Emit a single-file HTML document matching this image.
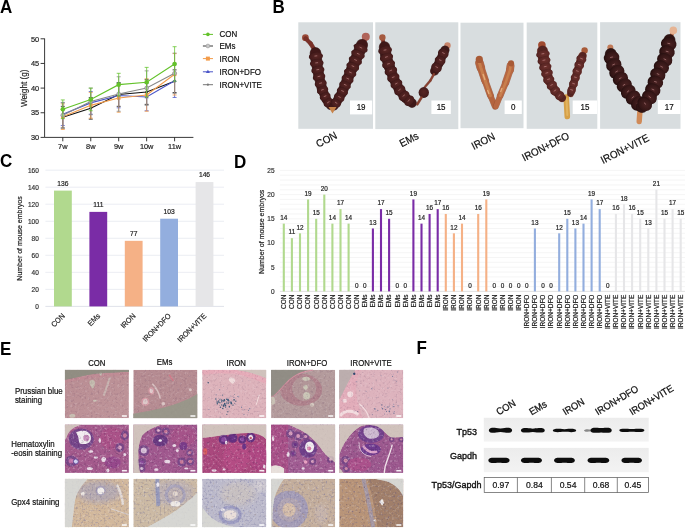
<!DOCTYPE html>
<html><head><meta charset="utf-8"><style>
html,body{margin:0;padding:0;background:#fff;}
body{width:685px;height:528px;overflow:hidden;font-family:"Liberation Sans",sans-serif;}
svg{display:block;will-change:transform;}
svg text{font-family:"Liberation Sans",sans-serif;}
</style></head><body>
<svg width="685" height="528" viewBox="0 0 685 528">
<defs><radialGradient id="bead" cx="0.5" cy="0.45" r="0.6"><stop offset="0" stop-color="#582624"/><stop offset="0.75" stop-color="#461c1c"/><stop offset="1" stop-color="#2e1010"/></radialGradient><radialGradient id="beadd" cx="0.5" cy="0.45" r="0.6"><stop offset="0" stop-color="#6c302c"/><stop offset="0.75" stop-color="#5a2624"/><stop offset="1" stop-color="#3a1614"/></radialGradient><radialGradient id="beadv" cx="0.5" cy="0.42" r="0.6"><stop offset="0" stop-color="#4a2222"/><stop offset="0.7" stop-color="#341616"/><stop offset="1" stop-color="#200c0c"/></radialGradient><filter id="nzL" x="0" y="0" width="1" height="1" color-interpolation-filters="sRGB"><feTurbulence type="fractalNoise" baseFrequency="0.4" numOctaves="2" seed="5"/><feColorMatrix type="matrix" values="0 0 0 0 1  0 0 0 0 1  0 0 0 0 1  4 0 0 0 -2.2"/></filter><filter id="nzB" x="0" y="0" width="1" height="1" color-interpolation-filters="sRGB"><feTurbulence type="fractalNoise" baseFrequency="0.5" numOctaves="2" seed="17"/><feColorMatrix type="matrix" values="0 0 0 0 0.3  0 0 0 0 0.3  0 0 0 0 0.5  0 4 0 0 -2.1"/></filter><filter id="nzD" x="0" y="0" width="1" height="1" color-interpolation-filters="sRGB"><feTurbulence type="fractalNoise" baseFrequency="0.45" numOctaves="2" seed="11"/><feColorMatrix type="matrix" values="0 0 0 0 0.25  0 0 0 0 0.12  0 0 0 0 0.3  0 4 0 0 -2.2"/></filter><clipPath id="c0"><rect x="64.80" y="369.80" width="64.10" height="48.40"/></clipPath><clipPath id="c1"><rect x="133.30" y="369.80" width="64.10" height="48.40"/></clipPath><clipPath id="c2"><rect x="202.20" y="369.80" width="64.10" height="48.40"/></clipPath><clipPath id="c3"><rect x="271.10" y="369.80" width="64.10" height="48.40"/></clipPath><clipPath id="c4"><rect x="339.20" y="369.80" width="64.10" height="48.40"/></clipPath><clipPath id="c5"><rect x="64.80" y="424.50" width="64.10" height="48.40"/></clipPath><clipPath id="c6"><rect x="133.30" y="424.50" width="64.10" height="48.40"/></clipPath><clipPath id="c7"><rect x="202.20" y="424.50" width="64.10" height="48.40"/></clipPath><clipPath id="c8"><rect x="271.10" y="424.50" width="64.10" height="48.40"/></clipPath><clipPath id="c9"><rect x="339.20" y="424.50" width="64.10" height="48.40"/></clipPath><clipPath id="c10"><rect x="64.80" y="478.80" width="64.10" height="48.40"/></clipPath><clipPath id="c11"><rect x="133.30" y="478.80" width="64.10" height="48.40"/></clipPath><clipPath id="c12"><rect x="202.20" y="478.80" width="64.10" height="48.40"/></clipPath><clipPath id="c13"><rect x="271.10" y="478.80" width="64.10" height="48.40"/></clipPath><clipPath id="c14"><rect x="339.20" y="478.80" width="64.10" height="48.40"/></clipPath><linearGradient id="g_con1" x1="0" y1="0" x2="1" y2="1"><stop offset="0" stop-color="#b98d93"/><stop offset="1" stop-color="#bf959a"/></linearGradient><filter id="soft2"><feGaussianBlur stdDeviation="2.5"/></filter><linearGradient id="blotg" x1="0" y1="0" x2="0" y2="1"><stop offset="0" stop-color="#ececec"/><stop offset="1" stop-color="#f3f3f3"/></linearGradient><filter id="blur1" x="-20%" y="-50%" width="140%" height="200%"><feGaussianBlur stdDeviation="0.7"/></filter></defs>
<rect width="685" height="528" fill="#fff"/>
<text transform="translate(0.00 12.50) scale(1 1.07)" font-size="17" text-anchor="start" fill="#000" font-weight="bold">A</text>
<text transform="translate(272.50 12.50) scale(1 1.07)" font-size="17" text-anchor="start" fill="#000" font-weight="bold">B</text>
<text transform="translate(0.00 166.50) scale(1 1.07)" font-size="17" text-anchor="start" fill="#000" font-weight="bold">C</text>
<text transform="translate(234.00 168.00) scale(1 1.07)" font-size="17" text-anchor="start" fill="#000" font-weight="bold">D</text>
<text transform="translate(0.00 354.50) scale(1 1.07)" font-size="17" text-anchor="start" fill="#000" font-weight="bold">E</text>
<text transform="translate(416.50 354.00) scale(1 1.07)" font-size="17" text-anchor="start" fill="#000" font-weight="bold">F</text>
<g stroke="#222" stroke-width="0.9" fill="none">
<path d="M44.6,38.500000000000014 V137.4 H193.4"/>
<path d="M40.6,137.40 H44.6"/>
<path d="M40.6,112.75 H44.6"/>
<path d="M40.6,88.10 H44.6"/>
<path d="M40.6,63.45 H44.6"/>
<path d="M40.6,38.80 H44.6"/>
<path d="M62.80,137.4 v3.9"/>
<path d="M90.75,137.4 v3.9"/>
<path d="M118.70,137.4 v3.9"/>
<path d="M146.65,137.4 v3.9"/>
<path d="M174.60,137.4 v3.9"/>
</g>
<text transform="translate(39.20 140.10) scale(1 1.07)" font-size="7.4" text-anchor="end" fill="#222" stroke="#222" stroke-width="0.18">30</text>
<text transform="translate(39.20 115.45) scale(1 1.07)" font-size="7.4" text-anchor="end" fill="#222" stroke="#222" stroke-width="0.18">35</text>
<text transform="translate(39.20 90.80) scale(1 1.07)" font-size="7.4" text-anchor="end" fill="#222" stroke="#222" stroke-width="0.18">40</text>
<text transform="translate(39.20 66.15) scale(1 1.07)" font-size="7.4" text-anchor="end" fill="#222" stroke="#222" stroke-width="0.18">45</text>
<text transform="translate(39.20 41.50) scale(1 1.07)" font-size="7.4" text-anchor="end" fill="#222" stroke="#222" stroke-width="0.18">50</text>
<text transform="translate(62.80 149.40) scale(1 1.07)" font-size="7.4" text-anchor="middle" fill="#222" stroke="#222" stroke-width="0.18">7w</text>
<text transform="translate(90.75 149.40) scale(1 1.07)" font-size="7.4" text-anchor="middle" fill="#222" stroke="#222" stroke-width="0.18">8w</text>
<text transform="translate(118.70 149.40) scale(1 1.07)" font-size="7.4" text-anchor="middle" fill="#222" stroke="#222" stroke-width="0.18">9w</text>
<text transform="translate(146.65 149.40) scale(1 1.07)" font-size="7.4" text-anchor="middle" fill="#222" stroke="#222" stroke-width="0.18">10w</text>
<text transform="translate(174.60 149.40) scale(1 1.07)" font-size="7.4" text-anchor="middle" fill="#222" stroke="#222" stroke-width="0.18">11w</text>
<text transform="translate(26.60 88.30) rotate(-90) scale(1 1.07)" font-size="8.2" text-anchor="middle" fill="#222" stroke="#222" stroke-width="0.18">Weight (g)</text>
<path d="M62.80,106.34 V128.03 M60.80,106.34 h4 M60.80,128.03 h4" stroke="#111" stroke-width="0.9" fill="none" opacity="0.85"/>
<path d="M90.75,97.47 V119.16 M88.75,97.47 h4 M88.75,119.16 h4" stroke="#111" stroke-width="0.9" fill="none" opacity="0.85"/>
<path d="M118.70,82.68 V106.34 M116.70,82.68 h4 M116.70,106.34 h4" stroke="#111" stroke-width="0.9" fill="none" opacity="0.85"/>
<path d="M146.65,79.72 V104.37 M144.65,79.72 h4 M144.65,104.37 h4" stroke="#111" stroke-width="0.9" fill="none" opacity="0.85"/>
<path d="M174.60,69.86 V92.54 M172.60,69.86 h4 M172.60,92.54 h4" stroke="#111" stroke-width="0.9" fill="none" opacity="0.85"/>
<polyline points="62.80,117.19 90.75,108.31 118.70,94.51 146.65,92.04 174.60,81.20" stroke="#111" stroke-width="1.1" fill="none"/>
<circle cx="62.80" cy="117.19" r="1.3" fill="#111"/>
<circle cx="90.75" cy="108.31" r="1.3" fill="#111"/>
<circle cx="118.70" cy="94.51" r="1.3" fill="#111"/>
<circle cx="146.65" cy="92.04" r="1.3" fill="#111"/>
<circle cx="174.60" cy="81.20" r="1.3" fill="#111"/>
<path d="M62.80,102.89 V125.57 M60.80,102.89 h4 M60.80,125.57 h4" stroke="#4a55c8" stroke-width="0.9" fill="none" opacity="0.85"/>
<path d="M90.75,91.55 V114.23 M88.75,91.55 h4 M88.75,114.23 h4" stroke="#4a55c8" stroke-width="0.9" fill="none" opacity="0.85"/>
<path d="M118.70,83.17 V107.82 M116.70,83.17 h4 M116.70,107.82 h4" stroke="#4a55c8" stroke-width="0.9" fill="none" opacity="0.85"/>
<path d="M146.65,83.17 V110.78 M144.65,83.17 h4 M144.65,110.78 h4" stroke="#4a55c8" stroke-width="0.9" fill="none" opacity="0.85"/>
<path d="M174.60,63.94 V97.47 M172.60,63.94 h4 M172.60,97.47 h4" stroke="#4a55c8" stroke-width="0.9" fill="none" opacity="0.85"/>
<polyline points="62.80,114.23 90.75,102.89 118.70,95.50 146.65,96.97 174.60,80.71" stroke="#4a55c8" stroke-width="1.1" fill="none"/>
<path d="M62.80,112.23 l2,3.4 h-4z" fill="#4a55c8"/>
<path d="M90.75,100.89 l2,3.4 h-4z" fill="#4a55c8"/>
<path d="M118.70,93.50 l2,3.4 h-4z" fill="#4a55c8"/>
<path d="M146.65,94.97 l2,3.4 h-4z" fill="#4a55c8"/>
<path d="M174.60,78.71 l2,3.4 h-4z" fill="#4a55c8"/>
<path d="M62.80,103.88 V129.51 M60.80,103.88 h4 M60.80,129.51 h4" stroke="#f39c4a" stroke-width="0.9" fill="none" opacity="0.85"/>
<path d="M90.75,92.54 V118.17 M88.75,92.54 h4 M88.75,118.17 h4" stroke="#f39c4a" stroke-width="0.9" fill="none" opacity="0.85"/>
<path d="M118.70,83.66 V112.26 M116.70,83.66 h4 M116.70,112.26 h4" stroke="#f39c4a" stroke-width="0.9" fill="none" opacity="0.85"/>
<path d="M146.65,78.73 V111.27 M144.65,78.73 h4 M144.65,111.27 h4" stroke="#f39c4a" stroke-width="0.9" fill="none" opacity="0.85"/>
<path d="M174.60,53.59 V95.00 M172.60,53.59 h4 M172.60,95.00 h4" stroke="#f39c4a" stroke-width="0.9" fill="none" opacity="0.85"/>
<polyline points="62.80,116.69 90.75,105.36 118.70,97.96 146.65,95.00 174.60,74.30" stroke="#f39c4a" stroke-width="1.1" fill="none"/>
<rect x="61.00" y="114.89" width="3.6" height="3.6" fill="#f39c4a"/>
<rect x="88.95" y="103.56" width="3.6" height="3.6" fill="#f39c4a"/>
<rect x="116.90" y="96.16" width="3.6" height="3.6" fill="#f39c4a"/>
<rect x="144.85" y="93.20" width="3.6" height="3.6" fill="#f39c4a"/>
<rect x="172.80" y="72.50" width="3.6" height="3.6" fill="#f39c4a"/>
<path d="M62.80,102.40 V128.03 M60.80,102.40 h4 M60.80,128.03 h4" stroke="#888" stroke-width="0.9" fill="none" opacity="0.85"/>
<path d="M90.75,88.10 V114.72 M88.75,88.10 h4 M88.75,114.72 h4" stroke="#888" stroke-width="0.9" fill="none" opacity="0.85"/>
<path d="M118.70,76.76 V111.27 M116.70,76.76 h4 M116.70,111.27 h4" stroke="#888" stroke-width="0.9" fill="none" opacity="0.85"/>
<path d="M146.65,70.85 V105.36 M144.65,70.85 h4 M144.65,105.36 h4" stroke="#888" stroke-width="0.9" fill="none" opacity="0.85"/>
<path d="M174.60,53.10 V93.52 M172.60,53.10 h4 M172.60,93.52 h4" stroke="#888" stroke-width="0.9" fill="none" opacity="0.85"/>
<polyline points="62.80,115.22 90.75,101.41 118.70,94.02 146.65,88.10 174.60,73.31" stroke="#888" stroke-width="1.1" fill="none"/>
<circle cx="62.80" cy="115.22" r="2" fill="#bbb" stroke="#888" stroke-width="0.6"/>
<circle cx="90.75" cy="101.41" r="2" fill="#bbb" stroke="#888" stroke-width="0.6"/>
<circle cx="118.70" cy="94.02" r="2" fill="#bbb" stroke="#888" stroke-width="0.6"/>
<circle cx="146.65" cy="88.10" r="2" fill="#bbb" stroke="#888" stroke-width="0.6"/>
<circle cx="174.60" cy="73.31" r="2" fill="#bbb" stroke="#888" stroke-width="0.6"/>
<path d="M62.80,99.93 V118.67 M60.80,99.93 h4 M60.80,118.67 h4" stroke="#63c22a" stroke-width="0.9" fill="none" opacity="0.85"/>
<path d="M90.75,88.10 V110.78 M88.75,88.10 h4 M88.75,110.78 h4" stroke="#63c22a" stroke-width="0.9" fill="none" opacity="0.85"/>
<path d="M118.70,73.31 V95.99 M116.70,73.31 h4 M116.70,95.99 h4" stroke="#63c22a" stroke-width="0.9" fill="none" opacity="0.85"/>
<path d="M146.65,67.39 V96.97 M144.65,67.39 h4 M144.65,96.97 h4" stroke="#63c22a" stroke-width="0.9" fill="none" opacity="0.85"/>
<path d="M174.60,46.69 V81.20 M172.60,46.69 h4 M172.60,81.20 h4" stroke="#63c22a" stroke-width="0.9" fill="none" opacity="0.85"/>
<polyline points="62.80,109.30 90.75,99.44 118.70,84.65 146.65,82.18 174.60,63.94" stroke="#63c22a" stroke-width="1.1" fill="none"/>
<circle cx="62.80" cy="109.30" r="2.3" fill="#63c22a"/>
<circle cx="90.75" cy="99.44" r="2.3" fill="#63c22a"/>
<circle cx="118.70" cy="84.65" r="2.3" fill="#63c22a"/>
<circle cx="146.65" cy="82.18" r="2.3" fill="#63c22a"/>
<circle cx="174.60" cy="63.94" r="2.3" fill="#63c22a"/>
<path d="M202.9,34.4 H213" stroke="#63c22a" stroke-width="1"/>
<circle cx="207.9" cy="34.4" r="1.8" fill="#63c22a"/>
<text transform="translate(219.50 37.30) scale(1 1.07)" font-size="8" text-anchor="start" fill="#111" stroke="#111" stroke-width="0.18">CON</text>
<path d="M202.9,46.0 H213" stroke="#3a3a3a" stroke-width="1"/>
<circle cx="207.9" cy="46.0" r="1.9" fill="#c8c8c8" stroke="#999" stroke-width="0.6"/>
<text transform="translate(219.50 48.90) scale(1 1.07)" font-size="8" text-anchor="start" fill="#111" stroke="#111" stroke-width="0.18">EMs</text>
<path d="M202.9,58.6 H213" stroke="#f39c4a" stroke-width="1"/>
<rect x="205.9" y="56.6" width="4" height="4" fill="#f39c4a"/>
<text transform="translate(219.50 61.50) scale(1 1.07)" font-size="8" text-anchor="start" fill="#111" stroke="#111" stroke-width="0.18">IRON</text>
<path d="M202.9,71.8 H213" stroke="#4a55c8" stroke-width="1"/>
<path d="M207.9,69.8 l2,3.3 h-4z" fill="#4a55c8"/>
<text transform="translate(219.50 74.70) scale(1 1.07)" font-size="8" text-anchor="start" fill="#111" stroke="#111" stroke-width="0.18">IRON+DFO</text>
<path d="M202.9,84.7 H213" stroke="#777" stroke-width="1"/>
<circle cx="207.9" cy="84.7" r="1.1" fill="#777"/>
<text transform="translate(219.50 87.60) scale(1 1.07)" font-size="8" text-anchor="start" fill="#111" stroke="#111" stroke-width="0.18">IRON+VITE</text>
<rect x="298.3" y="22.3" width="74.70" height="106.50" fill="#d8dddf"/>
<circle cx="305.4" cy="37.7" r="3.4" fill="#9a4a38" opacity="1"/>
<path d="M305.60,38.50 L310.60,43.50" stroke="#5a2018" stroke-width="4.40" stroke-linecap="round" opacity="0.6"/>
<path d="M310.60,43.50 L314.00,49.00" stroke="#5a2018" stroke-width="4.40" stroke-linecap="round" opacity="0.6"/>
<path d="M305.60,38.50 L310.60,43.50" stroke="#7a3028" stroke-width="3.60" stroke-linecap="round"/>
<path d="M310.60,43.50 L314.00,49.00" stroke="#7a3028" stroke-width="3.60" stroke-linecap="round"/>
<path d="M315.50,53.00 L316.80,63.75" stroke="#2a0e0c" stroke-width="11.68" stroke-linecap="round" opacity="0.6"/>
<path d="M316.80,63.75 L318.90,76.25" stroke="#2a0e0c" stroke-width="11.04" stroke-linecap="round" opacity="0.6"/>
<path d="M318.90,76.25 L322.00,88.75" stroke="#2a0e0c" stroke-width="10.40" stroke-linecap="round" opacity="0.6"/>
<path d="M322.00,88.75 L326.20,99.20" stroke="#2a0e0c" stroke-width="9.76" stroke-linecap="round" opacity="0.6"/>
<path d="M326.20,99.20 L330.50,105.50" stroke="#2a0e0c" stroke-width="9.12" stroke-linecap="round" opacity="0.6"/>
<path d="M315.50,53.00 L316.80,63.75" stroke="#401818" stroke-width="10.88" stroke-linecap="round"/>
<path d="M316.80,63.75 L318.90,76.25" stroke="#401818" stroke-width="10.24" stroke-linecap="round"/>
<path d="M318.90,76.25 L322.00,88.75" stroke="#401818" stroke-width="9.60" stroke-linecap="round"/>
<path d="M322.00,88.75 L326.20,99.20" stroke="#401818" stroke-width="8.96" stroke-linecap="round"/>
<path d="M326.20,99.20 L330.50,105.50" stroke="#401818" stroke-width="8.32" stroke-linecap="round"/>
<ellipse cx="315.91" cy="56.43" rx="4.15" ry="7.15" fill="url(#bead)" transform="rotate(83.1 315.91 56.43)"/>
<path d="M316.85,55.81 L314.86,56.05" stroke="#d09a9a" stroke-width="0.8" stroke-linecap="round" opacity="0.7"/>
<ellipse cx="316.74" cy="63.29" rx="4.15" ry="6.89" fill="url(#bead)" transform="rotate(83.1 316.74 63.29)"/>
<path d="M317.68,62.67 L315.69,62.91" stroke="#d09a9a" stroke-width="0.8" stroke-linecap="round" opacity="0.7"/>
<ellipse cx="317.87" cy="70.11" rx="4.15" ry="6.63" fill="url(#bead)" transform="rotate(80.5 317.87 70.11)"/>
<path d="M318.77,69.45 L316.80,69.78" stroke="#d09a9a" stroke-width="0.8" stroke-linecap="round" opacity="0.7"/>
<ellipse cx="319.06" cy="76.91" rx="4.15" ry="6.37" fill="url(#bead)" transform="rotate(76.1 319.06 76.91)"/>
<path d="M319.91,76.18 L317.97,76.66" stroke="#d09a9a" stroke-width="0.8" stroke-linecap="round" opacity="0.7"/>
<ellipse cx="320.73" cy="83.61" rx="4.15" ry="6.11" fill="url(#bead)" transform="rotate(76.1 320.73 83.61)"/>
<path d="M321.58,82.89 L319.64,83.37" stroke="#d09a9a" stroke-width="0.8" stroke-linecap="round" opacity="0.7"/>
<ellipse cx="322.60" cy="90.25" rx="4.15" ry="5.85" fill="url(#bead)" transform="rotate(68.1 322.60 90.25)"/>
<path d="M323.34,89.41 L321.49,90.16" stroke="#d09a9a" stroke-width="0.8" stroke-linecap="round" opacity="0.7"/>
<ellipse cx="325.18" cy="96.66" rx="4.15" ry="5.59" fill="url(#bead)" transform="rotate(68.1 325.18 96.66)"/>
<path d="M325.92,95.82 L324.07,96.57" stroke="#d09a9a" stroke-width="0.8" stroke-linecap="round" opacity="0.7"/>
<ellipse cx="328.55" cy="102.65" rx="4.15" ry="5.33" fill="url(#bead)" transform="rotate(55.7 328.55 102.65)"/>
<path d="M329.10,101.67 L327.44,102.80" stroke="#d09a9a" stroke-width="0.8" stroke-linecap="round" opacity="0.7"/>
<path d="M365.80,36.70 L363.00,44.00" stroke="#6a2a20" stroke-width="4.80" stroke-linecap="round" opacity="0.6"/>
<path d="M365.80,36.70 L363.00,44.00" stroke="#8a3a30" stroke-width="4.00" stroke-linecap="round"/>
<circle cx="365.8" cy="36.7" r="4" fill="#b0645a" opacity="1"/>
<path d="M362.00,45.00 L357.50,55.40" stroke="#2a0e0c" stroke-width="12.10" stroke-linecap="round" opacity="0.6"/>
<path d="M357.50,55.40 L352.25,67.90" stroke="#2a0e0c" stroke-width="11.50" stroke-linecap="round" opacity="0.6"/>
<path d="M352.25,67.90 L347.00,80.40" stroke="#2a0e0c" stroke-width="10.90" stroke-linecap="round" opacity="0.6"/>
<path d="M347.00,80.40 L341.80,92.90" stroke="#2a0e0c" stroke-width="10.30" stroke-linecap="round" opacity="0.6"/>
<path d="M341.80,92.90 L336.60,102.00" stroke="#2a0e0c" stroke-width="9.70" stroke-linecap="round" opacity="0.6"/>
<path d="M336.60,102.00 L334.00,106.00" stroke="#2a0e0c" stroke-width="9.10" stroke-linecap="round" opacity="0.6"/>
<path d="M362.00,45.00 L357.50,55.40" stroke="#401818" stroke-width="11.30" stroke-linecap="round"/>
<path d="M357.50,55.40 L352.25,67.90" stroke="#401818" stroke-width="10.70" stroke-linecap="round"/>
<path d="M352.25,67.90 L347.00,80.40" stroke="#401818" stroke-width="10.10" stroke-linecap="round"/>
<path d="M347.00,80.40 L341.80,92.90" stroke="#401818" stroke-width="9.50" stroke-linecap="round"/>
<path d="M341.80,92.90 L336.60,102.00" stroke="#401818" stroke-width="8.90" stroke-linecap="round"/>
<path d="M336.60,102.00 L334.00,106.00" stroke="#401818" stroke-width="8.30" stroke-linecap="round"/>
<ellipse cx="360.66" cy="48.09" rx="4.03" ry="7.42" fill="url(#bead)" transform="rotate(113.4 360.66 48.09)"/>
<path d="M361.78,48.02 L359.95,47.23" stroke="#d09a9a" stroke-width="0.8" stroke-linecap="round" opacity="0.7"/>
<ellipse cx="357.99" cy="54.26" rx="4.03" ry="7.19" fill="url(#bead)" transform="rotate(113.4 357.99 54.26)"/>
<path d="M359.11,54.19 L357.28,53.40" stroke="#d09a9a" stroke-width="0.8" stroke-linecap="round" opacity="0.7"/>
<ellipse cx="355.38" cy="60.45" rx="4.03" ry="6.96" fill="url(#bead)" transform="rotate(112.8 355.38 60.45)"/>
<path d="M356.49,60.38 L354.65,59.60" stroke="#d09a9a" stroke-width="0.8" stroke-linecap="round" opacity="0.7"/>
<ellipse cx="352.78" cy="66.65" rx="4.03" ry="6.72" fill="url(#bead)" transform="rotate(112.8 352.78 66.65)"/>
<path d="M353.89,66.58 L352.05,65.80" stroke="#d09a9a" stroke-width="0.8" stroke-linecap="round" opacity="0.7"/>
<ellipse cx="350.17" cy="72.85" rx="4.03" ry="6.49" fill="url(#bead)" transform="rotate(112.8 350.17 72.85)"/>
<path d="M351.29,72.77 L349.44,72.00" stroke="#d09a9a" stroke-width="0.8" stroke-linecap="round" opacity="0.7"/>
<ellipse cx="347.57" cy="79.05" rx="4.03" ry="6.25" fill="url(#bead)" transform="rotate(112.8 347.57 79.05)"/>
<path d="M348.68,78.97 L346.84,78.20" stroke="#d09a9a" stroke-width="0.8" stroke-linecap="round" opacity="0.7"/>
<ellipse cx="344.98" cy="85.25" rx="4.03" ry="6.02" fill="url(#bead)" transform="rotate(112.6 344.98 85.25)"/>
<path d="M346.10,85.18 L344.25,84.41" stroke="#d09a9a" stroke-width="0.8" stroke-linecap="round" opacity="0.7"/>
<ellipse cx="342.40" cy="91.46" rx="4.03" ry="5.79" fill="url(#bead)" transform="rotate(112.6 342.40 91.46)"/>
<path d="M343.51,91.38 L341.67,90.62" stroke="#d09a9a" stroke-width="0.8" stroke-linecap="round" opacity="0.7"/>
<ellipse cx="339.24" cy="97.39" rx="4.03" ry="5.55" fill="url(#bead)" transform="rotate(119.7 339.24 97.39)"/>
<path d="M340.35,97.45 L338.62,96.46" stroke="#d09a9a" stroke-width="0.8" stroke-linecap="round" opacity="0.7"/>
<ellipse cx="335.83" cy="103.18" rx="4.03" ry="5.32" fill="url(#bead)" transform="rotate(123.0 335.83 103.18)"/>
<path d="M336.94,103.31 L335.27,102.22" stroke="#d09a9a" stroke-width="0.8" stroke-linecap="round" opacity="0.7"/>
<path d="M328.5,107 L336.5,107 L332.5,113.5 Z" fill="#c8844a"/>
<rect x="350" y="100.5" width="22.20" height="13.90" fill="#fff"/>
<text transform="translate(361.10 110.35) scale(1 1.07)" font-size="8" text-anchor="middle" fill="#111" stroke="#111" stroke-width="0.18">19</text>
<rect x="375.3" y="22.3" width="83.00" height="106.80" fill="#d8dddf"/>
<path d="M382.40,37.40 L384.00,46.00" stroke="#5a2018" stroke-width="4.00" stroke-linecap="round" opacity="0.6"/>
<path d="M382.40,37.40 L384.00,46.00" stroke="#7a3028" stroke-width="3.20" stroke-linecap="round"/>
<circle cx="382.4" cy="37.4" r="3.2" fill="#a55a40" opacity="1"/>
<path d="M384.50,47.00 L386.00,55.80" stroke="#2a0e0c" stroke-width="11.43" stroke-linecap="round" opacity="0.6"/>
<path d="M386.00,55.80 L389.30,66.60" stroke="#2a0e0c" stroke-width="11.10" stroke-linecap="round" opacity="0.6"/>
<path d="M389.30,66.60 L393.60,78.40" stroke="#2a0e0c" stroke-width="10.77" stroke-linecap="round" opacity="0.6"/>
<path d="M393.60,78.40 L399.00,89.20" stroke="#2a0e0c" stroke-width="10.43" stroke-linecap="round" opacity="0.6"/>
<path d="M399.00,89.20 L405.50,97.90" stroke="#2a0e0c" stroke-width="10.10" stroke-linecap="round" opacity="0.6"/>
<path d="M405.50,97.90 L412.00,103.00" stroke="#2a0e0c" stroke-width="9.77" stroke-linecap="round" opacity="0.6"/>
<path d="M384.50,47.00 L386.00,55.80" stroke="#3e1818" stroke-width="10.63" stroke-linecap="round"/>
<path d="M386.00,55.80 L389.30,66.60" stroke="#3e1818" stroke-width="10.30" stroke-linecap="round"/>
<path d="M389.30,66.60 L393.60,78.40" stroke="#3e1818" stroke-width="9.97" stroke-linecap="round"/>
<path d="M393.60,78.40 L399.00,89.20" stroke="#3e1818" stroke-width="9.63" stroke-linecap="round"/>
<path d="M399.00,89.20 L405.50,97.90" stroke="#3e1818" stroke-width="9.30" stroke-linecap="round"/>
<path d="M405.50,97.90 L412.00,103.00" stroke="#3e1818" stroke-width="8.97" stroke-linecap="round"/>
<ellipse cx="385.10" cy="50.50" rx="4.27" ry="6.95" fill="url(#bead)" transform="rotate(80.3 385.10 50.50)"/>
<path d="M386.00,49.84 L384.03,50.18" stroke="#d09a9a" stroke-width="0.8" stroke-linecap="round" opacity="0.7"/>
<ellipse cx="386.51" cy="57.46" rx="4.27" ry="6.80" fill="url(#bead)" transform="rotate(73.0 386.51 57.46)"/>
<path d="M387.32,56.69 L385.40,57.27" stroke="#d09a9a" stroke-width="0.8" stroke-linecap="round" opacity="0.7"/>
<ellipse cx="388.58" cy="64.26" rx="4.27" ry="6.66" fill="url(#bead)" transform="rotate(73.0 388.58 64.26)"/>
<path d="M389.39,63.49 L387.48,64.07" stroke="#d09a9a" stroke-width="0.8" stroke-linecap="round" opacity="0.7"/>
<ellipse cx="390.90" cy="70.98" rx="4.27" ry="6.51" fill="url(#bead)" transform="rotate(70.0 390.90 70.98)"/>
<path d="M391.66,70.17 L389.78,70.85" stroke="#d09a9a" stroke-width="0.8" stroke-linecap="round" opacity="0.7"/>
<ellipse cx="393.33" cy="77.66" rx="4.27" ry="6.37" fill="url(#bead)" transform="rotate(70.0 393.33 77.66)"/>
<path d="M394.10,76.84 L392.22,77.53" stroke="#d09a9a" stroke-width="0.8" stroke-linecap="round" opacity="0.7"/>
<ellipse cx="396.43" cy="84.05" rx="4.27" ry="6.23" fill="url(#bead)" transform="rotate(63.4 396.43 84.05)"/>
<path d="M397.10,83.16 L395.31,84.05" stroke="#d09a9a" stroke-width="0.8" stroke-linecap="round" opacity="0.7"/>
<ellipse cx="399.81" cy="90.28" rx="4.27" ry="6.08" fill="url(#bead)" transform="rotate(53.2 399.81 90.28)"/>
<path d="M400.31,89.28 L398.71,90.48" stroke="#d09a9a" stroke-width="0.8" stroke-linecap="round" opacity="0.7"/>
<ellipse cx="404.06" cy="95.98" rx="4.27" ry="5.94" fill="url(#bead)" transform="rotate(53.2 404.06 95.98)"/>
<path d="M404.56,94.98 L402.96,96.17" stroke="#d09a9a" stroke-width="0.8" stroke-linecap="round" opacity="0.7"/>
<ellipse cx="409.20" cy="100.81" rx="4.27" ry="5.79" fill="url(#bead)" transform="rotate(38.1 409.20 100.81)"/>
<path d="M409.43,99.71 L408.19,101.28" stroke="#d09a9a" stroke-width="0.8" stroke-linecap="round" opacity="0.7"/>
<path d="M447.50,45.50 L446.00,50.00" stroke="#6a3020" stroke-width="4.00" stroke-linecap="round" opacity="0.6"/>
<path d="M447.50,45.50 L446.00,50.00" stroke="#8a4030" stroke-width="3.20" stroke-linecap="round"/>
<circle cx="447.5" cy="45.5" r="3.2" fill="#c8846a" opacity="1"/>
<path d="M445.00,50.00 L443.20,53.60" stroke="#2a0e0c" stroke-width="9.20" stroke-linecap="round" opacity="0.6"/>
<path d="M443.20,53.60 L438.90,63.30" stroke="#2a0e0c" stroke-width="9.20" stroke-linecap="round" opacity="0.6"/>
<path d="M438.90,63.30 L434.60,71.00" stroke="#2a0e0c" stroke-width="9.20" stroke-linecap="round" opacity="0.6"/>
<path d="M445.00,50.00 L443.20,53.60" stroke="#3e1818" stroke-width="8.40" stroke-linecap="round"/>
<path d="M443.20,53.60 L438.90,63.30" stroke="#3e1818" stroke-width="8.40" stroke-linecap="round"/>
<path d="M438.90,63.30 L434.60,71.00" stroke="#3e1818" stroke-width="8.40" stroke-linecap="round"/>
<ellipse cx="443.25" cy="53.50" rx="4.69" ry="5.46" fill="url(#bead)" transform="rotate(116.6 443.25 53.50)"/>
<path d="M444.37,53.50 L442.58,52.60" stroke="#d09a9a" stroke-width="0.8" stroke-linecap="round" opacity="0.7"/>
<ellipse cx="440.08" cy="60.64" rx="4.69" ry="5.46" fill="url(#bead)" transform="rotate(113.9 440.08 60.64)"/>
<path d="M441.20,60.59 L439.37,59.78" stroke="#d09a9a" stroke-width="0.8" stroke-linecap="round" opacity="0.7"/>
<ellipse cx="436.51" cy="67.59" rx="4.69" ry="5.46" fill="url(#bead)" transform="rotate(119.2 436.51 67.59)"/>
<path d="M437.62,67.64 L435.88,66.66" stroke="#d09a9a" stroke-width="0.8" stroke-linecap="round" opacity="0.7"/>
<path d="M434.00,74.00 L430.30,80.60" stroke="#6a3020" stroke-width="2.56" stroke-linecap="round" opacity="0.6"/>
<path d="M430.30,80.60 L424.90,87.00" stroke="#6a3020" stroke-width="2.56" stroke-linecap="round" opacity="0.6"/>
<path d="M434.00,74.00 L430.30,80.60" stroke="#8a4030" stroke-width="1.76" stroke-linecap="round"/>
<path d="M430.30,80.60 L424.90,87.00" stroke="#8a4030" stroke-width="1.76" stroke-linecap="round"/>
<ellipse cx="423.8" cy="92.5" rx="5.2" ry="5.4" fill="url(#bead)"/>
<path d="M421.50,97.50 L417.30,104.30" stroke="#6a3020" stroke-width="2.72" stroke-linecap="round" opacity="0.6"/>
<path d="M421.50,97.50 L417.30,104.30" stroke="#8a4030" stroke-width="1.92" stroke-linecap="round"/>
<rect x="431.4" y="100.5" width="19.40" height="13.50" fill="#fff"/>
<text transform="translate(441.10 110.15) scale(1 1.07)" font-size="8" text-anchor="middle" fill="#111" stroke="#111" stroke-width="0.18">15</text>
<rect x="460.5" y="22.7" width="63.00" height="105.50" fill="#d8dddf"/>
<path d="M479.50,63.00 L480.80,67.60" stroke="#8a4428" stroke-width="8.75" stroke-linecap="round" opacity="0.6"/>
<path d="M480.80,67.60 L485.10,80.60" stroke="#8a4428" stroke-width="7.85" stroke-linecap="round" opacity="0.6"/>
<path d="M485.10,80.60 L490.50,95.70" stroke="#8a4428" stroke-width="6.95" stroke-linecap="round" opacity="0.6"/>
<path d="M490.50,95.70 L494.90,106.50" stroke="#8a4428" stroke-width="6.05" stroke-linecap="round" opacity="0.6"/>
<path d="M479.50,63.00 L480.80,67.60" stroke="#b4643e" stroke-width="7.95" stroke-linecap="round"/>
<path d="M480.80,67.60 L485.10,80.60" stroke="#b4643e" stroke-width="7.05" stroke-linecap="round"/>
<path d="M485.10,80.60 L490.50,95.70" stroke="#b4643e" stroke-width="6.15" stroke-linecap="round"/>
<path d="M490.50,95.70 L494.90,106.50" stroke="#b4643e" stroke-width="5.25" stroke-linecap="round"/>
<path d="M510.50,66.00 L510.00,69.80" stroke="#8a4428" stroke-width="8.05" stroke-linecap="round" opacity="0.6"/>
<path d="M510.00,69.80 L505.60,82.80" stroke="#8a4428" stroke-width="7.35" stroke-linecap="round" opacity="0.6"/>
<path d="M505.60,82.80 L500.20,95.70" stroke="#8a4428" stroke-width="6.65" stroke-linecap="round" opacity="0.6"/>
<path d="M500.20,95.70 L495.90,106.50" stroke="#8a4428" stroke-width="5.95" stroke-linecap="round" opacity="0.6"/>
<path d="M510.50,66.00 L510.00,69.80" stroke="#b86842" stroke-width="7.25" stroke-linecap="round"/>
<path d="M510.00,69.80 L505.60,82.80" stroke="#b86842" stroke-width="6.55" stroke-linecap="round"/>
<path d="M505.60,82.80 L500.20,95.70" stroke="#b86842" stroke-width="5.85" stroke-linecap="round"/>
<path d="M500.20,95.70 L495.90,106.50" stroke="#b86842" stroke-width="5.15" stroke-linecap="round"/>
<path d="M479.50,63.00 L480.80,67.60 L485.10,80.60 L490.50,95.70" stroke="#cc8450" stroke-width="3" fill="none" stroke-linecap="round" opacity="0.8"/>
<path d="M510.50,66.00 L510.00,69.80 L505.60,82.80 L500.20,95.70" stroke="#cc8450" stroke-width="2.6" fill="none" stroke-linecap="round" opacity="0.8"/>
<circle cx="479.3" cy="59.4" r="3.6" fill="#a85a36" opacity="1"/>
<circle cx="511" cy="63.3" r="3.1" fill="#a85a36" opacity="1"/>
<path d="M483,74 l2,6 M487.5,90 l1.5,4 M502,88 l-1.5,4" stroke="#ecb888" stroke-width="1.3" opacity="0.8"/>
<rect x="504.6" y="100.5" width="17.20" height="13.50" fill="#fff"/>
<text transform="translate(513.20 110.15) scale(1 1.07)" font-size="8" text-anchor="middle" fill="#111" stroke="#111" stroke-width="0.18">0</text>
<rect x="526.7" y="22.5" width="70.60" height="106.30" fill="#d8dddf"/>
<path d="M566.2,97 L567.3,116.5" stroke="#d6a048" stroke-width="5.6" stroke-linecap="round"/>
<path d="M566.5,99 L567.3,115" stroke="#e8bc68" stroke-width="2" stroke-linecap="round" opacity="0.7"/>
<path d="M541.90,45.00 L542.30,50.00" stroke="#6a2a1c" stroke-width="4.40" stroke-linecap="round" opacity="0.6"/>
<path d="M541.90,45.00 L542.30,50.00" stroke="#8a3a28" stroke-width="3.60" stroke-linecap="round"/>
<path d="M584.60,50.40 L583.00,55.00" stroke="#6a2a1c" stroke-width="4.00" stroke-linecap="round" opacity="0.6"/>
<path d="M584.60,50.40 L583.00,55.00" stroke="#8a3a28" stroke-width="3.20" stroke-linecap="round"/>
<circle cx="541.9" cy="45" r="3.8" fill="#a04a30" opacity="1"/>
<circle cx="584.6" cy="50.4" r="3.2" fill="#a85a38" opacity="1"/>
<path d="M542.50,51.00 L543.50,58.00" stroke="#8a3a28" stroke-width="11.24" stroke-linecap="round" opacity="0.6"/>
<path d="M543.50,58.00 L545.50,68.00" stroke="#8a3a28" stroke-width="10.52" stroke-linecap="round" opacity="0.6"/>
<path d="M545.50,68.00 L549.00,80.60" stroke="#8a3a28" stroke-width="9.80" stroke-linecap="round" opacity="0.6"/>
<path d="M549.00,80.60 L555.50,91.40" stroke="#8a3a28" stroke-width="9.08" stroke-linecap="round" opacity="0.6"/>
<path d="M555.50,91.40 L562.00,98.00" stroke="#8a3a28" stroke-width="8.36" stroke-linecap="round" opacity="0.6"/>
<path d="M542.50,51.00 L543.50,58.00" stroke="#552421" stroke-width="10.44" stroke-linecap="round"/>
<path d="M543.50,58.00 L545.50,68.00" stroke="#552421" stroke-width="9.72" stroke-linecap="round"/>
<path d="M545.50,68.00 L549.00,80.60" stroke="#552421" stroke-width="9.00" stroke-linecap="round"/>
<path d="M549.00,80.60 L555.50,91.40" stroke="#552421" stroke-width="8.28" stroke-linecap="round"/>
<path d="M555.50,91.40 L562.00,98.00" stroke="#552421" stroke-width="7.56" stroke-linecap="round"/>
<ellipse cx="542.96" cy="54.23" rx="3.92" ry="6.87" fill="url(#beadd)" transform="rotate(81.9 542.96 54.23)"/>
<path d="M543.88,53.59 L541.90,53.88" stroke="#d09a9a" stroke-width="0.8" stroke-linecap="round" opacity="0.7"/>
<ellipse cx="544.03" cy="60.67" rx="3.92" ry="6.58" fill="url(#beadd)" transform="rotate(78.7 544.03 60.67)"/>
<path d="M544.92,59.98 L542.95,60.37" stroke="#d09a9a" stroke-width="0.8" stroke-linecap="round" opacity="0.7"/>
<ellipse cx="545.31" cy="67.07" rx="3.92" ry="6.29" fill="url(#beadd)" transform="rotate(78.7 545.31 67.07)"/>
<path d="M546.20,66.38 L544.23,66.77" stroke="#d09a9a" stroke-width="0.8" stroke-linecap="round" opacity="0.7"/>
<ellipse cx="546.99" cy="73.37" rx="3.92" ry="6.00" fill="url(#beadd)" transform="rotate(74.5 546.99 73.37)"/>
<path d="M547.82,72.62 L545.89,73.16" stroke="#d09a9a" stroke-width="0.8" stroke-linecap="round" opacity="0.7"/>
<ellipse cx="548.74" cy="79.66" rx="3.92" ry="5.70" fill="url(#beadd)" transform="rotate(74.5 548.74 79.66)"/>
<path d="M549.57,78.91 L547.64,79.45" stroke="#d09a9a" stroke-width="0.8" stroke-linecap="round" opacity="0.7"/>
<ellipse cx="551.86" cy="85.36" rx="3.92" ry="5.41" fill="url(#beadd)" transform="rotate(59.0 551.86 85.36)"/>
<path d="M552.46,84.41 L550.75,85.44" stroke="#d09a9a" stroke-width="0.8" stroke-linecap="round" opacity="0.7"/>
<ellipse cx="555.23" cy="90.95" rx="3.92" ry="5.12" fill="url(#beadd)" transform="rotate(59.0 555.23 90.95)"/>
<path d="M555.83,90.00 L554.11,91.04" stroke="#d09a9a" stroke-width="0.8" stroke-linecap="round" opacity="0.7"/>
<ellipse cx="559.71" cy="95.67" rx="3.92" ry="4.83" fill="url(#beadd)" transform="rotate(45.4 559.71 95.67)"/>
<path d="M560.07,94.62 L558.65,96.02" stroke="#d09a9a" stroke-width="0.8" stroke-linecap="round" opacity="0.7"/>
<path d="M582.50,56.00 L580.30,62.00" stroke="#8a3a28" stroke-width="8.60" stroke-linecap="round" opacity="0.6"/>
<path d="M580.30,62.00 L577.00,72.00" stroke="#8a3a28" stroke-width="8.20" stroke-linecap="round" opacity="0.6"/>
<path d="M577.00,72.00 L573.80,82.80" stroke="#8a3a28" stroke-width="7.80" stroke-linecap="round" opacity="0.6"/>
<path d="M573.80,82.80 L570.60,93.50" stroke="#8a3a28" stroke-width="7.40" stroke-linecap="round" opacity="0.6"/>
<path d="M582.50,56.00 L580.30,62.00" stroke="#552421" stroke-width="7.80" stroke-linecap="round"/>
<path d="M580.30,62.00 L577.00,72.00" stroke="#552421" stroke-width="7.40" stroke-linecap="round"/>
<path d="M577.00,72.00 L573.80,82.80" stroke="#552421" stroke-width="7.00" stroke-linecap="round"/>
<path d="M573.80,82.80 L570.60,93.50" stroke="#552421" stroke-width="6.60" stroke-linecap="round"/>
<ellipse cx="581.37" cy="59.08" rx="3.94" ry="5.11" fill="url(#beadd)" transform="rotate(110.1 581.37 59.08)"/>
<path d="M582.48,58.95 L580.60,58.27" stroke="#d09a9a" stroke-width="0.8" stroke-linecap="round" opacity="0.7"/>
<ellipse cx="579.22" cy="65.27" rx="3.94" ry="4.94" fill="url(#beadd)" transform="rotate(108.3 579.22 65.27)"/>
<path d="M580.33,65.11 L578.43,64.49" stroke="#d09a9a" stroke-width="0.8" stroke-linecap="round" opacity="0.7"/>
<ellipse cx="577.16" cy="71.50" rx="3.94" ry="4.77" fill="url(#beadd)" transform="rotate(108.3 577.16 71.50)"/>
<path d="M578.27,71.34 L576.37,70.71" stroke="#d09a9a" stroke-width="0.8" stroke-linecap="round" opacity="0.7"/>
<ellipse cx="575.29" cy="77.79" rx="3.94" ry="4.59" fill="url(#beadd)" transform="rotate(106.5 575.29 77.79)"/>
<path d="M576.39,77.59 L574.47,77.02" stroke="#d09a9a" stroke-width="0.8" stroke-linecap="round" opacity="0.7"/>
<ellipse cx="573.42" cy="84.07" rx="3.94" ry="4.42" fill="url(#beadd)" transform="rotate(106.7 573.42 84.07)"/>
<path d="M574.52,83.88 L572.60,83.31" stroke="#d09a9a" stroke-width="0.8" stroke-linecap="round" opacity="0.7"/>
<ellipse cx="571.54" cy="90.36" rx="3.94" ry="4.25" fill="url(#beadd)" transform="rotate(106.7 571.54 90.36)"/>
<path d="M572.64,90.17 L570.72,89.59" stroke="#d09a9a" stroke-width="0.8" stroke-linecap="round" opacity="0.7"/>
<rect x="572.7" y="100.5" width="24.40" height="13.50" fill="#fff"/>
<text transform="translate(584.90 110.15) scale(1 1.07)" font-size="8" text-anchor="middle" fill="#111" stroke="#111" stroke-width="0.18">15</text>
<rect x="600.1" y="22.2" width="80.40" height="106.60" fill="#d8dddf"/>
<path d="M640,110 L639.2,121.5" stroke="#d08a58" stroke-width="5.4" stroke-linecap="round"/>
<path d="M610.30,47.60 L610.80,52.00" stroke="#8a4028" stroke-width="3.60" stroke-linecap="round" opacity="0.6"/>
<path d="M610.30,47.60 L610.80,52.00" stroke="#b0603c" stroke-width="2.80" stroke-linecap="round"/>
<path d="M673.30,30.40 L671.00,37.00" stroke="#a06040" stroke-width="4.00" stroke-linecap="round" opacity="0.6"/>
<path d="M673.30,30.40 L671.00,37.00" stroke="#c88060" stroke-width="3.20" stroke-linecap="round"/>
<circle cx="610.3" cy="47.6" r="3" fill="#c07a58" opacity="1"/>
<circle cx="673.3" cy="30.4" r="3.8" fill="#e6b494" opacity="1"/>
<path d="M610.80,54.00 L612.50,62.00" stroke="#200a0a" stroke-width="12.00" stroke-linecap="round" opacity="0.6"/>
<path d="M612.50,62.00 L616.00,70.50" stroke="#200a0a" stroke-width="12.00" stroke-linecap="round" opacity="0.6"/>
<path d="M616.00,70.50 L621.00,79.90" stroke="#200a0a" stroke-width="12.00" stroke-linecap="round" opacity="0.6"/>
<path d="M621.00,79.90 L627.80,91.30" stroke="#200a0a" stroke-width="12.00" stroke-linecap="round" opacity="0.6"/>
<path d="M627.80,91.30 L635.80,101.00" stroke="#200a0a" stroke-width="12.00" stroke-linecap="round" opacity="0.6"/>
<path d="M635.80,101.00 L641.00,106.00" stroke="#200a0a" stroke-width="12.00" stroke-linecap="round" opacity="0.6"/>
<path d="M610.80,54.00 L612.50,62.00" stroke="#2e1414" stroke-width="11.20" stroke-linecap="round"/>
<path d="M612.50,62.00 L616.00,70.50" stroke="#2e1414" stroke-width="11.20" stroke-linecap="round"/>
<path d="M616.00,70.50 L621.00,79.90" stroke="#2e1414" stroke-width="11.20" stroke-linecap="round"/>
<path d="M621.00,79.90 L627.80,91.30" stroke="#2e1414" stroke-width="11.20" stroke-linecap="round"/>
<path d="M627.80,91.30 L635.80,101.00" stroke="#2e1414" stroke-width="11.20" stroke-linecap="round"/>
<path d="M635.80,101.00 L641.00,106.00" stroke="#2e1414" stroke-width="11.20" stroke-linecap="round"/>
<ellipse cx="611.59" cy="57.73" rx="6.60" ry="7.86" fill="url(#beadv)" transform="rotate(78.0 611.59 57.73)"/>
<path d="M612.47,57.04 L610.51,57.45" stroke="#d09a9a" stroke-width="0.8" stroke-linecap="round" opacity="0.7"/>
<ellipse cx="613.75" cy="65.03" rx="6.60" ry="7.86" fill="url(#beadv)" transform="rotate(67.6 613.75 65.03)"/>
<path d="M614.48,64.18 L612.63,64.95" stroke="#d09a9a" stroke-width="0.8" stroke-linecap="round" opacity="0.7"/>
<ellipse cx="616.81" cy="72.02" rx="6.60" ry="7.86" fill="url(#beadv)" transform="rotate(62.0 616.81 72.02)"/>
<path d="M617.45,71.10 L615.69,72.04" stroke="#d09a9a" stroke-width="0.8" stroke-linecap="round" opacity="0.7"/>
<ellipse cx="620.39" cy="78.76" rx="6.60" ry="7.86" fill="url(#beadv)" transform="rotate(62.0 620.39 78.76)"/>
<path d="M621.04,77.84 L619.27,78.78" stroke="#d09a9a" stroke-width="0.8" stroke-linecap="round" opacity="0.7"/>
<ellipse cx="624.25" cy="85.34" rx="6.60" ry="7.86" fill="url(#beadv)" transform="rotate(59.2 624.25 85.34)"/>
<path d="M624.85,84.40 L623.13,85.43" stroke="#d09a9a" stroke-width="0.8" stroke-linecap="round" opacity="0.7"/>
<ellipse cx="628.25" cy="91.84" rx="6.60" ry="7.86" fill="url(#beadv)" transform="rotate(50.5 628.25 91.84)"/>
<path d="M628.70,90.82 L627.16,92.09" stroke="#d09a9a" stroke-width="0.8" stroke-linecap="round" opacity="0.7"/>
<ellipse cx="633.10" cy="97.73" rx="6.60" ry="7.86" fill="url(#beadv)" transform="rotate(50.5 633.10 97.73)"/>
<path d="M633.56,96.71 L632.01,97.98" stroke="#d09a9a" stroke-width="0.8" stroke-linecap="round" opacity="0.7"/>
<ellipse cx="638.25" cy="103.35" rx="6.60" ry="7.86" fill="url(#beadv)" transform="rotate(43.9 638.25 103.35)"/>
<path d="M638.58,102.29 L637.19,103.73" stroke="#d09a9a" stroke-width="0.8" stroke-linecap="round" opacity="0.7"/>
<path d="M669.50,40.00 L667.50,50.00" stroke="#200a0a" stroke-width="12.00" stroke-linecap="round" opacity="0.6"/>
<path d="M667.50,50.00 L665.50,58.00" stroke="#200a0a" stroke-width="12.00" stroke-linecap="round" opacity="0.6"/>
<path d="M665.50,58.00 L661.90,66.00" stroke="#200a0a" stroke-width="12.00" stroke-linecap="round" opacity="0.6"/>
<path d="M661.90,66.00 L657.40,75.40" stroke="#200a0a" stroke-width="12.00" stroke-linecap="round" opacity="0.6"/>
<path d="M657.40,75.40 L654.00,86.70" stroke="#200a0a" stroke-width="12.00" stroke-linecap="round" opacity="0.6"/>
<path d="M654.00,86.70 L650.50,95.80" stroke="#200a0a" stroke-width="12.00" stroke-linecap="round" opacity="0.6"/>
<path d="M650.50,95.80 L645.50,103.00" stroke="#200a0a" stroke-width="12.00" stroke-linecap="round" opacity="0.6"/>
<path d="M645.50,103.00 L642.00,107.00" stroke="#200a0a" stroke-width="12.00" stroke-linecap="round" opacity="0.6"/>
<path d="M669.50,40.00 L667.50,50.00" stroke="#2e1414" stroke-width="11.20" stroke-linecap="round"/>
<path d="M667.50,50.00 L665.50,58.00" stroke="#2e1414" stroke-width="11.20" stroke-linecap="round"/>
<path d="M665.50,58.00 L661.90,66.00" stroke="#2e1414" stroke-width="11.20" stroke-linecap="round"/>
<path d="M661.90,66.00 L657.40,75.40" stroke="#2e1414" stroke-width="11.20" stroke-linecap="round"/>
<path d="M657.40,75.40 L654.00,86.70" stroke="#2e1414" stroke-width="11.20" stroke-linecap="round"/>
<path d="M654.00,86.70 L650.50,95.80" stroke="#2e1414" stroke-width="11.20" stroke-linecap="round"/>
<path d="M650.50,95.80 L645.50,103.00" stroke="#2e1414" stroke-width="11.20" stroke-linecap="round"/>
<path d="M645.50,103.00 L642.00,107.00" stroke="#2e1414" stroke-width="11.20" stroke-linecap="round"/>
<ellipse cx="668.70" cy="43.99" rx="6.60" ry="7.86" fill="url(#beadv)" transform="rotate(101.3 668.70 43.99)"/>
<path d="M669.78,43.70 L667.82,43.31" stroke="#d09a9a" stroke-width="0.8" stroke-linecap="round" opacity="0.7"/>
<ellipse cx="667.01" cy="51.95" rx="6.60" ry="7.86" fill="url(#beadv)" transform="rotate(104.0 667.01 51.95)"/>
<path d="M668.10,51.71 L666.16,51.23" stroke="#d09a9a" stroke-width="0.8" stroke-linecap="round" opacity="0.7"/>
<ellipse cx="664.72" cy="59.74" rx="6.60" ry="7.86" fill="url(#beadv)" transform="rotate(114.2 664.72 59.74)"/>
<path d="M665.83,59.69 L664.01,58.87" stroke="#d09a9a" stroke-width="0.8" stroke-linecap="round" opacity="0.7"/>
<ellipse cx="661.35" cy="67.15" rx="6.60" ry="7.86" fill="url(#beadv)" transform="rotate(115.6 661.35 67.15)"/>
<path d="M662.47,67.13 L660.66,66.27" stroke="#d09a9a" stroke-width="0.8" stroke-linecap="round" opacity="0.7"/>
<ellipse cx="657.83" cy="74.49" rx="6.60" ry="7.86" fill="url(#beadv)" transform="rotate(115.6 657.83 74.49)"/>
<path d="M658.95,74.48 L657.15,73.61" stroke="#d09a9a" stroke-width="0.8" stroke-linecap="round" opacity="0.7"/>
<ellipse cx="655.34" cy="82.23" rx="6.60" ry="7.86" fill="url(#beadv)" transform="rotate(106.7 655.34 82.23)"/>
<path d="M656.45,82.04 L654.53,81.47" stroke="#d09a9a" stroke-width="0.8" stroke-linecap="round" opacity="0.7"/>
<ellipse cx="652.75" cy="89.95" rx="6.60" ry="7.86" fill="url(#beadv)" transform="rotate(111.0 652.75 89.95)"/>
<path d="M653.86,89.84 L652.00,89.12" stroke="#d09a9a" stroke-width="0.8" stroke-linecap="round" opacity="0.7"/>
<ellipse cx="649.43" cy="97.34" rx="6.60" ry="7.86" fill="url(#beadv)" transform="rotate(124.8 649.43 97.34)"/>
<path d="M650.54,97.50 L648.90,96.35" stroke="#d09a9a" stroke-width="0.8" stroke-linecap="round" opacity="0.7"/>
<ellipse cx="644.68" cy="103.94" rx="6.60" ry="7.86" fill="url(#beadv)" transform="rotate(131.2 644.68 103.94)"/>
<path d="M645.76,104.22 L644.26,102.90" stroke="#d09a9a" stroke-width="0.8" stroke-linecap="round" opacity="0.7"/>
<rect x="657.8" y="100" width="22.70" height="14.00" fill="#fff"/>
<text transform="translate(669.15 109.90) scale(1 1.07)" font-size="8" text-anchor="middle" fill="#111" stroke="#111" stroke-width="0.18">17</text>
<text transform="translate(318.30 147.80) rotate(-27) scale(1 1.07)" font-size="9.9" text-anchor="start" fill="#111" stroke="#111" stroke-width="0.18">CON</text>
<text transform="translate(401.80 147.20) rotate(-27) scale(1 1.07)" font-size="9.9" text-anchor="start" fill="#111" stroke="#111" stroke-width="0.18">EMs</text>
<text transform="translate(473.80 150.00) rotate(-27) scale(1 1.07)" font-size="9.9" text-anchor="start" fill="#111" stroke="#111" stroke-width="0.18">IRON</text>
<text transform="translate(524.30 161.50) rotate(-27) scale(1 1.07)" font-size="9.9" text-anchor="start" fill="#111" stroke="#111" stroke-width="0.18">IRON+DFO</text>
<text transform="translate(603.10 164.00) rotate(-27) scale(1 1.07)" font-size="9.9" text-anchor="start" fill="#111" stroke="#111" stroke-width="0.18">IRON+VITE</text>
<g stroke="#e6e8f0" stroke-width="0.8">
<path d="M45.4,289.37 H224"/>
<path d="M45.4,272.34 H224"/>
<path d="M45.4,255.31 H224"/>
<path d="M45.4,238.28 H224"/>
<path d="M45.4,221.25 H224"/>
<path d="M45.4,204.22 H224"/>
<path d="M45.4,187.19 H224"/>
<path d="M45.4,170.16 H224"/>
</g>
<path d="M45.4,306.40 H224" stroke="#d8dae4" stroke-width="0.8"/>
<text transform="translate(38.80 309.30) scale(1 1.07)" font-size="6.5" text-anchor="end" fill="#333" stroke="#333" stroke-width="0.18">0</text>
<text transform="translate(38.80 292.27) scale(1 1.07)" font-size="6.5" text-anchor="end" fill="#333" stroke="#333" stroke-width="0.18">20</text>
<text transform="translate(38.80 275.24) scale(1 1.07)" font-size="6.5" text-anchor="end" fill="#333" stroke="#333" stroke-width="0.18">40</text>
<text transform="translate(38.80 258.21) scale(1 1.07)" font-size="6.5" text-anchor="end" fill="#333" stroke="#333" stroke-width="0.18">60</text>
<text transform="translate(38.80 241.18) scale(1 1.07)" font-size="6.5" text-anchor="end" fill="#333" stroke="#333" stroke-width="0.18">80</text>
<text transform="translate(38.80 224.15) scale(1 1.07)" font-size="6.5" text-anchor="end" fill="#333" stroke="#333" stroke-width="0.18">100</text>
<text transform="translate(38.80 207.12) scale(1 1.07)" font-size="6.5" text-anchor="end" fill="#333" stroke="#333" stroke-width="0.18">120</text>
<text transform="translate(38.80 190.09) scale(1 1.07)" font-size="6.5" text-anchor="end" fill="#333" stroke="#333" stroke-width="0.18">140</text>
<text transform="translate(38.80 173.06) scale(1 1.07)" font-size="6.5" text-anchor="end" fill="#333" stroke="#333" stroke-width="0.18">160</text>
<text transform="translate(22.30 238.50) rotate(-90) scale(1 1.07)" font-size="7" text-anchor="middle" fill="#222" stroke="#222" stroke-width="0.18">Number of mouse embryos</text>
<rect x="54.00" y="190.60" width="17.8" height="115.80" fill="#b1d98e"/>
<text transform="translate(62.90 185.80) scale(1 1.07)" font-size="6.7" text-anchor="middle" fill="#222" stroke="#222" stroke-width="0.18">136</text>
<text transform="translate(65.20 316.50) rotate(-45) scale(1 1.07)" font-size="7" text-anchor="end" fill="#222" stroke="#222" stroke-width="0.18">CON</text>
<rect x="89.40" y="211.88" width="17.8" height="94.52" fill="#7a2ca6"/>
<text transform="translate(98.30 207.08) scale(1 1.07)" font-size="6.7" text-anchor="middle" fill="#222" stroke="#222" stroke-width="0.18">111</text>
<text transform="translate(100.60 316.50) rotate(-45) scale(1 1.07)" font-size="7" text-anchor="end" fill="#222" stroke="#222" stroke-width="0.18">EMs</text>
<rect x="124.80" y="240.83" width="17.8" height="65.57" fill="#f5b186"/>
<text transform="translate(133.70 236.03) scale(1 1.07)" font-size="6.7" text-anchor="middle" fill="#222" stroke="#222" stroke-width="0.18">77</text>
<text transform="translate(136.00 316.50) rotate(-45) scale(1 1.07)" font-size="7" text-anchor="end" fill="#222" stroke="#222" stroke-width="0.18">IRON</text>
<rect x="160.20" y="218.70" width="17.8" height="87.70" fill="#93aede"/>
<text transform="translate(169.10 213.90) scale(1 1.07)" font-size="6.7" text-anchor="middle" fill="#222" stroke="#222" stroke-width="0.18">103</text>
<text transform="translate(171.40 316.50) rotate(-45) scale(1 1.07)" font-size="7" text-anchor="end" fill="#222" stroke="#222" stroke-width="0.18">IRON+DFO</text>
<rect x="195.60" y="182.08" width="17.8" height="124.32" fill="#e6e6e8"/>
<text transform="translate(204.50 177.28) scale(1 1.07)" font-size="6.7" text-anchor="middle" fill="#222" stroke="#222" stroke-width="0.18">146</text>
<text transform="translate(206.80 316.50) rotate(-45) scale(1 1.07)" font-size="7" text-anchor="end" fill="#222" stroke="#222" stroke-width="0.18">IRON+VITE</text>
<g stroke="#f0f0f0" stroke-width="0.7">
<path d="M279.9,286.56 H685"/>
<path d="M279.9,281.72 H685"/>
<path d="M279.9,276.88 H685"/>
<path d="M279.9,272.04 H685"/>
<path d="M279.9,267.20 H685"/>
<path d="M279.9,262.36 H685"/>
<path d="M279.9,257.52 H685"/>
<path d="M279.9,252.68 H685"/>
<path d="M279.9,247.84 H685"/>
<path d="M279.9,243.00 H685"/>
<path d="M279.9,238.16 H685"/>
<path d="M279.9,233.32 H685"/>
<path d="M279.9,228.48 H685"/>
<path d="M279.9,223.64 H685"/>
<path d="M279.9,218.80 H685"/>
<path d="M279.9,213.96 H685"/>
<path d="M279.9,209.12 H685"/>
<path d="M279.9,204.28 H685"/>
<path d="M279.9,199.44 H685"/>
<path d="M279.9,194.60 H685"/>
<path d="M279.9,189.76 H685"/>
<path d="M279.9,184.92 H685"/>
<path d="M279.9,180.08 H685"/>
<path d="M279.9,175.24 H685"/>
<path d="M279.9,170.40 H685"/>
</g>
<path d="M279.9,291.40 H685" stroke="#d9d9d9" stroke-width="0.8"/>
<text transform="translate(274.60 293.70) scale(1 1.07)" font-size="6.5" text-anchor="end" fill="#333" stroke="#333" stroke-width="0.18">0</text>
<text transform="translate(274.60 269.50) scale(1 1.07)" font-size="6.5" text-anchor="end" fill="#333" stroke="#333" stroke-width="0.18">5</text>
<text transform="translate(274.60 245.30) scale(1 1.07)" font-size="6.5" text-anchor="end" fill="#333" stroke="#333" stroke-width="0.18">10</text>
<text transform="translate(274.60 221.10) scale(1 1.07)" font-size="6.5" text-anchor="end" fill="#333" stroke="#333" stroke-width="0.18">15</text>
<text transform="translate(274.60 196.90) scale(1 1.07)" font-size="6.5" text-anchor="end" fill="#333" stroke="#333" stroke-width="0.18">20</text>
<text transform="translate(274.60 172.70) scale(1 1.07)" font-size="6.5" text-anchor="end" fill="#333" stroke="#333" stroke-width="0.18">25</text>
<text transform="translate(263.80 231.80) rotate(-90) scale(1 1.07)" font-size="7" text-anchor="middle" fill="#222" stroke="#222" stroke-width="0.18">Number of mouse embryos</text>
<rect x="282.75" y="223.64" width="2.1" height="67.76" fill="#b1d98e"/>
<text transform="translate(283.80 219.94) scale(1 1.07)" font-size="6.4" text-anchor="middle" fill="#222" stroke="#222" stroke-width="0.18">14</text>
<text transform="translate(286.10 294.60) rotate(-90) scale(1 1.07)" font-size="6.5" text-anchor="end" fill="#222" stroke="#222" stroke-width="0.18">CON</text>
<rect x="290.85" y="238.16" width="2.1" height="53.24" fill="#b1d98e"/>
<text transform="translate(291.90 234.46) scale(1 1.07)" font-size="6.4" text-anchor="middle" fill="#222" stroke="#222" stroke-width="0.18">11</text>
<text transform="translate(294.20 294.60) rotate(-90) scale(1 1.07)" font-size="6.5" text-anchor="end" fill="#222" stroke="#222" stroke-width="0.18">CON</text>
<rect x="298.95" y="233.32" width="2.1" height="58.08" fill="#b1d98e"/>
<text transform="translate(300.00 229.62) scale(1 1.07)" font-size="6.4" text-anchor="middle" fill="#222" stroke="#222" stroke-width="0.18">12</text>
<text transform="translate(302.30 294.60) rotate(-90) scale(1 1.07)" font-size="6.5" text-anchor="end" fill="#222" stroke="#222" stroke-width="0.18">CON</text>
<rect x="307.05" y="199.44" width="2.1" height="91.96" fill="#b1d98e"/>
<text transform="translate(308.10 195.74) scale(1 1.07)" font-size="6.4" text-anchor="middle" fill="#222" stroke="#222" stroke-width="0.18">19</text>
<text transform="translate(310.40 294.60) rotate(-90) scale(1 1.07)" font-size="6.5" text-anchor="end" fill="#222" stroke="#222" stroke-width="0.18">CON</text>
<rect x="315.15" y="218.80" width="2.1" height="72.60" fill="#b1d98e"/>
<text transform="translate(316.20 215.10) scale(1 1.07)" font-size="6.4" text-anchor="middle" fill="#222" stroke="#222" stroke-width="0.18">15</text>
<text transform="translate(318.50 294.60) rotate(-90) scale(1 1.07)" font-size="6.5" text-anchor="end" fill="#222" stroke="#222" stroke-width="0.18">CON</text>
<rect x="323.25" y="194.60" width="2.1" height="96.80" fill="#b1d98e"/>
<text transform="translate(324.30 190.90) scale(1 1.07)" font-size="6.4" text-anchor="middle" fill="#222" stroke="#222" stroke-width="0.18">20</text>
<text transform="translate(326.60 294.60) rotate(-90) scale(1 1.07)" font-size="6.5" text-anchor="end" fill="#222" stroke="#222" stroke-width="0.18">CON</text>
<rect x="331.35" y="223.64" width="2.1" height="67.76" fill="#b1d98e"/>
<text transform="translate(332.40 219.94) scale(1 1.07)" font-size="6.4" text-anchor="middle" fill="#222" stroke="#222" stroke-width="0.18">14</text>
<text transform="translate(334.70 294.60) rotate(-90) scale(1 1.07)" font-size="6.5" text-anchor="end" fill="#222" stroke="#222" stroke-width="0.18">CON</text>
<rect x="339.45" y="209.12" width="2.1" height="82.28" fill="#b1d98e"/>
<text transform="translate(340.50 205.42) scale(1 1.07)" font-size="6.4" text-anchor="middle" fill="#222" stroke="#222" stroke-width="0.18">17</text>
<text transform="translate(342.80 294.60) rotate(-90) scale(1 1.07)" font-size="6.5" text-anchor="end" fill="#222" stroke="#222" stroke-width="0.18">CON</text>
<rect x="347.55" y="223.64" width="2.1" height="67.76" fill="#b1d98e"/>
<text transform="translate(348.60 219.94) scale(1 1.07)" font-size="6.4" text-anchor="middle" fill="#222" stroke="#222" stroke-width="0.18">14</text>
<text transform="translate(350.90 294.60) rotate(-90) scale(1 1.07)" font-size="6.5" text-anchor="end" fill="#222" stroke="#222" stroke-width="0.18">CON</text>
<text transform="translate(356.70 287.70) scale(1 1.07)" font-size="6.4" text-anchor="middle" fill="#222" stroke="#222" stroke-width="0.18">0</text>
<text transform="translate(359.00 294.60) rotate(-90) scale(1 1.07)" font-size="6.5" text-anchor="end" fill="#222" stroke="#222" stroke-width="0.18">CON</text>
<text transform="translate(364.80 287.70) scale(1 1.07)" font-size="6.4" text-anchor="middle" fill="#222" stroke="#222" stroke-width="0.18">0</text>
<text transform="translate(367.10 294.60) rotate(-90) scale(1 1.07)" font-size="6.5" text-anchor="end" fill="#222" stroke="#222" stroke-width="0.18">EMs</text>
<rect x="371.85" y="228.48" width="2.1" height="62.92" fill="#7a2ca6"/>
<text transform="translate(372.90 224.78) scale(1 1.07)" font-size="6.4" text-anchor="middle" fill="#222" stroke="#222" stroke-width="0.18">13</text>
<text transform="translate(375.20 294.60) rotate(-90) scale(1 1.07)" font-size="6.5" text-anchor="end" fill="#222" stroke="#222" stroke-width="0.18">EMs</text>
<rect x="379.95" y="209.12" width="2.1" height="82.28" fill="#7a2ca6"/>
<text transform="translate(381.00 205.42) scale(1 1.07)" font-size="6.4" text-anchor="middle" fill="#222" stroke="#222" stroke-width="0.18">17</text>
<text transform="translate(383.30 294.60) rotate(-90) scale(1 1.07)" font-size="6.5" text-anchor="end" fill="#222" stroke="#222" stroke-width="0.18">EMs</text>
<rect x="388.05" y="218.80" width="2.1" height="72.60" fill="#7a2ca6"/>
<text transform="translate(389.10 215.10) scale(1 1.07)" font-size="6.4" text-anchor="middle" fill="#222" stroke="#222" stroke-width="0.18">15</text>
<text transform="translate(391.40 294.60) rotate(-90) scale(1 1.07)" font-size="6.5" text-anchor="end" fill="#222" stroke="#222" stroke-width="0.18">EMs</text>
<text transform="translate(397.20 287.70) scale(1 1.07)" font-size="6.4" text-anchor="middle" fill="#222" stroke="#222" stroke-width="0.18">0</text>
<text transform="translate(399.50 294.60) rotate(-90) scale(1 1.07)" font-size="6.5" text-anchor="end" fill="#222" stroke="#222" stroke-width="0.18">EMs</text>
<text transform="translate(405.30 287.70) scale(1 1.07)" font-size="6.4" text-anchor="middle" fill="#222" stroke="#222" stroke-width="0.18">0</text>
<text transform="translate(407.60 294.60) rotate(-90) scale(1 1.07)" font-size="6.5" text-anchor="end" fill="#222" stroke="#222" stroke-width="0.18">EMs</text>
<rect x="412.35" y="199.44" width="2.1" height="91.96" fill="#7a2ca6"/>
<text transform="translate(413.40 195.74) scale(1 1.07)" font-size="6.4" text-anchor="middle" fill="#222" stroke="#222" stroke-width="0.18">19</text>
<text transform="translate(415.70 294.60) rotate(-90) scale(1 1.07)" font-size="6.5" text-anchor="end" fill="#222" stroke="#222" stroke-width="0.18">EMs</text>
<rect x="420.45" y="223.64" width="2.1" height="67.76" fill="#7a2ca6"/>
<text transform="translate(421.50 219.94) scale(1 1.07)" font-size="6.4" text-anchor="middle" fill="#222" stroke="#222" stroke-width="0.18">14</text>
<text transform="translate(423.80 294.60) rotate(-90) scale(1 1.07)" font-size="6.5" text-anchor="end" fill="#222" stroke="#222" stroke-width="0.18">EMs</text>
<rect x="428.55" y="213.96" width="2.1" height="77.44" fill="#7a2ca6"/>
<text transform="translate(429.60 210.26) scale(1 1.07)" font-size="6.4" text-anchor="middle" fill="#222" stroke="#222" stroke-width="0.18">16</text>
<text transform="translate(431.90 294.60) rotate(-90) scale(1 1.07)" font-size="6.5" text-anchor="end" fill="#222" stroke="#222" stroke-width="0.18">EMs</text>
<rect x="436.65" y="209.12" width="2.1" height="82.28" fill="#7a2ca6"/>
<text transform="translate(437.70 205.42) scale(1 1.07)" font-size="6.4" text-anchor="middle" fill="#222" stroke="#222" stroke-width="0.18">17</text>
<text transform="translate(440.00 294.60) rotate(-90) scale(1 1.07)" font-size="6.5" text-anchor="end" fill="#222" stroke="#222" stroke-width="0.18">EMs</text>
<rect x="444.75" y="213.96" width="2.1" height="77.44" fill="#f5b186"/>
<text transform="translate(445.80 210.26) scale(1 1.07)" font-size="6.4" text-anchor="middle" fill="#222" stroke="#222" stroke-width="0.18">16</text>
<text transform="translate(448.10 294.60) rotate(-90) scale(1 1.07)" font-size="6.5" text-anchor="end" fill="#222" stroke="#222" stroke-width="0.18">IRON</text>
<rect x="452.85" y="233.32" width="2.1" height="58.08" fill="#f5b186"/>
<text transform="translate(453.90 229.62) scale(1 1.07)" font-size="6.4" text-anchor="middle" fill="#222" stroke="#222" stroke-width="0.18">12</text>
<text transform="translate(456.20 294.60) rotate(-90) scale(1 1.07)" font-size="6.5" text-anchor="end" fill="#222" stroke="#222" stroke-width="0.18">IRON</text>
<rect x="460.95" y="223.64" width="2.1" height="67.76" fill="#f5b186"/>
<text transform="translate(462.00 219.94) scale(1 1.07)" font-size="6.4" text-anchor="middle" fill="#222" stroke="#222" stroke-width="0.18">14</text>
<text transform="translate(464.30 294.60) rotate(-90) scale(1 1.07)" font-size="6.5" text-anchor="end" fill="#222" stroke="#222" stroke-width="0.18">IRON</text>
<text transform="translate(470.10 287.70) scale(1 1.07)" font-size="6.4" text-anchor="middle" fill="#222" stroke="#222" stroke-width="0.18">0</text>
<text transform="translate(472.40 294.60) rotate(-90) scale(1 1.07)" font-size="6.5" text-anchor="end" fill="#222" stroke="#222" stroke-width="0.18">IRON</text>
<rect x="477.15" y="213.96" width="2.1" height="77.44" fill="#f5b186"/>
<text transform="translate(478.20 210.26) scale(1 1.07)" font-size="6.4" text-anchor="middle" fill="#222" stroke="#222" stroke-width="0.18">16</text>
<text transform="translate(480.50 294.60) rotate(-90) scale(1 1.07)" font-size="6.5" text-anchor="end" fill="#222" stroke="#222" stroke-width="0.18">IRON</text>
<rect x="485.25" y="199.44" width="2.1" height="91.96" fill="#f5b186"/>
<text transform="translate(486.30 195.74) scale(1 1.07)" font-size="6.4" text-anchor="middle" fill="#222" stroke="#222" stroke-width="0.18">19</text>
<text transform="translate(488.60 294.60) rotate(-90) scale(1 1.07)" font-size="6.5" text-anchor="end" fill="#222" stroke="#222" stroke-width="0.18">IRON</text>
<text transform="translate(494.40 287.70) scale(1 1.07)" font-size="6.4" text-anchor="middle" fill="#222" stroke="#222" stroke-width="0.18">0</text>
<text transform="translate(496.70 294.60) rotate(-90) scale(1 1.07)" font-size="6.5" text-anchor="end" fill="#222" stroke="#222" stroke-width="0.18">IRON</text>
<text transform="translate(502.50 287.70) scale(1 1.07)" font-size="6.4" text-anchor="middle" fill="#222" stroke="#222" stroke-width="0.18">0</text>
<text transform="translate(504.80 294.60) rotate(-90) scale(1 1.07)" font-size="6.5" text-anchor="end" fill="#222" stroke="#222" stroke-width="0.18">IRON</text>
<text transform="translate(510.60 287.70) scale(1 1.07)" font-size="6.4" text-anchor="middle" fill="#222" stroke="#222" stroke-width="0.18">0</text>
<text transform="translate(512.90 294.60) rotate(-90) scale(1 1.07)" font-size="6.5" text-anchor="end" fill="#222" stroke="#222" stroke-width="0.18">IRON</text>
<text transform="translate(518.70 287.70) scale(1 1.07)" font-size="6.4" text-anchor="middle" fill="#222" stroke="#222" stroke-width="0.18">0</text>
<text transform="translate(521.00 294.60) rotate(-90) scale(1 1.07)" font-size="6.5" text-anchor="end" fill="#222" stroke="#222" stroke-width="0.18">IRON</text>
<text transform="translate(526.80 287.70) scale(1 1.07)" font-size="6.4" text-anchor="middle" fill="#222" stroke="#222" stroke-width="0.18">0</text>
<text transform="translate(529.10 294.60) rotate(-90) scale(1 1.07)" font-size="6.5" text-anchor="end" fill="#222" stroke="#222" stroke-width="0.18">IRON+DFO</text>
<rect x="533.85" y="228.48" width="2.1" height="62.92" fill="#93aede"/>
<text transform="translate(534.90 224.78) scale(1 1.07)" font-size="6.4" text-anchor="middle" fill="#222" stroke="#222" stroke-width="0.18">13</text>
<text transform="translate(537.20 294.60) rotate(-90) scale(1 1.07)" font-size="6.5" text-anchor="end" fill="#222" stroke="#222" stroke-width="0.18">IRON+DFO</text>
<text transform="translate(543.00 287.70) scale(1 1.07)" font-size="6.4" text-anchor="middle" fill="#222" stroke="#222" stroke-width="0.18">0</text>
<text transform="translate(545.30 294.60) rotate(-90) scale(1 1.07)" font-size="6.5" text-anchor="end" fill="#222" stroke="#222" stroke-width="0.18">IRON+DFO</text>
<text transform="translate(551.10 287.70) scale(1 1.07)" font-size="6.4" text-anchor="middle" fill="#222" stroke="#222" stroke-width="0.18">0</text>
<text transform="translate(553.40 294.60) rotate(-90) scale(1 1.07)" font-size="6.5" text-anchor="end" fill="#222" stroke="#222" stroke-width="0.18">IRON+DFO</text>
<rect x="558.15" y="233.32" width="2.1" height="58.08" fill="#93aede"/>
<text transform="translate(559.20 229.62) scale(1 1.07)" font-size="6.4" text-anchor="middle" fill="#222" stroke="#222" stroke-width="0.18">12</text>
<text transform="translate(561.50 294.60) rotate(-90) scale(1 1.07)" font-size="6.5" text-anchor="end" fill="#222" stroke="#222" stroke-width="0.18">IRON+DFO</text>
<rect x="566.25" y="218.80" width="2.1" height="72.60" fill="#93aede"/>
<text transform="translate(567.30 215.10) scale(1 1.07)" font-size="6.4" text-anchor="middle" fill="#222" stroke="#222" stroke-width="0.18">15</text>
<text transform="translate(569.60 294.60) rotate(-90) scale(1 1.07)" font-size="6.5" text-anchor="end" fill="#222" stroke="#222" stroke-width="0.18">IRON+DFO</text>
<rect x="574.35" y="228.48" width="2.1" height="62.92" fill="#93aede"/>
<text transform="translate(575.40 224.78) scale(1 1.07)" font-size="6.4" text-anchor="middle" fill="#222" stroke="#222" stroke-width="0.18">13</text>
<text transform="translate(577.70 294.60) rotate(-90) scale(1 1.07)" font-size="6.5" text-anchor="end" fill="#222" stroke="#222" stroke-width="0.18">IRON+DFO</text>
<rect x="582.45" y="223.64" width="2.1" height="67.76" fill="#93aede"/>
<text transform="translate(583.50 219.94) scale(1 1.07)" font-size="6.4" text-anchor="middle" fill="#222" stroke="#222" stroke-width="0.18">14</text>
<text transform="translate(585.80 294.60) rotate(-90) scale(1 1.07)" font-size="6.5" text-anchor="end" fill="#222" stroke="#222" stroke-width="0.18">IRON+DFO</text>
<rect x="590.55" y="199.44" width="2.1" height="91.96" fill="#93aede"/>
<text transform="translate(591.60 195.74) scale(1 1.07)" font-size="6.4" text-anchor="middle" fill="#222" stroke="#222" stroke-width="0.18">19</text>
<text transform="translate(593.90 294.60) rotate(-90) scale(1 1.07)" font-size="6.5" text-anchor="end" fill="#222" stroke="#222" stroke-width="0.18">IRON+DFO</text>
<rect x="598.65" y="209.12" width="2.1" height="82.28" fill="#93aede"/>
<text transform="translate(599.70 205.42) scale(1 1.07)" font-size="6.4" text-anchor="middle" fill="#222" stroke="#222" stroke-width="0.18">17</text>
<text transform="translate(602.00 294.60) rotate(-90) scale(1 1.07)" font-size="6.5" text-anchor="end" fill="#222" stroke="#222" stroke-width="0.18">IRON+DFO</text>
<text transform="translate(607.80 287.70) scale(1 1.07)" font-size="6.4" text-anchor="middle" fill="#222" stroke="#222" stroke-width="0.18">0</text>
<text transform="translate(610.10 294.60) rotate(-90) scale(1 1.07)" font-size="6.5" text-anchor="end" fill="#222" stroke="#222" stroke-width="0.18">IRON+VITE</text>
<rect x="614.85" y="213.96" width="2.1" height="77.44" fill="#e6e6e8"/>
<text transform="translate(615.90 210.26) scale(1 1.07)" font-size="6.4" text-anchor="middle" fill="#222" stroke="#222" stroke-width="0.18">16</text>
<text transform="translate(618.20 294.60) rotate(-90) scale(1 1.07)" font-size="6.5" text-anchor="end" fill="#222" stroke="#222" stroke-width="0.18">IRON+VITE</text>
<rect x="622.95" y="204.28" width="2.1" height="87.12" fill="#e6e6e8"/>
<text transform="translate(624.00 200.58) scale(1 1.07)" font-size="6.4" text-anchor="middle" fill="#222" stroke="#222" stroke-width="0.18">18</text>
<text transform="translate(626.30 294.60) rotate(-90) scale(1 1.07)" font-size="6.5" text-anchor="end" fill="#222" stroke="#222" stroke-width="0.18">IRON+VITE</text>
<rect x="631.05" y="213.96" width="2.1" height="77.44" fill="#e6e6e8"/>
<text transform="translate(632.10 210.26) scale(1 1.07)" font-size="6.4" text-anchor="middle" fill="#222" stroke="#222" stroke-width="0.18">16</text>
<text transform="translate(634.40 294.60) rotate(-90) scale(1 1.07)" font-size="6.5" text-anchor="end" fill="#222" stroke="#222" stroke-width="0.18">IRON+VITE</text>
<rect x="639.15" y="218.80" width="2.1" height="72.60" fill="#e6e6e8"/>
<text transform="translate(640.20 215.10) scale(1 1.07)" font-size="6.4" text-anchor="middle" fill="#222" stroke="#222" stroke-width="0.18">15</text>
<text transform="translate(642.50 294.60) rotate(-90) scale(1 1.07)" font-size="6.5" text-anchor="end" fill="#222" stroke="#222" stroke-width="0.18">IRON+VITE</text>
<rect x="647.25" y="228.48" width="2.1" height="62.92" fill="#e6e6e8"/>
<text transform="translate(648.30 224.78) scale(1 1.07)" font-size="6.4" text-anchor="middle" fill="#222" stroke="#222" stroke-width="0.18">13</text>
<text transform="translate(650.60 294.60) rotate(-90) scale(1 1.07)" font-size="6.5" text-anchor="end" fill="#222" stroke="#222" stroke-width="0.18">IRON+VITE</text>
<rect x="655.35" y="189.76" width="2.1" height="101.64" fill="#e6e6e8"/>
<text transform="translate(656.40 186.06) scale(1 1.07)" font-size="6.4" text-anchor="middle" fill="#222" stroke="#222" stroke-width="0.18">21</text>
<text transform="translate(658.70 294.60) rotate(-90) scale(1 1.07)" font-size="6.5" text-anchor="end" fill="#222" stroke="#222" stroke-width="0.18">IRON+VITE</text>
<rect x="663.45" y="218.80" width="2.1" height="72.60" fill="#e6e6e8"/>
<text transform="translate(664.50 215.10) scale(1 1.07)" font-size="6.4" text-anchor="middle" fill="#222" stroke="#222" stroke-width="0.18">15</text>
<text transform="translate(666.80 294.60) rotate(-90) scale(1 1.07)" font-size="6.5" text-anchor="end" fill="#222" stroke="#222" stroke-width="0.18">IRON+VITE</text>
<rect x="671.55" y="209.12" width="2.1" height="82.28" fill="#e6e6e8"/>
<text transform="translate(672.60 205.42) scale(1 1.07)" font-size="6.4" text-anchor="middle" fill="#222" stroke="#222" stroke-width="0.18">17</text>
<text transform="translate(674.90 294.60) rotate(-90) scale(1 1.07)" font-size="6.5" text-anchor="end" fill="#222" stroke="#222" stroke-width="0.18">IRON+VITE</text>
<rect x="679.65" y="218.80" width="2.1" height="72.60" fill="#e6e6e8"/>
<text transform="translate(680.70 215.10) scale(1 1.07)" font-size="6.4" text-anchor="middle" fill="#222" stroke="#222" stroke-width="0.18">15</text>
<text transform="translate(683.00 294.60) rotate(-90) scale(1 1.07)" font-size="6.5" text-anchor="end" fill="#222" stroke="#222" stroke-width="0.18">IRON+VITE</text>
<text transform="translate(96.80 366.00) scale(1 1.07)" font-size="7.8" text-anchor="middle" fill="#111" stroke="#111" stroke-width="0.18">CON</text>
<text transform="translate(164.60 365.20) scale(1 1.07)" font-size="7.8" text-anchor="middle" fill="#111" stroke="#111" stroke-width="0.18">EMs</text>
<text transform="translate(236.20 366.00) scale(1 1.07)" font-size="7.8" text-anchor="middle" fill="#111" stroke="#111" stroke-width="0.18">IRON</text>
<text transform="translate(307.00 366.00) scale(1 1.07)" font-size="7.8" text-anchor="middle" fill="#111" stroke="#111" stroke-width="0.18">IRON+DFO</text>
<text transform="translate(371.00 366.00) scale(1 1.07)" font-size="7.8" text-anchor="middle" fill="#111" stroke="#111" stroke-width="0.18">IRON+VITE</text>
<text transform="translate(14.90 393.50) scale(1 1.07)" font-size="7.9" text-anchor="start" fill="#111" stroke="#111" stroke-width="0.18">Prussian blue</text>
<text transform="translate(14.90 403.30) scale(1 1.07)" font-size="7.9" text-anchor="start" fill="#111" stroke="#111" stroke-width="0.18">staining</text>
<text transform="translate(11.20 446.90) scale(1 1.07)" font-size="7.9" text-anchor="start" fill="#111" stroke="#111" stroke-width="0.18">Hematoxylin</text>
<text transform="translate(11.20 455.90) scale(1 1.07)" font-size="7.9" text-anchor="start" fill="#111" stroke="#111" stroke-width="0.18">-eosin staining</text>
<text transform="translate(11.20 504.60) scale(1 1.07)" font-size="7.9" text-anchor="start" fill="#111" stroke="#111" stroke-width="0.18">Gpx4 staining</text>
<g clip-path="url(#c0)">
<rect x="64.8" y="369.8" width="64.1" height="48.4" fill="url(#g_con1)"/>
<path d="M64.8,369.8 H128.89999999999998 V372.0 C114.8,372.3 104.8,372.8 94.8,373.8 C82.8,375.8 72.8,378.3 64.8,379.8 Z" fill="#918d83"/>
<path d="M64.8,379.8 C72.8,378.3 82.8,375.8 94.8,373.8 C104.8,372.8 114.8,372.3 128.89999999999998,372.0 V374.8 C104.8,375.8 84.8,378.8 64.8,382.8 Z" fill="#c88896" opacity="0.35"/>
<path d="M89.8,380.8 C92.8,378.8 95.8,380.8 94.8,383.8 C94.8,386.8 92.8,389.8 91.8,387.8 C89.8,384.8 88.8,382.8 89.8,380.8 Z" fill="#c4bcae"/>
<path d="M109.8,377.8 C107.8,383.8 105.8,389.8 103.8,395.8" stroke="#c8b4b0" stroke-width="2" fill="none"/>
<ellipse cx="100.8" cy="373.8" rx="1.2" ry="2" fill="#c8beb4"/>
<ellipse cx="72.3" cy="415.8" rx="3" ry="2" fill="#c6bcb0"/>
<ellipse cx="94.8" cy="400.8" rx="2" ry="1" fill="#c6bcb0"/>
<rect x="64.8" y="369.8" width="64.1" height="48.4" filter="url(#nzL)" opacity="0.14"/>
<rect x="64.8" y="369.8" width="64.1" height="48.4" filter="url(#nzD)" opacity="0.12"/>
<path d="M64.8,369.8 H128.89999999999998 V372.0 C114.8,372.3 104.8,372.8 94.8,373.8 C82.8,375.8 72.8,378.3 64.8,379.8 Z" fill="#918d83" opacity="0.85"/>
<rect x="121.90" y="415.20" width="5" height="1.6" fill="#fff" opacity="0.9"/>
</g>
<g clip-path="url(#c1)">
<rect x="133.3" y="369.8" width="64.1" height="48.4" fill="#b68c92"/>
<path d="M133.3,413.8 C148.3,411.3 161.3,408.8 173.3,404.8 C185.3,400.8 193.3,396.8 197.4,393.8 V418.2 H133.3 Z" fill="#99968a"/>
<path d="M133.3,413.8 C148.3,411.3 161.3,408.8 173.3,404.8 C185.3,400.8 193.3,396.8 197.4,393.8" stroke="#c88896" stroke-width="1" fill="none" opacity="0.4"/>
<ellipse cx="151.3" cy="390.8" rx="2.3" ry="3" fill="#e2cece" stroke="#d49aa4" stroke-width="1.2"/>
<ellipse cx="145.3" cy="401.8" rx="3.2" ry="3.4" fill="#ddc8c8" stroke="#d49aa4" stroke-width="1.4"/>
<path d="M152.3,383.8 C156.3,387.8 159.3,393.8 160.3,398.8" stroke="#d8c0c0" stroke-width="1.6" fill="none"/>
<ellipse cx="163.3" cy="403.8" rx="1.8" ry="1.8" fill="#dac4c4"/>
<ellipse cx="190.3" cy="389.8" rx="1.5" ry="1.5" fill="#dac4c4"/>
<path d="M169.3,374.8 l4,6" stroke="#d07888" stroke-width="1.5"/>
<rect x="133.3" y="369.8" width="64.1" height="48.4" filter="url(#nzL)" opacity="0.14"/>
<rect x="133.3" y="369.8" width="64.1" height="48.4" filter="url(#nzD)" opacity="0.12"/>
<path d="M133.3,413.8 C148.3,411.3 161.3,408.8 173.3,404.8 C185.3,400.8 193.3,396.8 197.4,393.8 V418.2 H133.3 Z" fill="#99968a" opacity="0.85"/>
<rect x="190.40" y="415.20" width="5" height="1.6" fill="#fff" opacity="0.9"/>
</g>
<g clip-path="url(#c2)">
<rect x="202.2" y="369.8" width="64.1" height="48.4" fill="#ddb3bb"/>
<path d="M235.2,369.8 H266.29999999999995 V378.3 C260.2,375.8 250.2,371.8 235.2,369.8 Z" fill="#d0c2bc"/>
<path d="M202.2,369.8 H235.2 C250.2,371.8 260.2,375.8 266.29999999999995,378.3 V383.8 C252.2,378.8 242.2,374.8 232.2,373.8 C220.2,372.8 210.2,373.8 202.2,374.8 Z" fill="#e8a8b6" opacity="0.7"/>
<path d="M229.2,377.8 C232.2,376.8 235.2,377.8 235.2,380.8 C234.2,383.8 232.2,384.8 231.2,382.8 C229.2,381.8 228.2,379.8 229.2,377.8 Z" fill="#f0dcdc"/>
<path d="M259.2,394.8 l-3,10" stroke="#f4dede" stroke-width="1" fill="none"/>
<circle cx="225.67" cy="407.18" r="0.53" fill="#2a5070" opacity="0.9"/>
<circle cx="219.63" cy="399.82" r="0.38" fill="#2a5070" opacity="0.9"/>
<circle cx="234.70" cy="403.35" r="0.48" fill="#2a5070" opacity="0.9"/>
<circle cx="226.82" cy="414.28" r="0.59" fill="#2a5070" opacity="0.9"/>
<circle cx="228.14" cy="399.39" r="0.67" fill="#2a5070" opacity="0.9"/>
<circle cx="229.35" cy="406.83" r="0.78" fill="#2a5070" opacity="0.9"/>
<circle cx="217.07" cy="401.96" r="0.69" fill="#2a5070" opacity="0.9"/>
<circle cx="232.95" cy="405.11" r="0.65" fill="#2a5070" opacity="0.9"/>
<circle cx="224.80" cy="403.63" r="0.78" fill="#2a5070" opacity="0.9"/>
<circle cx="217.35" cy="403.75" r="0.79" fill="#2a5070" opacity="0.9"/>
<circle cx="222.68" cy="395.11" r="0.55" fill="#2a5070" opacity="0.9"/>
<circle cx="226.91" cy="399.20" r="0.82" fill="#2a5070" opacity="0.9"/>
<circle cx="226.84" cy="401.71" r="0.42" fill="#2a5070" opacity="0.9"/>
<circle cx="227.87" cy="411.69" r="0.57" fill="#2a5070" opacity="0.9"/>
<circle cx="222.24" cy="400.68" r="0.60" fill="#2a5070" opacity="0.9"/>
<circle cx="221.70" cy="404.94" r="0.64" fill="#2a5070" opacity="0.9"/>
<circle cx="215.85" cy="398.97" r="0.69" fill="#2a5070" opacity="0.9"/>
<circle cx="234.09" cy="399.82" r="0.85" fill="#2a5070" opacity="0.9"/>
<circle cx="223.78" cy="400.96" r="0.78" fill="#2a5070" opacity="0.9"/>
<circle cx="235.77" cy="401.13" r="0.63" fill="#2a5070" opacity="0.9"/>
<circle cx="224.42" cy="400.45" r="0.77" fill="#2a5070" opacity="0.9"/>
<circle cx="221.53" cy="401.52" r="0.38" fill="#2a5070" opacity="0.9"/>
<circle cx="234.40" cy="394.38" r="0.39" fill="#2a5070" opacity="0.9"/>
<circle cx="226.81" cy="399.38" r="0.43" fill="#2a5070" opacity="0.9"/>
<circle cx="222.87" cy="408.56" r="0.79" fill="#2a5070" opacity="0.9"/>
<circle cx="231.84" cy="404.12" r="0.37" fill="#2a5070" opacity="0.9"/>
<circle cx="224.32" cy="399.72" r="0.79" fill="#2a5070" opacity="0.9"/>
<circle cx="231.09" cy="402.30" r="0.85" fill="#2a5070" opacity="0.9"/>
<circle cx="224.47" cy="404.10" r="0.65" fill="#2a5070" opacity="0.9"/>
<circle cx="228.45" cy="403.25" r="0.55" fill="#2a5070" opacity="0.9"/>
<circle cx="222.96" cy="401.50" r="0.37" fill="#2a5070" opacity="0.9"/>
<circle cx="228.13" cy="400.56" r="0.83" fill="#2a5070" opacity="0.9"/>
<circle cx="229.08" cy="400.74" r="0.58" fill="#2a5070" opacity="0.9"/>
<circle cx="218.07" cy="402.17" r="0.65" fill="#2a5070" opacity="0.9"/>
<circle cx="218.72" cy="401.03" r="0.82" fill="#2a5070" opacity="0.9"/>
<circle cx="219.89" cy="402.64" r="0.71" fill="#2a5070" opacity="0.9"/>
<circle cx="225.53" cy="405.75" r="0.84" fill="#2a5070" opacity="0.9"/>
<circle cx="218.95" cy="402.22" r="0.36" fill="#2a5070" opacity="0.9"/>
<circle cx="219.53" cy="405.14" r="0.36" fill="#2a5070" opacity="0.9"/>
<circle cx="219.92" cy="399.51" r="0.38" fill="#2a5070" opacity="0.9"/>
<circle cx="221.30" cy="399.99" r="0.69" fill="#2a5070" opacity="0.9"/>
<circle cx="220.49" cy="407.18" r="0.72" fill="#2a5070" opacity="0.9"/>
<circle cx="226.95" cy="402.97" r="0.69" fill="#2a5070" opacity="0.9"/>
<circle cx="228.90" cy="402.19" r="0.58" fill="#2a5070" opacity="0.9"/>
<circle cx="221.53" cy="401.11" r="0.53" fill="#2a5070" opacity="0.9"/>
<circle cx="223.36" cy="405.90" r="0.65" fill="#2a5070" opacity="0.9"/>
<circle cx="223.68" cy="406.04" r="0.74" fill="#2a5070" opacity="0.9"/>
<circle cx="231.60" cy="403.56" r="0.72" fill="#2a5070" opacity="0.9"/>
<circle cx="223.89" cy="405.11" r="0.75" fill="#2a5070" opacity="0.9"/>
<circle cx="225.43" cy="405.05" r="0.57" fill="#2a5070" opacity="0.9"/>
<circle cx="225.53" cy="404.59" r="0.42" fill="#3a5a88" opacity="0.6"/>
<circle cx="226.87" cy="403.64" r="0.42" fill="#3a5a88" opacity="0.6"/>
<circle cx="237.70" cy="396.49" r="0.53" fill="#3a5a88" opacity="0.6"/>
<circle cx="226.94" cy="409.13" r="0.38" fill="#3a5a88" opacity="0.6"/>
<circle cx="226.97" cy="404.31" r="0.36" fill="#3a5a88" opacity="0.6"/>
<circle cx="238.70" cy="396.84" r="0.54" fill="#3a5a88" opacity="0.6"/>
<circle cx="226.84" cy="398.06" r="0.39" fill="#3a5a88" opacity="0.6"/>
<circle cx="216.14" cy="394.83" r="0.56" fill="#3a5a88" opacity="0.6"/>
<circle cx="227.68" cy="400.05" r="0.48" fill="#3a5a88" opacity="0.6"/>
<circle cx="220.71" cy="395.52" r="0.35" fill="#3a5a88" opacity="0.6"/>
<circle cx="221.79" cy="402.23" r="0.58" fill="#3a5a88" opacity="0.6"/>
<circle cx="231.89" cy="396.15" r="0.39" fill="#3a5a88" opacity="0.6"/>
<circle cx="233.96" cy="397.56" r="0.56" fill="#3a5a88" opacity="0.6"/>
<circle cx="230.71" cy="395.96" r="0.42" fill="#3a5a88" opacity="0.6"/>
<circle cx="218.29" cy="398.09" r="0.35" fill="#3a5a88" opacity="0.6"/>
<circle cx="220.23" cy="412.13" r="0.31" fill="#3a5a88" opacity="0.6"/>
<circle cx="235.95" cy="404.22" r="0.38" fill="#3a5a88" opacity="0.6"/>
<circle cx="216.38" cy="400.34" r="0.40" fill="#3a5a88" opacity="0.6"/>
<circle cx="230.48" cy="401.73" r="0.42" fill="#3a5a88" opacity="0.6"/>
<circle cx="228.52" cy="409.92" r="0.38" fill="#3a5a88" opacity="0.6"/>
<circle cx="217.02" cy="409.63" r="0.40" fill="#3a5a88" opacity="0.6"/>
<circle cx="209.03" cy="397.13" r="0.33" fill="#3a5a88" opacity="0.6"/>
<circle cx="230.54" cy="403.43" r="0.53" fill="#3a5a88" opacity="0.6"/>
<circle cx="220.79" cy="398.87" r="0.40" fill="#3a5a88" opacity="0.6"/>
<circle cx="229.10" cy="407.77" r="0.31" fill="#3a5a88" opacity="0.6"/>
<circle cx="219.67" cy="389.73" r="0.59" fill="#3a5a88" opacity="0.6"/>
<circle cx="223.28" cy="386.65" r="0.31" fill="#3a5a88" opacity="0.6"/>
<circle cx="220.15" cy="416.94" r="0.53" fill="#3a5a88" opacity="0.6"/>
<circle cx="208.99" cy="409.47" r="0.49" fill="#3a5a88" opacity="0.6"/>
<circle cx="227.96" cy="397.25" r="0.36" fill="#3a5a88" opacity="0.6"/>
<circle cx="241.66" cy="407.50" r="0.54" fill="#3a5a88" opacity="0.7"/>
<circle cx="249.81" cy="408.64" r="0.58" fill="#3a5a88" opacity="0.7"/>
<circle cx="248.50" cy="410.21" r="0.58" fill="#3a5a88" opacity="0.7"/>
<circle cx="241.37" cy="406.34" r="0.33" fill="#3a5a88" opacity="0.7"/>
<circle cx="242.99" cy="410.09" r="0.46" fill="#3a5a88" opacity="0.7"/>
<circle cx="244.76" cy="409.65" r="0.37" fill="#3a5a88" opacity="0.7"/>
<circle cx="243.97" cy="414.18" r="0.53" fill="#3a5a88" opacity="0.7"/>
<circle cx="248.08" cy="412.81" r="0.34" fill="#3a5a88" opacity="0.7"/>
<circle cx="208.2" cy="382.8" r="0.7" fill="#2a4a70"/>
<rect x="202.2" y="369.8" width="64.1" height="48.4" filter="url(#nzL)" opacity="0.14"/>
<rect x="202.2" y="369.8" width="64.1" height="48.4" filter="url(#nzD)" opacity="0.12"/>
<path d="M235.2,369.8 H266.29999999999995 V378.3 C260.2,375.8 250.2,371.8 235.2,369.8 Z" fill="#d0c2bc" opacity="0.85"/>
<rect x="259.30" y="415.20" width="5" height="1.6" fill="#fff" opacity="0.9"/>
</g>
<g clip-path="url(#c3)">
<rect x="271.1" y="369.8" width="64.1" height="48.4" fill="#b49b9c"/>
<ellipse cx="301.1" cy="389.8" rx="21" ry="16" fill="#af828c"/>
<ellipse cx="304.1" cy="388.8" rx="12" ry="12" fill="#b29698"/>
<path d="M271.1,369.8 H313.1 C301.1,370.8 293.1,374.8 285.1,383.8 C279.1,389.8 275.1,395.8 271.1,396.8 Z" fill="#918d85"/>
<path d="M313.1,369.8 C301.1,370.8 293.1,374.8 285.1,383.8 C279.1,389.8 275.1,395.8 271.1,396.8" stroke="#d490a0" stroke-width="1.5" fill="none"/>
<ellipse cx="306.1" cy="378.8" rx="3.8" ry="2" fill="#cac6b6"/>
<ellipse cx="305.6" cy="387.3" rx="2.2" ry="2.6" fill="#cac6b6"/>
<ellipse cx="306.6" cy="395.8" rx="3.4" ry="3.8" fill="#cac6b6"/>
<ellipse cx="312.1" cy="404.8" rx="2" ry="2" fill="#d2c6bc"/>
<ellipse cx="272.6" cy="400.8" rx="2.5" ry="4" fill="#c8c0b4"/>
<rect x="271.1" y="369.8" width="64.1" height="48.4" filter="url(#nzL)" opacity="0.14"/>
<rect x="271.1" y="369.8" width="64.1" height="48.4" filter="url(#nzD)" opacity="0.12"/>
<path d="M271.1,369.8 H313.1 C301.1,370.8 293.1,374.8 285.1,383.8 C279.1,389.8 275.1,395.8 271.1,396.8 Z" fill="#918d85" opacity="0.85"/>
<rect x="328.20" y="415.20" width="5" height="1.6" fill="#fff" opacity="0.9"/>
</g>
<g clip-path="url(#c4)">
<rect x="339.2" y="369.8" width="64.1" height="48.4" fill="#ddb3bd"/>
<path d="M339.2,369.8 H355.2 C350.2,377.8 345.2,387.8 339.2,399.8 Z" fill="#bcaeae"/>
<path d="M339.2,399.8 C345.2,387.8 350.2,377.8 355.2,369.8 H361.2 C355.2,379.8 353.2,394.8 363.2,418.2 H339.2 Z" fill="#e6a8b8" opacity="0.55"/>
<ellipse cx="350.2" cy="394.3" rx="3" ry="3" fill="#f3dcdf"/>
<ellipse cx="344.7" cy="400.8" rx="2.3" ry="2" fill="#f3dcdf"/>
<path d="M340.2,415.8 C344.2,409.8 353.2,409.8 358.2,414.8" stroke="#f3dcdf" stroke-width="3" fill="none"/>
<path d="M359.2,403.8 C364.2,407.8 367.2,411.8 369.2,418.2" stroke="#f3dcdf" stroke-width="1.2" fill="none"/>
<circle cx="354.2" cy="373.8" r="1.2" fill="#304870"/>
<circle cx="387.81" cy="421.47" r="0.36" fill="#405a88" opacity="0.75"/>
<circle cx="384.37" cy="406.77" r="0.42" fill="#405a88" opacity="0.75"/>
<circle cx="390.00" cy="408.78" r="0.62" fill="#405a88" opacity="0.75"/>
<circle cx="377.76" cy="410.20" r="0.55" fill="#405a88" opacity="0.75"/>
<circle cx="389.88" cy="417.61" r="0.34" fill="#405a88" opacity="0.75"/>
<circle cx="385.34" cy="409.80" r="0.43" fill="#405a88" opacity="0.75"/>
<circle cx="372.58" cy="414.71" r="0.49" fill="#405a88" opacity="0.75"/>
<circle cx="389.29" cy="411.33" r="0.80" fill="#405a88" opacity="0.75"/>
<circle cx="394.18" cy="411.49" r="0.49" fill="#405a88" opacity="0.75"/>
<circle cx="381.82" cy="404.95" r="0.65" fill="#405a88" opacity="0.75"/>
<circle cx="375.06" cy="408.91" r="0.75" fill="#405a88" opacity="0.75"/>
<circle cx="381.82" cy="407.44" r="0.33" fill="#405a88" opacity="0.75"/>
<circle cx="392.85" cy="406.87" r="0.40" fill="#405a88" opacity="0.75"/>
<circle cx="393.88" cy="406.61" r="0.66" fill="#405a88" opacity="0.75"/>
<circle cx="389.41" cy="406.01" r="0.48" fill="#405a88" opacity="0.75"/>
<circle cx="387.92" cy="406.93" r="0.68" fill="#405a88" opacity="0.75"/>
<circle cx="393.96" cy="413.21" r="0.65" fill="#405a88" opacity="0.75"/>
<circle cx="398.02" cy="405.82" r="0.55" fill="#405a88" opacity="0.75"/>
<circle cx="386.49" cy="411.50" r="0.56" fill="#405a88" opacity="0.75"/>
<circle cx="382.51" cy="408.68" r="0.75" fill="#405a88" opacity="0.75"/>
<circle cx="374.33" cy="408.44" r="0.41" fill="#405a88" opacity="0.75"/>
<circle cx="385.24" cy="409.57" r="0.47" fill="#405a88" opacity="0.75"/>
<circle cx="384.42" cy="414.02" r="0.49" fill="#405a88" opacity="0.75"/>
<circle cx="392.65" cy="399.71" r="0.39" fill="#405a88" opacity="0.75"/>
<circle cx="372.35" cy="387.48" r="0.34" fill="#405a88" opacity="0.6"/>
<circle cx="366.12" cy="391.28" r="0.48" fill="#405a88" opacity="0.6"/>
<circle cx="376.91" cy="397.70" r="0.31" fill="#405a88" opacity="0.6"/>
<circle cx="357.67" cy="411.54" r="0.59" fill="#405a88" opacity="0.6"/>
<circle cx="357.06" cy="381.80" r="0.33" fill="#405a88" opacity="0.6"/>
<circle cx="387.91" cy="387.91" r="0.52" fill="#405a88" opacity="0.6"/>
<circle cx="395.15" cy="380.41" r="0.37" fill="#405a88" opacity="0.6"/>
<circle cx="393.68" cy="404.25" r="0.57" fill="#405a88" opacity="0.6"/>
<circle cx="363.26" cy="405.80" r="0.36" fill="#405a88" opacity="0.6"/>
<circle cx="393.17" cy="374.10" r="0.41" fill="#405a88" opacity="0.6"/>
<circle cx="356.16" cy="381.74" r="0.52" fill="#405a88" opacity="0.6"/>
<circle cx="397.40" cy="371.96" r="0.53" fill="#405a88" opacity="0.6"/>
<circle cx="393.97" cy="380.33" r="0.30" fill="#405a88" opacity="0.6"/>
<circle cx="355.86" cy="410.34" r="0.45" fill="#405a88" opacity="0.6"/>
<circle cx="376.08" cy="380.12" r="0.32" fill="#405a88" opacity="0.6"/>
<circle cx="381.14" cy="375.72" r="0.47" fill="#405a88" opacity="0.6"/>
<circle cx="396.19" cy="402.02" r="0.31" fill="#405a88" opacity="0.6"/>
<circle cx="376.95" cy="397.27" r="0.34" fill="#405a88" opacity="0.6"/>
<circle cx="386.04" cy="395.96" r="0.31" fill="#405a88" opacity="0.6"/>
<circle cx="396.75" cy="381.75" r="0.48" fill="#405a88" opacity="0.6"/>
<circle cx="386.00" cy="407.32" r="0.46" fill="#405a88" opacity="0.6"/>
<circle cx="392.57" cy="376.42" r="0.56" fill="#405a88" opacity="0.6"/>
<circle cx="371.77" cy="388.69" r="0.60" fill="#405a88" opacity="0.6"/>
<circle cx="368.15" cy="397.33" r="0.30" fill="#405a88" opacity="0.6"/>
<circle cx="359.87" cy="390.45" r="0.40" fill="#405a88" opacity="0.6"/>
<rect x="339.2" y="369.8" width="64.1" height="48.4" filter="url(#nzL)" opacity="0.14"/>
<rect x="339.2" y="369.8" width="64.1" height="48.4" filter="url(#nzD)" opacity="0.12"/>
<path d="M339.2,369.8 H355.2 C350.2,377.8 345.2,387.8 339.2,399.8 Z" fill="#bcaeae" opacity="0.85"/>
<rect x="396.30" y="415.20" width="5" height="1.6" fill="#fff" opacity="0.9"/>
</g>
<g clip-path="url(#c5)">
<rect x="64.8" y="424.5" width="64.1" height="48.4" fill="#a45a8c"/>
<path d="M64.8,424.5 H81.8 C73.8,426.5 68.8,430.5 66.8,436.5 L64.8,440.5 Z" fill="#d0c2bc"/>
<ellipse cx="111.8" cy="438.5" rx="12" ry="11" fill="#aa5288"/>
<ellipse cx="81.3" cy="439.0" rx="12.5" ry="10.5" fill="#76468a"/>
<path d="M75.8,432.5 C81.8,429.5 89.8,430.5 90.8,436.5 C91.8,442.5 86.8,445.5 79.8,443.5 C77.8,439.5 79.8,437.5 75.8,432.5 Z" fill="#f2ecf0"/>
<ellipse cx="86.3" cy="438.0" rx="3" ry="3.2" fill="#c48ab8"/>
<ellipse cx="71.30" cy="461.00" rx="6.00" ry="5.50" fill="#7a4888"/>
<ellipse cx="71.30" cy="461.00" rx="2.70" ry="2.48" fill="#c070a8"/>
<circle cx="75.8" cy="461.5" r="2.5" fill="#d0d0f0" stroke="#5a3a90" stroke-width="0.8"/>
<ellipse cx="124.80" cy="435.50" rx="4.00" ry="5.00" fill="#7a4888"/>
<ellipse cx="124.80" cy="435.50" rx="1.80" ry="2.25" fill="#c87898"/>
<ellipse cx="119.80" cy="447.50" rx="4.50" ry="4.50" fill="#7a4888"/>
<ellipse cx="119.80" cy="447.50" rx="2.02" ry="2.02" fill="#d8a0c0"/>
<ellipse cx="90.80" cy="451.50" rx="2.5" ry="1.3" fill="#f0e6ee" opacity="0.9"/>
<ellipse cx="95.80" cy="457.50" rx="2" ry="1.2" fill="#f0e6ee" opacity="0.9"/>
<ellipse cx="103.80" cy="459.50" rx="2.5" ry="2.5" fill="#f0e6ee" opacity="0.9"/>
<ellipse cx="107.80" cy="470.50" rx="1.5" ry="2" fill="#f0e6ee" opacity="0.9"/>
<ellipse cx="89.80" cy="468.50" rx="3" ry="1.5" fill="#f0e6ee" opacity="0.9"/>
<ellipse cx="124.80" cy="454.50" rx="1.5" ry="1.5" fill="#f0e6ee" opacity="0.9"/>
<ellipse cx="99.80" cy="440.50" rx="1.2" ry="2.5" fill="#f0e6ee" opacity="0.9"/>
<ellipse cx="112.8" cy="462.5" rx="8" ry="6" fill="#8e3c8a" opacity="0.6"/>
<rect x="64.8" y="424.5" width="64.1" height="48.4" filter="url(#nzL)" opacity="0.28"/>
<rect x="64.8" y="424.5" width="64.1" height="48.4" filter="url(#nzD)" opacity="0.25"/>
<path d="M64.8,424.5 H81.8 C73.8,426.5 68.8,430.5 66.8,436.5 L64.8,440.5 Z" fill="#d0c2bc" opacity="0.85"/>
<rect x="121.90" y="469.90" width="5" height="1.6" fill="#fff" opacity="0.9"/>
</g>
<g clip-path="url(#c6)">
<rect x="133.3" y="424.5" width="64.1" height="48.4" fill="#a0588e"/>
<path d="M133.3,424.5 H161.3 C153.3,427.5 146.3,430.5 142.3,435.5 C139.3,440.5 138.3,448.5 138.3,454.5 C138.3,462.5 139.3,468.5 140.3,472.9 H133.3 Z" fill="#d0c2bc"/>
<ellipse cx="183.3" cy="436.5" rx="13" ry="10" fill="#a65288" opacity="0.8"/>
<ellipse cx="160.30" cy="440.50" rx="7.50" ry="6.00" fill="#6a3a82"/>
<ellipse cx="160.30" cy="440.50" rx="1.60" ry="1.28" fill="#f0e8f0"/>
<ellipse cx="158.30" cy="430.50" rx="3.50" ry="3.50" fill="#7a4888"/>
<ellipse cx="158.30" cy="430.50" rx="1.57" ry="1.57" fill="#d8a0c0"/>
<ellipse cx="165.80" cy="431.50" rx="4.00" ry="4.00" fill="#7a4888"/>
<ellipse cx="165.80" cy="431.50" rx="1.80" ry="1.80" fill="#c87898"/>
<ellipse cx="143.80" cy="450.50" rx="5.50" ry="5.50" fill="#7a4888"/>
<ellipse cx="143.80" cy="450.50" rx="3.00" ry="3.00" fill="#d8c0d8"/>
<ellipse cx="141.80" cy="462.50" rx="4.50" ry="4.50" fill="#7a4888"/>
<ellipse cx="141.80" cy="462.50" rx="2.02" ry="2.02" fill="#8a4a9a"/>
<ellipse cx="141.80" cy="468.50" rx="3.50" ry="3.50" fill="#7a4888"/>
<ellipse cx="141.80" cy="468.50" rx="1.57" ry="1.57" fill="#d8c0d8"/>
<ellipse cx="181.80" cy="462.00" rx="4.50" ry="4.50" fill="#7a4888"/>
<ellipse cx="181.80" cy="462.00" rx="2.02" ry="2.02" fill="#c87898"/>
<ellipse cx="190.30" cy="461.50" rx="4.00" ry="4.00" fill="#7a4888"/>
<ellipse cx="190.30" cy="461.50" rx="1.80" ry="1.80" fill="#c87898"/>
<ellipse cx="189.80" cy="452.50" rx="3.50" ry="3.50" fill="#7a4888"/>
<ellipse cx="189.80" cy="452.50" rx="1.57" ry="1.57" fill="#c87898"/>
<ellipse cx="183.3" cy="446.0" rx="4" ry="4" fill="#6e3688" opacity="0.8"/>
<ellipse cx="167.30" cy="461.50" rx="3" ry="1.8" fill="#f0e6ee" opacity="0.9"/>
<ellipse cx="174.30" cy="445.50" rx="1.8" ry="1.5" fill="#f0e6ee" opacity="0.9"/>
<ellipse cx="177.30" cy="450.50" rx="1.5" ry="1.5" fill="#f0e6ee" opacity="0.9"/>
<ellipse cx="156.30" cy="469.50" rx="2" ry="1.2" fill="#f0e6ee" opacity="0.9"/>
<ellipse cx="186.30" cy="468.50" rx="2" ry="1" fill="#f0e6ee" opacity="0.9"/>
<rect x="133.3" y="424.5" width="64.1" height="48.4" filter="url(#nzL)" opacity="0.28"/>
<rect x="133.3" y="424.5" width="64.1" height="48.4" filter="url(#nzD)" opacity="0.25"/>
<path d="M133.3,424.5 H161.3 C153.3,427.5 146.3,430.5 142.3,435.5 C139.3,440.5 138.3,448.5 138.3,454.5 C138.3,462.5 139.3,468.5 140.3,472.9 H133.3 Z" fill="#d0c2bc" opacity="0.85"/>
<rect x="190.40" y="469.90" width="5" height="1.6" fill="#fff" opacity="0.9"/>
</g>
<g clip-path="url(#c7)">
<rect x="202.2" y="424.5" width="64.1" height="48.4" fill="#aa487d"/>
<path d="M202.2,424.5 H266.29999999999995 V439.5 C264.2,436.5 259.2,433.5 252.2,433.0 C242.2,432.5 230.2,434.0 217.2,436.0 C210.2,437.0 205.2,437.5 202.2,438.0 Z" fill="#d0c2bc"/>
<ellipse cx="236.2" cy="457.5" rx="13" ry="15" fill="#b64e86" opacity="0.8"/>
<ellipse cx="258.2" cy="456.5" rx="9" ry="14" fill="#b04884" opacity="0.8"/>
<ellipse cx="223.70" cy="439.50" rx="5.00" ry="5.00" fill="#65307f"/>
<ellipse cx="223.70" cy="439.50" rx="2.50" ry="2.50" fill="#8a4aa0"/>
<ellipse cx="232.70" cy="438.00" rx="4.80" ry="4.80" fill="#65307f"/>
<ellipse cx="232.70" cy="438.00" rx="2.40" ry="2.40" fill="#6a3488"/>
<ellipse cx="242.20" cy="439.50" rx="4.00" ry="4.00" fill="#65307f"/>
<ellipse cx="242.20" cy="439.50" rx="2.00" ry="2.00" fill="#8a4aa0"/>
<ellipse cx="250.70" cy="437.50" rx="4.80" ry="4.80" fill="#65307f"/>
<ellipse cx="250.70" cy="437.50" rx="2.40" ry="2.40" fill="#f0e8f0"/>
<circle cx="250.7" cy="438.0" r="1.2" fill="#c04060"/>
<ellipse cx="226.2" cy="442.5" rx="1.2" ry="2" fill="#f0e6ee"/>
<ellipse cx="205.2" cy="451.5" rx="2" ry="3.5" fill="#e0605a" opacity="0.85"/>
<ellipse cx="244.2" cy="446.5" rx="2" ry="3" fill="#6a3488"/>
<ellipse cx="214.20" cy="470.50" rx="2.5" ry="1.2" fill="#f0e6ee" opacity="0.9"/>
<ellipse cx="224.20" cy="469.50" rx="1.5" ry="1" fill="#f0e6ee" opacity="0.9"/>
<ellipse cx="264.20" cy="466.50" rx="1.3" ry="2" fill="#f0e6ee" opacity="0.9"/>
<rect x="202.2" y="424.5" width="64.1" height="48.4" filter="url(#nzL)" opacity="0.28"/>
<rect x="202.2" y="424.5" width="64.1" height="48.4" filter="url(#nzD)" opacity="0.25"/>
<path d="M202.2,424.5 H266.29999999999995 V439.5 C264.2,436.5 259.2,433.5 252.2,433.0 C242.2,432.5 230.2,434.0 217.2,436.0 C210.2,437.0 205.2,437.5 202.2,438.0 Z" fill="#d0c2bc" opacity="0.85"/>
<rect x="259.30" y="469.90" width="5" height="1.6" fill="#fff" opacity="0.9"/>
</g>
<g clip-path="url(#c8)">
<rect x="271.1" y="424.5" width="64.1" height="48.4" fill="#a05c92"/>
<rect x="271.1" y="424.5" width="17" height="48.4" fill="#a85088"/>
<path d="M288.1,424.5 H335.20000000000005 V462.5 C331.1,459.5 328.1,457.5 323.1,451.5 C317.1,442.5 311.1,436.5 303.1,431.5 C298.1,428.5 293.1,426.5 288.1,424.5 Z" fill="#d0c2bc"/>
<path d="M271.1,466.5 C275.1,464.5 280.1,465.5 284.1,468.5 V472.9 H271.1 Z" fill="#e8e0dc"/>
<ellipse cx="308.1" cy="448.5" rx="9" ry="9.5" fill="#70408a"/>
<ellipse cx="309.6" cy="447.0" rx="4.5" ry="5.5" fill="#f0eaee"/>
<circle cx="309.1" cy="448.5" r="2" fill="#d070a0"/>
<ellipse cx="290.60" cy="433.50" rx="4.50" ry="4.50" fill="#7a4888"/>
<ellipse cx="290.60" cy="433.50" rx="2.02" ry="2.02" fill="#d498b8"/>
<ellipse cx="298.10" cy="436.00" rx="4.50" ry="4.50" fill="#7a4888"/>
<ellipse cx="298.10" cy="436.00" rx="2.02" ry="2.02" fill="#d498b8"/>
<ellipse cx="305.60" cy="436.50" rx="3.50" ry="3.50" fill="#7a4888"/>
<ellipse cx="305.60" cy="436.50" rx="1.57" ry="1.57" fill="#d498b8"/>
<ellipse cx="295.10" cy="444.50" rx="3.50" ry="3.50" fill="#7a4888"/>
<ellipse cx="295.10" cy="444.50" rx="1.57" ry="1.57" fill="#6a3488"/>
<ellipse cx="293.10" cy="453.50" rx="3.00" ry="3.00" fill="#7a4888"/>
<ellipse cx="293.10" cy="453.50" rx="1.35" ry="1.35" fill="#7a3a90"/>
<ellipse cx="312.60" cy="461.50" rx="3.50" ry="3.50" fill="#7a4888"/>
<ellipse cx="312.60" cy="461.50" rx="1.57" ry="1.57" fill="#d498b8"/>
<ellipse cx="330.60" cy="459.50" rx="3.50" ry="3.50" fill="#7a4888"/>
<ellipse cx="330.60" cy="459.50" rx="1.57" ry="1.57" fill="#d498b8"/>
<circle cx="305.6" cy="462.0" r="1.8" fill="#e8a0c0"/>
<ellipse cx="288.10" cy="454.50" rx="1.5" ry="2.5" fill="#f0e6ee" opacity="0.9"/>
<ellipse cx="273.10" cy="438.50" rx="1.2" ry="2.5" fill="#f0e6ee" opacity="0.9"/>
<ellipse cx="303.10" cy="468.50" rx="1.5" ry="1.2" fill="#f0e6ee" opacity="0.9"/>
<rect x="271.1" y="424.5" width="64.1" height="48.4" filter="url(#nzL)" opacity="0.28"/>
<rect x="271.1" y="424.5" width="64.1" height="48.4" filter="url(#nzD)" opacity="0.25"/>
<path d="M288.1,424.5 H335.20000000000005 V462.5 C331.1,459.5 328.1,457.5 323.1,451.5 C317.1,442.5 311.1,436.5 303.1,431.5 C298.1,428.5 293.1,426.5 288.1,424.5 Z" fill="#d0c2bc" opacity="0.85"/>
<path d="M271.1,466.5 C275.1,464.5 280.1,465.5 284.1,468.5 V472.9 H271.1 Z" fill="#e8e0dc" opacity="0.85"/>
<rect x="328.20" y="469.90" width="5" height="1.6" fill="#fff" opacity="0.9"/>
</g>
<g clip-path="url(#c9)">
<rect x="339.2" y="424.5" width="64.1" height="48.4" fill="#9c588e"/>
<path d="M339.2,424.5 H403.29999999999995 V437.0 C399.2,437.0 395.2,437.5 391.2,437.5 C386.2,434.5 383.2,429.5 377.2,426.5 C371.2,424.5 364.2,424.5 360.2,426.5 C353.2,430.5 348.2,437.5 344.2,443.5 C341.2,448.5 340.2,452.5 339.2,454.5 Z" fill="#d0c2bc"/>
<ellipse cx="371.2" cy="434.0" rx="13" ry="9" fill="#74428e"/>
<path d="M364.2,428.5 C369.2,426.5 377.2,427.5 379.2,432.5 C380.2,436.5 375.2,439.5 369.2,438.5 C364.2,436.5 362.2,432.5 364.2,428.5 Z" fill="#cdb8d0"/>
<ellipse cx="370.7" cy="449.5" rx="10" ry="6" fill="#6e3a8e"/>
<path d="M363.2,445.5 C366.2,451.5 372.2,453.5 377.2,451.5" stroke="#dca0c8" stroke-width="2.4" fill="none"/>
<path d="M359.2,442.5 C358.2,448.5 362.2,455.5 371.2,456.5" stroke="#e8d8e6" stroke-width="0.8" fill="none"/>
<ellipse cx="345.70" cy="460.50" rx="4.50" ry="4.50" fill="#7a4888"/>
<ellipse cx="345.70" cy="460.50" rx="2.02" ry="2.02" fill="#cc8aa4"/>
<ellipse cx="346.20" cy="468.50" rx="3.50" ry="3.50" fill="#7a4888"/>
<ellipse cx="346.20" cy="468.50" rx="1.57" ry="1.57" fill="#cc8aa4"/>
<ellipse cx="391.70" cy="439.50" rx="2.50" ry="2.50" fill="#7a4888"/>
<ellipse cx="391.70" cy="439.50" rx="1.12" ry="1.12" fill="#cc8aa4"/>
<ellipse cx="401.20" cy="439.50" rx="2.50" ry="2.50" fill="#7a4888"/>
<ellipse cx="401.20" cy="439.50" rx="1.12" ry="1.12" fill="#cc8aa4"/>
<path d="M392.2,444.5 C391.2,450.5 388.2,456.5 385.2,466.5 L384.2,472.9" stroke="#f0e2ea" stroke-width="1.4" fill="none"/>
<ellipse cx="359.2" cy="464.5" rx="12" ry="7" fill="#b24e8a" opacity="0.7"/>
<path d="M339.2,468.5 C341.2,469.5 342.2,471.5 343.2,472.9 H339.2 Z" fill="#d0c2bc"/>
<rect x="339.2" y="424.5" width="64.1" height="48.4" filter="url(#nzL)" opacity="0.28"/>
<rect x="339.2" y="424.5" width="64.1" height="48.4" filter="url(#nzD)" opacity="0.25"/>
<path d="M339.2,424.5 H403.29999999999995 V437.0 C399.2,437.0 395.2,437.5 391.2,437.5 C386.2,434.5 383.2,429.5 377.2,426.5 C371.2,424.5 364.2,424.5 360.2,426.5 C353.2,430.5 348.2,437.5 344.2,443.5 C341.2,448.5 340.2,452.5 339.2,454.5 Z" fill="#d0c2bc" opacity="0.85"/>
<path d="M339.2,468.5 C341.2,469.5 342.2,471.5 343.2,472.9 H339.2 Z" fill="#d0c2bc" opacity="0.85"/>
<rect x="396.30" y="469.90" width="5" height="1.6" fill="#fff" opacity="0.9"/>
</g>
<g clip-path="url(#c10)">
<rect x="64.8" y="478.8" width="64.1" height="48.4" fill="#d2b89c"/>
<ellipse cx="98.8" cy="491.8" rx="22" ry="11" fill="#aaa4b8" opacity="0.7" filter="url(#soft2)"/>
<path d="M64.8,478.8 H87.8 C81.8,484.8 77.8,490.8 75.3,498.8 C73.8,506.8 72.8,516.8 71.8,527.2 H64.8 Z" fill="#d6d6d2"/>
<circle cx="100.8" cy="490.8" r="5" fill="#a8a0b8"/><circle cx="100.8" cy="490.8" r="3.4" fill="#f2eeea"/>
<circle cx="82.8" cy="493.8" r="2" fill="#ece6e0"/>
<path d="M116.8,484.8 C120.8,492.8 122.8,498.8 122.8,504.8" stroke="#e4dcd8" stroke-width="2.5" fill="none"/>
<path d="M110.8,508.8 L128.89999999999998,514.8" stroke="#ddd4d0" stroke-width="1.2"/>
<circle cx="98.18" cy="505.89" r="0.67" fill="#b08870" opacity="0.45"/>
<circle cx="98.15" cy="520.18" r="0.38" fill="#9a90b0" opacity="0.45"/>
<circle cx="99.49" cy="508.52" r="0.37" fill="#b08870" opacity="0.45"/>
<circle cx="89.82" cy="483.19" r="0.62" fill="#9a90b0" opacity="0.45"/>
<circle cx="108.39" cy="507.62" r="0.46" fill="#b08870" opacity="0.45"/>
<circle cx="109.49" cy="508.59" r="0.36" fill="#8a7aa0" opacity="0.45"/>
<circle cx="119.46" cy="481.86" r="0.31" fill="#8a7aa0" opacity="0.45"/>
<circle cx="106.44" cy="516.46" r="0.43" fill="#9a90b0" opacity="0.45"/>
<circle cx="120.06" cy="503.93" r="0.56" fill="#b08870" opacity="0.45"/>
<circle cx="73.06" cy="482.91" r="0.56" fill="#b08870" opacity="0.45"/>
<circle cx="128.77" cy="526.99" r="0.64" fill="#9a90b0" opacity="0.45"/>
<circle cx="87.05" cy="515.49" r="0.51" fill="#8a7aa0" opacity="0.45"/>
<circle cx="76.74" cy="515.89" r="0.46" fill="#b08870" opacity="0.45"/>
<circle cx="94.48" cy="525.17" r="0.64" fill="#8a7aa0" opacity="0.45"/>
<circle cx="84.78" cy="523.67" r="0.32" fill="#b08870" opacity="0.45"/>
<circle cx="127.80" cy="498.04" r="0.33" fill="#9a90b0" opacity="0.45"/>
<circle cx="83.94" cy="511.47" r="0.43" fill="#b08870" opacity="0.45"/>
<circle cx="91.46" cy="525.46" r="0.60" fill="#8a7aa0" opacity="0.45"/>
<circle cx="80.35" cy="513.02" r="0.30" fill="#b08870" opacity="0.45"/>
<circle cx="117.51" cy="487.40" r="0.52" fill="#b08870" opacity="0.45"/>
<circle cx="101.35" cy="526.49" r="0.61" fill="#b08870" opacity="0.45"/>
<circle cx="108.91" cy="484.44" r="0.47" fill="#8a7aa0" opacity="0.45"/>
<circle cx="72.83" cy="520.63" r="0.69" fill="#9a90b0" opacity="0.45"/>
<circle cx="89.86" cy="521.63" r="0.38" fill="#b08870" opacity="0.45"/>
<circle cx="128.67" cy="507.94" r="0.53" fill="#8a7aa0" opacity="0.45"/>
<circle cx="128.30" cy="489.12" r="0.40" fill="#9a90b0" opacity="0.45"/>
<circle cx="91.25" cy="493.14" r="0.33" fill="#8a7aa0" opacity="0.45"/>
<circle cx="84.51" cy="509.61" r="0.31" fill="#b08870" opacity="0.45"/>
<circle cx="93.65" cy="500.74" r="0.68" fill="#b08870" opacity="0.45"/>
<circle cx="119.50" cy="485.37" r="0.45" fill="#9a90b0" opacity="0.45"/>
<circle cx="81.45" cy="522.77" r="0.63" fill="#8a7aa0" opacity="0.45"/>
<circle cx="113.49" cy="486.47" r="0.55" fill="#9a90b0" opacity="0.45"/>
<circle cx="83.83" cy="524.79" r="0.65" fill="#9a90b0" opacity="0.45"/>
<circle cx="77.20" cy="481.09" r="0.34" fill="#9a90b0" opacity="0.45"/>
<circle cx="126.81" cy="490.34" r="0.58" fill="#b08870" opacity="0.45"/>
<circle cx="96.41" cy="522.59" r="0.50" fill="#9a90b0" opacity="0.45"/>
<circle cx="82.64" cy="513.67" r="0.33" fill="#8a7aa0" opacity="0.45"/>
<circle cx="99.69" cy="510.43" r="0.55" fill="#8a7aa0" opacity="0.45"/>
<circle cx="88.52" cy="523.20" r="0.38" fill="#8a7aa0" opacity="0.45"/>
<circle cx="76.68" cy="498.71" r="0.40" fill="#8a7aa0" opacity="0.45"/>
<circle cx="82.69" cy="496.65" r="0.53" fill="#8a7aa0" opacity="0.45"/>
<circle cx="77.97" cy="485.50" r="0.48" fill="#b08870" opacity="0.45"/>
<circle cx="109.65" cy="512.26" r="0.53" fill="#8a7aa0" opacity="0.45"/>
<circle cx="105.89" cy="523.50" r="0.49" fill="#b08870" opacity="0.45"/>
<circle cx="112.12" cy="525.40" r="0.31" fill="#9a90b0" opacity="0.45"/>
<circle cx="77.00" cy="482.06" r="0.42" fill="#8a7aa0" opacity="0.45"/>
<circle cx="128.86" cy="482.44" r="0.52" fill="#9a90b0" opacity="0.45"/>
<circle cx="75.29" cy="524.11" r="0.59" fill="#8a7aa0" opacity="0.45"/>
<circle cx="117.30" cy="523.09" r="0.44" fill="#9a90b0" opacity="0.45"/>
<circle cx="99.35" cy="482.56" r="0.64" fill="#8a7aa0" opacity="0.45"/>
<circle cx="121.24" cy="506.52" r="0.55" fill="#b08870" opacity="0.45"/>
<circle cx="94.07" cy="479.40" r="0.33" fill="#8a7aa0" opacity="0.45"/>
<circle cx="108.67" cy="526.88" r="0.65" fill="#9a90b0" opacity="0.45"/>
<circle cx="91.32" cy="524.02" r="0.58" fill="#b08870" opacity="0.45"/>
<circle cx="97.51" cy="519.38" r="0.33" fill="#9a90b0" opacity="0.45"/>
<circle cx="74.47" cy="507.90" r="0.49" fill="#8a7aa0" opacity="0.45"/>
<circle cx="126.51" cy="484.26" r="0.61" fill="#9a90b0" opacity="0.45"/>
<circle cx="124.44" cy="491.18" r="0.30" fill="#b08870" opacity="0.45"/>
<circle cx="80.83" cy="508.41" r="0.51" fill="#b08870" opacity="0.45"/>
<circle cx="109.83" cy="500.19" r="0.66" fill="#b08870" opacity="0.45"/>
<circle cx="95.51" cy="490.93" r="0.55" fill="#8a7aa0" opacity="0.45"/>
<circle cx="122.18" cy="497.41" r="0.53" fill="#b08870" opacity="0.45"/>
<circle cx="84.57" cy="485.31" r="0.44" fill="#8a7aa0" opacity="0.45"/>
<circle cx="112.70" cy="524.78" r="0.41" fill="#8a7aa0" opacity="0.45"/>
<circle cx="79.13" cy="501.61" r="0.67" fill="#b08870" opacity="0.45"/>
<circle cx="94.26" cy="503.97" r="0.57" fill="#9a90b0" opacity="0.45"/>
<circle cx="119.87" cy="526.33" r="0.48" fill="#8a7aa0" opacity="0.45"/>
<circle cx="119.29" cy="492.26" r="0.54" fill="#9a90b0" opacity="0.45"/>
<circle cx="112.55" cy="506.42" r="0.42" fill="#9a90b0" opacity="0.45"/>
<circle cx="73.87" cy="485.38" r="0.48" fill="#8a7aa0" opacity="0.45"/>
<circle cx="115.95" cy="491.69" r="0.61" fill="#8a7aa0" opacity="0.45"/>
<circle cx="128.00" cy="484.38" r="0.34" fill="#9a90b0" opacity="0.45"/>
<circle cx="109.55" cy="517.88" r="0.68" fill="#9a90b0" opacity="0.45"/>
<circle cx="83.91" cy="518.67" r="0.40" fill="#9a90b0" opacity="0.45"/>
<circle cx="73.40" cy="501.65" r="0.59" fill="#8a7aa0" opacity="0.45"/>
<circle cx="85.50" cy="516.48" r="0.52" fill="#9a90b0" opacity="0.45"/>
<circle cx="100.87" cy="527.05" r="0.36" fill="#9a90b0" opacity="0.45"/>
<circle cx="123.64" cy="483.02" r="0.67" fill="#9a90b0" opacity="0.45"/>
<circle cx="94.57" cy="500.60" r="0.38" fill="#8a7aa0" opacity="0.45"/>
<circle cx="93.94" cy="506.33" r="0.65" fill="#b08870" opacity="0.45"/>
<circle cx="98.81" cy="510.32" r="0.38" fill="#9a90b0" opacity="0.45"/>
<circle cx="121.39" cy="517.44" r="0.67" fill="#8a7aa0" opacity="0.45"/>
<circle cx="84.77" cy="522.36" r="0.69" fill="#b08870" opacity="0.45"/>
<circle cx="102.92" cy="517.07" r="0.43" fill="#9a90b0" opacity="0.45"/>
<circle cx="120.81" cy="495.67" r="0.33" fill="#b08870" opacity="0.45"/>
<circle cx="91.99" cy="499.20" r="0.41" fill="#8a7aa0" opacity="0.45"/>
<circle cx="85.05" cy="520.79" r="0.47" fill="#8a7aa0" opacity="0.45"/>
<circle cx="82.50" cy="495.01" r="0.62" fill="#8a7aa0" opacity="0.45"/>
<circle cx="99.20" cy="527.19" r="0.66" fill="#9a90b0" opacity="0.45"/>
<circle cx="119.92" cy="512.17" r="0.68" fill="#b08870" opacity="0.45"/>
<circle cx="105.28" cy="512.15" r="0.60" fill="#b08870" opacity="0.45"/>
<circle cx="102.35" cy="492.84" r="0.59" fill="#9a90b0" opacity="0.45"/>
<circle cx="82.02" cy="503.69" r="0.66" fill="#b08870" opacity="0.45"/>
<circle cx="90.29" cy="497.25" r="0.64" fill="#9a90b0" opacity="0.45"/>
<circle cx="84.48" cy="519.98" r="0.69" fill="#9a90b0" opacity="0.45"/>
<circle cx="88.11" cy="502.89" r="0.46" fill="#8a7aa0" opacity="0.45"/>
<circle cx="101.03" cy="508.09" r="0.31" fill="#8a7aa0" opacity="0.45"/>
<circle cx="101.75" cy="498.19" r="0.62" fill="#9a90b0" opacity="0.45"/>
<circle cx="79.64" cy="483.31" r="0.37" fill="#9a90b0" opacity="0.45"/>
<circle cx="98.55" cy="523.37" r="0.62" fill="#b08870" opacity="0.45"/>
<circle cx="87.90" cy="501.70" r="0.35" fill="#b08870" opacity="0.45"/>
<circle cx="123.34" cy="524.09" r="0.67" fill="#9a90b0" opacity="0.45"/>
<circle cx="90.60" cy="488.07" r="0.55" fill="#b08870" opacity="0.45"/>
<circle cx="80.06" cy="516.52" r="0.31" fill="#8a7aa0" opacity="0.45"/>
<circle cx="81.53" cy="479.37" r="0.41" fill="#9a90b0" opacity="0.45"/>
<circle cx="92.73" cy="508.80" r="0.34" fill="#9a90b0" opacity="0.45"/>
<circle cx="105.46" cy="520.03" r="0.55" fill="#9a90b0" opacity="0.45"/>
<circle cx="83.89" cy="504.47" r="0.47" fill="#b08870" opacity="0.45"/>
<circle cx="108.31" cy="518.74" r="0.55" fill="#9a90b0" opacity="0.45"/>
<circle cx="84.26" cy="509.36" r="0.56" fill="#9a90b0" opacity="0.45"/>
<circle cx="84.93" cy="505.08" r="0.53" fill="#8a7aa0" opacity="0.45"/>
<circle cx="85.85" cy="514.65" r="0.62" fill="#8a7aa0" opacity="0.45"/>
<circle cx="90.52" cy="494.05" r="0.67" fill="#8a7aa0" opacity="0.45"/>
<circle cx="116.46" cy="488.22" r="0.34" fill="#8a7aa0" opacity="0.45"/>
<circle cx="80.24" cy="483.07" r="0.46" fill="#b08870" opacity="0.45"/>
<circle cx="119.48" cy="499.21" r="0.62" fill="#8a7aa0" opacity="0.45"/>
<circle cx="84.06" cy="509.19" r="0.62" fill="#8a7aa0" opacity="0.45"/>
<circle cx="84.07" cy="511.83" r="0.66" fill="#b08870" opacity="0.45"/>
<circle cx="79.27" cy="503.27" r="0.60" fill="#9a90b0" opacity="0.45"/>
<circle cx="128.82" cy="519.11" r="0.62" fill="#b08870" opacity="0.45"/>
<circle cx="78.76" cy="480.61" r="0.52" fill="#9a90b0" opacity="0.45"/>
<circle cx="123.58" cy="502.09" r="0.38" fill="#8a7aa0" opacity="0.45"/>
<circle cx="84.24" cy="519.47" r="0.70" fill="#9a90b0" opacity="0.45"/>
<circle cx="78.14" cy="481.80" r="0.68" fill="#b08870" opacity="0.45"/>
<circle cx="77.15" cy="483.48" r="0.46" fill="#b08870" opacity="0.45"/>
<circle cx="101.71" cy="499.62" r="0.54" fill="#8a7aa0" opacity="0.45"/>
<circle cx="108.37" cy="480.78" r="0.38" fill="#b08870" opacity="0.45"/>
<circle cx="98.27" cy="514.58" r="0.46" fill="#8a7aa0" opacity="0.45"/>
<circle cx="106.73" cy="483.39" r="0.62" fill="#b08870" opacity="0.45"/>
<circle cx="122.91" cy="517.60" r="0.58" fill="#9a90b0" opacity="0.45"/>
<circle cx="125.51" cy="506.37" r="0.38" fill="#9a90b0" opacity="0.45"/>
<circle cx="127.93" cy="517.75" r="0.40" fill="#8a7aa0" opacity="0.45"/>
<circle cx="114.56" cy="516.45" r="0.63" fill="#b08870" opacity="0.45"/>
<circle cx="80.27" cy="494.77" r="0.52" fill="#b08870" opacity="0.45"/>
<circle cx="115.84" cy="515.84" r="0.46" fill="#9a90b0" opacity="0.45"/>
<circle cx="83.17" cy="517.39" r="0.42" fill="#8a7aa0" opacity="0.45"/>
<circle cx="73.39" cy="496.01" r="0.56" fill="#9a90b0" opacity="0.45"/>
<circle cx="75.58" cy="492.01" r="0.68" fill="#b08870" opacity="0.45"/>
<circle cx="91.75" cy="510.73" r="0.53" fill="#9a90b0" opacity="0.45"/>
<circle cx="77.11" cy="503.71" r="0.50" fill="#8a7aa0" opacity="0.45"/>
<circle cx="112.14" cy="515.67" r="0.69" fill="#8a7aa0" opacity="0.45"/>
<circle cx="79.24" cy="484.03" r="0.39" fill="#b08870" opacity="0.45"/>
<circle cx="95.33" cy="481.24" r="0.38" fill="#b08870" opacity="0.45"/>
<circle cx="73.40" cy="491.31" r="0.41" fill="#b08870" opacity="0.45"/>
<circle cx="103.66" cy="503.38" r="0.69" fill="#9a90b0" opacity="0.45"/>
<circle cx="120.28" cy="483.62" r="0.48" fill="#9a90b0" opacity="0.45"/>
<circle cx="77.07" cy="507.72" r="0.60" fill="#8a7aa0" opacity="0.45"/>
<circle cx="94.48" cy="524.23" r="0.45" fill="#8a7aa0" opacity="0.45"/>
<circle cx="120.80" cy="505.03" r="0.54" fill="#b08870" opacity="0.45"/>
<circle cx="125.83" cy="499.16" r="0.51" fill="#9a90b0" opacity="0.45"/>
<circle cx="90.33" cy="504.47" r="0.49" fill="#b08870" opacity="0.45"/>
<circle cx="104.25" cy="492.52" r="0.59" fill="#b08870" opacity="0.45"/>
<circle cx="74.31" cy="516.19" r="0.53" fill="#9a90b0" opacity="0.45"/>
<circle cx="81.58" cy="515.32" r="0.46" fill="#b08870" opacity="0.45"/>
<circle cx="114.78" cy="481.23" r="0.70" fill="#b08870" opacity="0.45"/>
<circle cx="76.92" cy="522.63" r="0.47" fill="#b08870" opacity="0.45"/>
<circle cx="86.88" cy="515.37" r="0.32" fill="#8a7aa0" opacity="0.45"/>
<circle cx="125.38" cy="513.78" r="0.49" fill="#8a7aa0" opacity="0.45"/>
<circle cx="106.66" cy="484.37" r="0.55" fill="#b08870" opacity="0.45"/>
<circle cx="79.42" cy="520.48" r="0.44" fill="#8a7aa0" opacity="0.45"/>
<rect x="64.8" y="478.8" width="64.1" height="48.4" filter="url(#nzL)" opacity="0.2"/>
<rect x="64.8" y="478.8" width="64.1" height="48.4" filter="url(#nzB)" opacity="0.22"/>
<path d="M64.8,478.8 H87.8 C81.8,484.8 77.8,490.8 75.3,498.8 C73.8,506.8 72.8,516.8 71.8,527.2 H64.8 Z" fill="#d6d6d2" opacity="0.85"/>
<rect x="121.90" y="524.20" width="5" height="1.6" fill="#fff" opacity="0.9"/>
</g>
<g clip-path="url(#c11)">
<rect x="133.3" y="478.8" width="64.1" height="48.4" fill="#ccbaa4"/>
<ellipse cx="173.3" cy="492.8" rx="20" ry="13" fill="#b4acbc" opacity="0.6" filter="url(#soft2)"/>
<path d="M147.3,527.2 C155.3,522.8 163.3,518.8 171.3,513.8 C179.3,508.8 189.3,500.8 197.4,492.8 V527.2 Z" fill="#d6d6d2"/>
<path d="M157.3,478.8 C157.3,486.8 157.8,494.8 158.3,505.8" stroke="#8e94bc" stroke-width="4" fill="none" opacity="0.85"/>
<ellipse cx="157.8" cy="484.8" rx="1.6" ry="2.5" fill="#ece8f0"/>
<circle cx="175.3" cy="494.8" r="9" fill="none" stroke="#a8a2b8" stroke-width="3"/>
<circle cx="175.3" cy="493.8" r="2.5" fill="#e2d6ce"/>
<ellipse cx="175.3" cy="503.8" rx="5" ry="2.8" fill="#eeeae6"/>
<circle cx="163.72" cy="502.47" r="0.57" fill="#8a80a8" opacity="0.45"/>
<circle cx="157.76" cy="514.68" r="0.49" fill="#9a98b8" opacity="0.45"/>
<circle cx="185.24" cy="503.66" r="0.54" fill="#9a98b8" opacity="0.45"/>
<circle cx="133.41" cy="501.27" r="0.69" fill="#b09078" opacity="0.45"/>
<circle cx="143.70" cy="511.42" r="0.32" fill="#8a80a8" opacity="0.45"/>
<circle cx="138.08" cy="503.53" r="0.43" fill="#b09078" opacity="0.45"/>
<circle cx="184.44" cy="481.94" r="0.67" fill="#9a98b8" opacity="0.45"/>
<circle cx="165.92" cy="482.08" r="0.69" fill="#b09078" opacity="0.45"/>
<circle cx="140.51" cy="494.04" r="0.35" fill="#b09078" opacity="0.45"/>
<circle cx="189.84" cy="498.89" r="0.69" fill="#8a80a8" opacity="0.45"/>
<circle cx="168.89" cy="497.06" r="0.33" fill="#9a98b8" opacity="0.45"/>
<circle cx="160.15" cy="500.25" r="0.49" fill="#b09078" opacity="0.45"/>
<circle cx="167.99" cy="501.87" r="0.33" fill="#8a80a8" opacity="0.45"/>
<circle cx="195.88" cy="502.69" r="0.44" fill="#b09078" opacity="0.45"/>
<circle cx="188.82" cy="492.68" r="0.42" fill="#b09078" opacity="0.45"/>
<circle cx="148.36" cy="491.88" r="0.50" fill="#9a98b8" opacity="0.45"/>
<circle cx="144.80" cy="492.51" r="0.64" fill="#8a80a8" opacity="0.45"/>
<circle cx="166.57" cy="486.80" r="0.47" fill="#b09078" opacity="0.45"/>
<circle cx="146.40" cy="500.66" r="0.60" fill="#8a80a8" opacity="0.45"/>
<circle cx="144.71" cy="503.85" r="0.31" fill="#b09078" opacity="0.45"/>
<circle cx="165.24" cy="500.47" r="0.59" fill="#9a98b8" opacity="0.45"/>
<circle cx="162.74" cy="486.32" r="0.41" fill="#b09078" opacity="0.45"/>
<circle cx="177.97" cy="509.60" r="0.40" fill="#8a80a8" opacity="0.45"/>
<circle cx="163.09" cy="498.56" r="0.37" fill="#9a98b8" opacity="0.45"/>
<circle cx="147.39" cy="500.65" r="0.68" fill="#b09078" opacity="0.45"/>
<circle cx="144.81" cy="507.42" r="0.50" fill="#8a80a8" opacity="0.45"/>
<circle cx="172.98" cy="514.22" r="0.70" fill="#9a98b8" opacity="0.45"/>
<circle cx="143.22" cy="512.19" r="0.65" fill="#9a98b8" opacity="0.45"/>
<circle cx="186.63" cy="501.82" r="0.39" fill="#9a98b8" opacity="0.45"/>
<circle cx="165.49" cy="496.43" r="0.44" fill="#9a98b8" opacity="0.45"/>
<circle cx="193.98" cy="511.00" r="0.36" fill="#b09078" opacity="0.45"/>
<circle cx="172.84" cy="480.46" r="0.43" fill="#9a98b8" opacity="0.45"/>
<circle cx="174.34" cy="494.82" r="0.62" fill="#9a98b8" opacity="0.45"/>
<circle cx="151.57" cy="487.98" r="0.57" fill="#9a98b8" opacity="0.45"/>
<circle cx="135.05" cy="498.89" r="0.41" fill="#8a80a8" opacity="0.45"/>
<circle cx="148.76" cy="494.47" r="0.69" fill="#9a98b8" opacity="0.45"/>
<circle cx="169.85" cy="504.68" r="0.67" fill="#b09078" opacity="0.45"/>
<circle cx="182.04" cy="493.84" r="0.54" fill="#b09078" opacity="0.45"/>
<circle cx="183.89" cy="499.69" r="0.44" fill="#b09078" opacity="0.45"/>
<circle cx="174.20" cy="492.66" r="0.36" fill="#9a98b8" opacity="0.45"/>
<circle cx="178.82" cy="511.34" r="0.62" fill="#8a80a8" opacity="0.45"/>
<circle cx="191.66" cy="498.06" r="0.62" fill="#b09078" opacity="0.45"/>
<circle cx="184.09" cy="504.37" r="0.38" fill="#b09078" opacity="0.45"/>
<circle cx="193.17" cy="503.61" r="0.52" fill="#9a98b8" opacity="0.45"/>
<circle cx="172.47" cy="486.43" r="0.54" fill="#9a98b8" opacity="0.45"/>
<circle cx="158.57" cy="487.65" r="0.46" fill="#b09078" opacity="0.45"/>
<circle cx="138.58" cy="490.77" r="0.57" fill="#9a98b8" opacity="0.45"/>
<circle cx="153.33" cy="503.85" r="0.60" fill="#9a98b8" opacity="0.45"/>
<circle cx="174.14" cy="494.50" r="0.37" fill="#8a80a8" opacity="0.45"/>
<circle cx="164.57" cy="494.77" r="0.37" fill="#9a98b8" opacity="0.45"/>
<circle cx="171.39" cy="495.25" r="0.65" fill="#8a80a8" opacity="0.45"/>
<circle cx="193.80" cy="479.08" r="0.44" fill="#b09078" opacity="0.45"/>
<circle cx="187.71" cy="503.59" r="0.42" fill="#9a98b8" opacity="0.45"/>
<circle cx="192.20" cy="496.84" r="0.58" fill="#8a80a8" opacity="0.45"/>
<circle cx="165.40" cy="492.80" r="0.50" fill="#9a98b8" opacity="0.45"/>
<circle cx="149.32" cy="495.35" r="0.64" fill="#8a80a8" opacity="0.45"/>
<circle cx="159.42" cy="503.96" r="0.62" fill="#9a98b8" opacity="0.45"/>
<circle cx="176.46" cy="502.68" r="0.69" fill="#9a98b8" opacity="0.45"/>
<circle cx="169.86" cy="490.03" r="0.60" fill="#8a80a8" opacity="0.45"/>
<circle cx="153.96" cy="496.80" r="0.44" fill="#b09078" opacity="0.45"/>
<circle cx="144.22" cy="495.97" r="0.62" fill="#8a80a8" opacity="0.45"/>
<circle cx="149.44" cy="480.45" r="0.62" fill="#b09078" opacity="0.45"/>
<circle cx="159.49" cy="501.39" r="0.41" fill="#9a98b8" opacity="0.45"/>
<circle cx="153.87" cy="483.33" r="0.56" fill="#9a98b8" opacity="0.45"/>
<circle cx="172.31" cy="507.04" r="0.46" fill="#9a98b8" opacity="0.45"/>
<circle cx="175.51" cy="491.03" r="0.61" fill="#b09078" opacity="0.45"/>
<circle cx="157.96" cy="493.18" r="0.62" fill="#8a80a8" opacity="0.45"/>
<circle cx="183.86" cy="508.89" r="0.34" fill="#b09078" opacity="0.45"/>
<circle cx="166.81" cy="480.71" r="0.63" fill="#9a98b8" opacity="0.45"/>
<circle cx="185.94" cy="491.72" r="0.59" fill="#b09078" opacity="0.45"/>
<circle cx="182.71" cy="509.72" r="0.42" fill="#8a80a8" opacity="0.45"/>
<circle cx="181.31" cy="509.74" r="0.52" fill="#8a80a8" opacity="0.45"/>
<circle cx="134.13" cy="484.96" r="0.37" fill="#9a98b8" opacity="0.45"/>
<circle cx="185.13" cy="512.17" r="0.69" fill="#b09078" opacity="0.45"/>
<circle cx="168.31" cy="479.58" r="0.66" fill="#b09078" opacity="0.45"/>
<circle cx="177.21" cy="498.10" r="0.48" fill="#9a98b8" opacity="0.45"/>
<circle cx="133.70" cy="483.36" r="0.46" fill="#b09078" opacity="0.45"/>
<circle cx="174.04" cy="495.62" r="0.55" fill="#b09078" opacity="0.45"/>
<circle cx="187.97" cy="510.94" r="0.31" fill="#b09078" opacity="0.45"/>
<circle cx="134.62" cy="484.38" r="0.60" fill="#b09078" opacity="0.45"/>
<circle cx="177.55" cy="513.23" r="0.57" fill="#b09078" opacity="0.45"/>
<circle cx="168.48" cy="513.46" r="0.45" fill="#8a80a8" opacity="0.45"/>
<circle cx="187.08" cy="483.46" r="0.32" fill="#8a80a8" opacity="0.45"/>
<circle cx="160.42" cy="507.81" r="0.63" fill="#8a80a8" opacity="0.45"/>
<circle cx="135.29" cy="503.52" r="0.53" fill="#9a98b8" opacity="0.45"/>
<circle cx="194.87" cy="505.68" r="0.68" fill="#8a80a8" opacity="0.45"/>
<circle cx="171.32" cy="499.93" r="0.62" fill="#9a98b8" opacity="0.45"/>
<circle cx="146.54" cy="506.05" r="0.47" fill="#9a98b8" opacity="0.45"/>
<circle cx="186.53" cy="507.60" r="0.46" fill="#9a98b8" opacity="0.45"/>
<circle cx="172.20" cy="513.10" r="0.69" fill="#9a98b8" opacity="0.45"/>
<circle cx="193.13" cy="491.84" r="0.42" fill="#b09078" opacity="0.45"/>
<circle cx="171.77" cy="502.89" r="0.31" fill="#8a80a8" opacity="0.45"/>
<circle cx="141.20" cy="494.49" r="0.44" fill="#b09078" opacity="0.45"/>
<circle cx="181.84" cy="491.03" r="0.45" fill="#b09078" opacity="0.45"/>
<circle cx="155.26" cy="510.82" r="0.55" fill="#9a98b8" opacity="0.45"/>
<circle cx="156.48" cy="487.10" r="0.45" fill="#9a98b8" opacity="0.45"/>
<circle cx="169.48" cy="508.99" r="0.57" fill="#b09078" opacity="0.45"/>
<circle cx="181.05" cy="487.88" r="0.47" fill="#8a80a8" opacity="0.45"/>
<circle cx="140.94" cy="499.93" r="0.50" fill="#b09078" opacity="0.45"/>
<circle cx="168.43" cy="500.25" r="0.53" fill="#b09078" opacity="0.45"/>
<circle cx="154.82" cy="492.28" r="0.66" fill="#b09078" opacity="0.45"/>
<circle cx="193.78" cy="500.34" r="0.33" fill="#9a98b8" opacity="0.45"/>
<circle cx="158.92" cy="486.18" r="0.43" fill="#b09078" opacity="0.45"/>
<circle cx="172.79" cy="509.70" r="0.36" fill="#b09078" opacity="0.45"/>
<circle cx="154.61" cy="502.47" r="0.46" fill="#9a98b8" opacity="0.45"/>
<circle cx="154.36" cy="498.15" r="0.63" fill="#9a98b8" opacity="0.45"/>
<circle cx="139.78" cy="487.81" r="0.62" fill="#8a80a8" opacity="0.45"/>
<circle cx="176.49" cy="484.98" r="0.48" fill="#b09078" opacity="0.45"/>
<circle cx="137.61" cy="503.56" r="0.38" fill="#b09078" opacity="0.45"/>
<circle cx="174.20" cy="501.74" r="0.54" fill="#b09078" opacity="0.45"/>
<circle cx="180.96" cy="489.96" r="0.35" fill="#b09078" opacity="0.45"/>
<circle cx="158.41" cy="495.55" r="0.44" fill="#9a98b8" opacity="0.45"/>
<circle cx="191.18" cy="485.87" r="0.54" fill="#9a98b8" opacity="0.45"/>
<circle cx="164.39" cy="502.53" r="0.59" fill="#9a98b8" opacity="0.45"/>
<circle cx="155.07" cy="493.16" r="0.35" fill="#8a80a8" opacity="0.45"/>
<circle cx="190.37" cy="507.24" r="0.46" fill="#b09078" opacity="0.45"/>
<circle cx="191.15" cy="484.25" r="0.63" fill="#b09078" opacity="0.45"/>
<circle cx="170.30" cy="485.25" r="0.47" fill="#8a80a8" opacity="0.45"/>
<circle cx="142.41" cy="495.11" r="0.51" fill="#8a80a8" opacity="0.45"/>
<circle cx="143.46" cy="483.19" r="0.63" fill="#b09078" opacity="0.45"/>
<circle cx="166.13" cy="489.87" r="0.34" fill="#8a80a8" opacity="0.45"/>
<circle cx="142.67" cy="487.01" r="0.64" fill="#b09078" opacity="0.45"/>
<circle cx="193.03" cy="497.82" r="0.45" fill="#8a80a8" opacity="0.45"/>
<circle cx="141.37" cy="486.27" r="0.64" fill="#8a80a8" opacity="0.45"/>
<circle cx="184.03" cy="488.19" r="0.51" fill="#b09078" opacity="0.45"/>
<circle cx="140.26" cy="501.03" r="0.37" fill="#9a98b8" opacity="0.45"/>
<circle cx="187.10" cy="501.99" r="0.47" fill="#8a80a8" opacity="0.45"/>
<circle cx="196.83" cy="492.63" r="0.64" fill="#8a80a8" opacity="0.45"/>
<circle cx="138.28" cy="511.93" r="0.51" fill="#9a98b8" opacity="0.45"/>
<circle cx="183.85" cy="513.77" r="0.60" fill="#b09078" opacity="0.45"/>
<circle cx="168.17" cy="509.29" r="0.45" fill="#8a80a8" opacity="0.45"/>
<circle cx="134.86" cy="507.46" r="0.51" fill="#9a98b8" opacity="0.45"/>
<circle cx="151.05" cy="490.02" r="0.42" fill="#b09078" opacity="0.45"/>
<circle cx="184.56" cy="505.68" r="0.51" fill="#9a98b8" opacity="0.45"/>
<circle cx="176.71" cy="510.09" r="0.56" fill="#b09078" opacity="0.45"/>
<circle cx="177.68" cy="491.28" r="0.56" fill="#8a80a8" opacity="0.45"/>
<circle cx="140.66" cy="507.88" r="0.33" fill="#8a80a8" opacity="0.45"/>
<circle cx="141.90" cy="513.58" r="0.51" fill="#8a80a8" opacity="0.45"/>
<circle cx="168.45" cy="511.10" r="0.44" fill="#8a80a8" opacity="0.45"/>
<circle cx="186.64" cy="479.50" r="0.36" fill="#b09078" opacity="0.45"/>
<rect x="133.3" y="478.8" width="64.1" height="48.4" filter="url(#nzL)" opacity="0.2"/>
<rect x="133.3" y="478.8" width="64.1" height="48.4" filter="url(#nzB)" opacity="0.22"/>
<path d="M147.3,527.2 C155.3,522.8 163.3,518.8 171.3,513.8 C179.3,508.8 189.3,500.8 197.4,492.8 V527.2 Z" fill="#d6d6d2" opacity="0.85"/>
<rect x="190.40" y="524.20" width="5" height="1.6" fill="#fff" opacity="0.9"/>
</g>
<g clip-path="url(#c12)">
<rect x="202.2" y="478.8" width="64.1" height="48.4" fill="#bcbacb"/>
<ellipse cx="238.2" cy="493.8" rx="18" ry="12" fill="#cfc4bc" opacity="0.6" filter="url(#soft2)"/>
<ellipse cx="260.2" cy="485.8" rx="7" ry="6" fill="#d8d2d4" opacity="0.8" filter="url(#soft2)"/>
<path d="M202.2,506.8 C207.2,515.8 216.2,522.8 228.2,525.8 L236.2,527.2 H202.2 Z" fill="#d6d6d2"/>
<ellipse cx="230.2" cy="514.8" rx="10" ry="8" fill="none" stroke="#9898c0" stroke-width="3" opacity="0.9"/>
<ellipse cx="230.2" cy="514.8" rx="6.5" ry="4.6" fill="#eadfda"/>
<ellipse cx="222.7" cy="509.8" rx="2.2" ry="1.5" fill="#eeeaea"/>
<circle cx="218.80" cy="511.97" r="0.61" fill="#7878b0" opacity="0.45"/>
<circle cx="243.99" cy="511.04" r="0.69" fill="#8888b8" opacity="0.45"/>
<circle cx="249.25" cy="485.10" r="0.54" fill="#7878b0" opacity="0.45"/>
<circle cx="249.93" cy="480.25" r="0.36" fill="#8888b8" opacity="0.45"/>
<circle cx="241.20" cy="479.50" r="0.42" fill="#7878b0" opacity="0.45"/>
<circle cx="207.65" cy="517.23" r="0.70" fill="#b09a88" opacity="0.45"/>
<circle cx="255.17" cy="514.85" r="0.73" fill="#b09a88" opacity="0.45"/>
<circle cx="225.00" cy="490.13" r="0.70" fill="#8888b8" opacity="0.45"/>
<circle cx="238.36" cy="499.59" r="0.46" fill="#b09a88" opacity="0.45"/>
<circle cx="243.14" cy="510.51" r="0.46" fill="#8888b8" opacity="0.45"/>
<circle cx="253.37" cy="526.51" r="0.61" fill="#8888b8" opacity="0.45"/>
<circle cx="241.38" cy="526.58" r="0.50" fill="#8888b8" opacity="0.45"/>
<circle cx="230.62" cy="487.35" r="0.39" fill="#8888b8" opacity="0.45"/>
<circle cx="225.04" cy="496.76" r="0.42" fill="#b09a88" opacity="0.45"/>
<circle cx="227.57" cy="485.13" r="0.52" fill="#7878b0" opacity="0.45"/>
<circle cx="238.44" cy="521.71" r="0.62" fill="#7878b0" opacity="0.45"/>
<circle cx="206.90" cy="510.32" r="0.73" fill="#b09a88" opacity="0.45"/>
<circle cx="202.34" cy="499.34" r="0.69" fill="#7878b0" opacity="0.45"/>
<circle cx="211.29" cy="517.82" r="0.68" fill="#8888b8" opacity="0.45"/>
<circle cx="218.46" cy="514.28" r="0.63" fill="#b09a88" opacity="0.45"/>
<circle cx="259.00" cy="517.67" r="0.39" fill="#8888b8" opacity="0.45"/>
<circle cx="226.22" cy="513.48" r="0.36" fill="#8888b8" opacity="0.45"/>
<circle cx="240.88" cy="513.78" r="0.40" fill="#8888b8" opacity="0.45"/>
<circle cx="204.93" cy="512.77" r="0.32" fill="#8888b8" opacity="0.45"/>
<circle cx="248.85" cy="495.32" r="0.43" fill="#7878b0" opacity="0.45"/>
<circle cx="252.67" cy="505.68" r="0.71" fill="#7878b0" opacity="0.45"/>
<circle cx="206.63" cy="509.95" r="0.55" fill="#8888b8" opacity="0.45"/>
<circle cx="246.76" cy="525.80" r="0.67" fill="#8888b8" opacity="0.45"/>
<circle cx="208.14" cy="478.94" r="0.75" fill="#7878b0" opacity="0.45"/>
<circle cx="228.36" cy="522.69" r="0.55" fill="#8888b8" opacity="0.45"/>
<circle cx="207.16" cy="501.54" r="0.47" fill="#7878b0" opacity="0.45"/>
<circle cx="202.57" cy="495.00" r="0.52" fill="#8888b8" opacity="0.45"/>
<circle cx="235.32" cy="501.75" r="0.60" fill="#b09a88" opacity="0.45"/>
<circle cx="253.40" cy="497.01" r="0.62" fill="#7878b0" opacity="0.45"/>
<circle cx="249.53" cy="491.30" r="0.61" fill="#7878b0" opacity="0.45"/>
<circle cx="218.77" cy="507.26" r="0.46" fill="#7878b0" opacity="0.45"/>
<circle cx="240.15" cy="499.51" r="0.59" fill="#b09a88" opacity="0.45"/>
<circle cx="204.64" cy="498.05" r="0.34" fill="#7878b0" opacity="0.45"/>
<circle cx="240.65" cy="479.00" r="0.65" fill="#7878b0" opacity="0.45"/>
<circle cx="231.01" cy="526.79" r="0.48" fill="#7878b0" opacity="0.45"/>
<circle cx="220.75" cy="499.85" r="0.36" fill="#7878b0" opacity="0.45"/>
<circle cx="209.38" cy="518.66" r="0.40" fill="#b09a88" opacity="0.45"/>
<circle cx="240.87" cy="492.88" r="0.46" fill="#7878b0" opacity="0.45"/>
<circle cx="225.34" cy="500.19" r="0.69" fill="#b09a88" opacity="0.45"/>
<circle cx="204.99" cy="504.70" r="0.36" fill="#7878b0" opacity="0.45"/>
<circle cx="222.89" cy="522.02" r="0.55" fill="#7878b0" opacity="0.45"/>
<circle cx="260.04" cy="522.10" r="0.71" fill="#8888b8" opacity="0.45"/>
<circle cx="211.80" cy="501.98" r="0.47" fill="#b09a88" opacity="0.45"/>
<circle cx="219.13" cy="518.56" r="0.32" fill="#7878b0" opacity="0.45"/>
<circle cx="244.93" cy="524.07" r="0.53" fill="#b09a88" opacity="0.45"/>
<circle cx="214.70" cy="497.83" r="0.32" fill="#8888b8" opacity="0.45"/>
<circle cx="259.73" cy="484.38" r="0.36" fill="#8888b8" opacity="0.45"/>
<circle cx="250.92" cy="496.74" r="0.48" fill="#7878b0" opacity="0.45"/>
<circle cx="263.86" cy="493.22" r="0.34" fill="#7878b0" opacity="0.45"/>
<circle cx="261.92" cy="486.88" r="0.31" fill="#8888b8" opacity="0.45"/>
<circle cx="248.10" cy="520.73" r="0.75" fill="#8888b8" opacity="0.45"/>
<circle cx="229.40" cy="508.91" r="0.67" fill="#8888b8" opacity="0.45"/>
<circle cx="247.12" cy="523.25" r="0.32" fill="#7878b0" opacity="0.45"/>
<circle cx="221.97" cy="527.01" r="0.51" fill="#b09a88" opacity="0.45"/>
<circle cx="211.87" cy="486.04" r="0.44" fill="#8888b8" opacity="0.45"/>
<circle cx="204.08" cy="491.34" r="0.45" fill="#7878b0" opacity="0.45"/>
<circle cx="263.35" cy="524.90" r="0.47" fill="#7878b0" opacity="0.45"/>
<circle cx="265.87" cy="515.67" r="0.52" fill="#b09a88" opacity="0.45"/>
<circle cx="212.14" cy="506.79" r="0.73" fill="#b09a88" opacity="0.45"/>
<circle cx="214.63" cy="496.98" r="0.51" fill="#7878b0" opacity="0.45"/>
<circle cx="204.06" cy="522.64" r="0.52" fill="#8888b8" opacity="0.45"/>
<circle cx="213.66" cy="483.78" r="0.56" fill="#b09a88" opacity="0.45"/>
<circle cx="207.37" cy="522.54" r="0.56" fill="#8888b8" opacity="0.45"/>
<circle cx="255.69" cy="489.17" r="0.64" fill="#8888b8" opacity="0.45"/>
<circle cx="246.51" cy="480.11" r="0.54" fill="#8888b8" opacity="0.45"/>
<circle cx="211.39" cy="519.44" r="0.37" fill="#7878b0" opacity="0.45"/>
<circle cx="249.12" cy="499.51" r="0.64" fill="#7878b0" opacity="0.45"/>
<circle cx="233.38" cy="508.23" r="0.41" fill="#8888b8" opacity="0.45"/>
<circle cx="234.51" cy="506.45" r="0.70" fill="#b09a88" opacity="0.45"/>
<circle cx="244.05" cy="508.23" r="0.54" fill="#b09a88" opacity="0.45"/>
<circle cx="217.29" cy="503.49" r="0.31" fill="#b09a88" opacity="0.45"/>
<circle cx="260.80" cy="523.90" r="0.67" fill="#7878b0" opacity="0.45"/>
<circle cx="245.87" cy="513.69" r="0.60" fill="#8888b8" opacity="0.45"/>
<circle cx="208.15" cy="513.30" r="0.36" fill="#7878b0" opacity="0.45"/>
<circle cx="240.44" cy="481.53" r="0.59" fill="#8888b8" opacity="0.45"/>
<circle cx="249.34" cy="480.06" r="0.51" fill="#b09a88" opacity="0.45"/>
<circle cx="226.63" cy="518.23" r="0.52" fill="#8888b8" opacity="0.45"/>
<circle cx="235.10" cy="482.06" r="0.69" fill="#8888b8" opacity="0.45"/>
<circle cx="263.25" cy="495.17" r="0.60" fill="#7878b0" opacity="0.45"/>
<circle cx="246.02" cy="496.96" r="0.33" fill="#b09a88" opacity="0.45"/>
<circle cx="261.92" cy="493.33" r="0.72" fill="#7878b0" opacity="0.45"/>
<circle cx="265.41" cy="500.47" r="0.48" fill="#8888b8" opacity="0.45"/>
<circle cx="259.53" cy="481.75" r="0.41" fill="#7878b0" opacity="0.45"/>
<circle cx="211.55" cy="494.51" r="0.43" fill="#8888b8" opacity="0.45"/>
<circle cx="215.52" cy="523.98" r="0.43" fill="#7878b0" opacity="0.45"/>
<circle cx="242.52" cy="521.21" r="0.64" fill="#8888b8" opacity="0.45"/>
<circle cx="210.44" cy="482.04" r="0.47" fill="#7878b0" opacity="0.45"/>
<circle cx="222.29" cy="526.79" r="0.37" fill="#7878b0" opacity="0.45"/>
<circle cx="205.36" cy="490.00" r="0.55" fill="#7878b0" opacity="0.45"/>
<circle cx="244.47" cy="513.11" r="0.62" fill="#b09a88" opacity="0.45"/>
<circle cx="256.88" cy="486.30" r="0.32" fill="#8888b8" opacity="0.45"/>
<circle cx="205.52" cy="518.50" r="0.65" fill="#8888b8" opacity="0.45"/>
<circle cx="213.37" cy="512.98" r="0.49" fill="#b09a88" opacity="0.45"/>
<circle cx="221.27" cy="491.49" r="0.66" fill="#8888b8" opacity="0.45"/>
<circle cx="237.71" cy="522.69" r="0.43" fill="#8888b8" opacity="0.45"/>
<circle cx="215.77" cy="519.42" r="0.34" fill="#7878b0" opacity="0.45"/>
<circle cx="257.17" cy="525.52" r="0.41" fill="#7878b0" opacity="0.45"/>
<circle cx="242.23" cy="483.65" r="0.52" fill="#8888b8" opacity="0.45"/>
<circle cx="208.89" cy="512.89" r="0.56" fill="#b09a88" opacity="0.45"/>
<circle cx="210.97" cy="501.92" r="0.52" fill="#b09a88" opacity="0.45"/>
<circle cx="210.21" cy="513.28" r="0.52" fill="#8888b8" opacity="0.45"/>
<circle cx="208.68" cy="517.42" r="0.67" fill="#b09a88" opacity="0.45"/>
<circle cx="203.18" cy="523.34" r="0.62" fill="#8888b8" opacity="0.45"/>
<circle cx="235.56" cy="490.60" r="0.37" fill="#b09a88" opacity="0.45"/>
<circle cx="203.44" cy="496.34" r="0.64" fill="#8888b8" opacity="0.45"/>
<circle cx="214.56" cy="485.96" r="0.37" fill="#7878b0" opacity="0.45"/>
<circle cx="242.58" cy="524.46" r="0.66" fill="#8888b8" opacity="0.45"/>
<circle cx="229.91" cy="484.76" r="0.48" fill="#7878b0" opacity="0.45"/>
<circle cx="254.60" cy="508.78" r="0.47" fill="#7878b0" opacity="0.45"/>
<circle cx="227.72" cy="497.86" r="0.71" fill="#b09a88" opacity="0.45"/>
<circle cx="220.63" cy="505.68" r="0.48" fill="#8888b8" opacity="0.45"/>
<circle cx="250.34" cy="481.18" r="0.51" fill="#7878b0" opacity="0.45"/>
<circle cx="236.58" cy="515.12" r="0.63" fill="#8888b8" opacity="0.45"/>
<circle cx="211.36" cy="516.52" r="0.32" fill="#8888b8" opacity="0.45"/>
<circle cx="214.28" cy="490.47" r="0.50" fill="#b09a88" opacity="0.45"/>
<circle cx="219.70" cy="499.35" r="0.65" fill="#7878b0" opacity="0.45"/>
<circle cx="249.64" cy="501.01" r="0.68" fill="#7878b0" opacity="0.45"/>
<circle cx="230.39" cy="488.77" r="0.64" fill="#b09a88" opacity="0.45"/>
<circle cx="205.85" cy="498.30" r="0.66" fill="#8888b8" opacity="0.45"/>
<circle cx="214.46" cy="521.35" r="0.39" fill="#7878b0" opacity="0.45"/>
<circle cx="247.02" cy="500.40" r="0.63" fill="#8888b8" opacity="0.45"/>
<circle cx="227.40" cy="523.13" r="0.53" fill="#b09a88" opacity="0.45"/>
<circle cx="207.72" cy="525.71" r="0.56" fill="#b09a88" opacity="0.45"/>
<circle cx="207.42" cy="504.68" r="0.61" fill="#7878b0" opacity="0.45"/>
<circle cx="206.04" cy="517.41" r="0.59" fill="#7878b0" opacity="0.45"/>
<circle cx="248.58" cy="480.12" r="0.62" fill="#8888b8" opacity="0.45"/>
<circle cx="258.00" cy="501.33" r="0.32" fill="#7878b0" opacity="0.45"/>
<circle cx="215.16" cy="514.18" r="0.52" fill="#7878b0" opacity="0.45"/>
<circle cx="211.66" cy="517.21" r="0.62" fill="#7878b0" opacity="0.45"/>
<circle cx="213.58" cy="482.03" r="0.38" fill="#b09a88" opacity="0.45"/>
<circle cx="263.82" cy="511.04" r="0.52" fill="#8888b8" opacity="0.45"/>
<circle cx="248.17" cy="482.09" r="0.65" fill="#7878b0" opacity="0.45"/>
<circle cx="248.39" cy="481.98" r="0.54" fill="#7878b0" opacity="0.45"/>
<circle cx="214.51" cy="523.07" r="0.63" fill="#b09a88" opacity="0.45"/>
<circle cx="242.26" cy="513.62" r="0.70" fill="#8888b8" opacity="0.45"/>
<circle cx="253.76" cy="494.70" r="0.50" fill="#8888b8" opacity="0.45"/>
<circle cx="242.99" cy="487.29" r="0.36" fill="#7878b0" opacity="0.45"/>
<circle cx="239.34" cy="524.19" r="0.62" fill="#8888b8" opacity="0.45"/>
<circle cx="246.92" cy="503.19" r="0.49" fill="#7878b0" opacity="0.45"/>
<circle cx="227.81" cy="498.82" r="0.65" fill="#b09a88" opacity="0.45"/>
<circle cx="231.13" cy="515.16" r="0.35" fill="#b09a88" opacity="0.45"/>
<circle cx="231.52" cy="513.31" r="0.66" fill="#7878b0" opacity="0.45"/>
<circle cx="219.13" cy="513.64" r="0.51" fill="#7878b0" opacity="0.45"/>
<circle cx="238.10" cy="508.11" r="0.71" fill="#8888b8" opacity="0.45"/>
<circle cx="240.78" cy="478.83" r="0.65" fill="#8888b8" opacity="0.45"/>
<circle cx="210.39" cy="494.78" r="0.74" fill="#7878b0" opacity="0.45"/>
<circle cx="246.56" cy="491.92" r="0.36" fill="#b09a88" opacity="0.45"/>
<circle cx="230.54" cy="482.22" r="0.70" fill="#7878b0" opacity="0.45"/>
<circle cx="262.27" cy="482.91" r="0.64" fill="#7878b0" opacity="0.45"/>
<circle cx="250.04" cy="502.32" r="0.56" fill="#8888b8" opacity="0.45"/>
<circle cx="248.01" cy="501.38" r="0.62" fill="#8888b8" opacity="0.45"/>
<circle cx="223.98" cy="514.47" r="0.46" fill="#b09a88" opacity="0.45"/>
<circle cx="251.17" cy="520.32" r="0.69" fill="#8888b8" opacity="0.45"/>
<circle cx="215.62" cy="495.30" r="0.35" fill="#7878b0" opacity="0.45"/>
<circle cx="206.96" cy="507.03" r="0.61" fill="#b09a88" opacity="0.45"/>
<circle cx="249.92" cy="511.15" r="0.67" fill="#b09a88" opacity="0.45"/>
<circle cx="214.59" cy="506.78" r="0.47" fill="#7878b0" opacity="0.45"/>
<circle cx="207.18" cy="500.64" r="0.39" fill="#7878b0" opacity="0.45"/>
<circle cx="245.99" cy="499.44" r="0.33" fill="#8888b8" opacity="0.45"/>
<circle cx="221.80" cy="509.84" r="0.57" fill="#8888b8" opacity="0.45"/>
<circle cx="245.51" cy="479.32" r="0.73" fill="#7878b0" opacity="0.45"/>
<circle cx="243.80" cy="504.31" r="0.32" fill="#b09a88" opacity="0.45"/>
<circle cx="249.80" cy="514.77" r="0.49" fill="#b09a88" opacity="0.45"/>
<circle cx="210.76" cy="525.31" r="0.32" fill="#7878b0" opacity="0.45"/>
<circle cx="212.87" cy="496.45" r="0.70" fill="#b09a88" opacity="0.45"/>
<rect x="202.2" y="478.8" width="64.1" height="48.4" filter="url(#nzL)" opacity="0.2"/>
<rect x="202.2" y="478.8" width="64.1" height="48.4" filter="url(#nzB)" opacity="0.22"/>
<path d="M202.2,506.8 C207.2,515.8 216.2,522.8 228.2,525.8 L236.2,527.2 H202.2 Z" fill="#d6d6d2" opacity="0.85"/>
<rect x="259.30" y="524.20" width="5" height="1.6" fill="#fff" opacity="0.9"/>
</g>
<g clip-path="url(#c13)">
<rect x="271.1" y="478.8" width="64.1" height="48.4" fill="#c4ae9c"/>
<ellipse cx="289.1" cy="509.8" rx="19" ry="19" fill="#a49cb6"/>
<ellipse cx="289.1" cy="509.8" rx="12" ry="12" fill="#b0a4b2"/>
<ellipse cx="289.1" cy="509.8" rx="6.5" ry="7" fill="#d4bca8"/>
<path d="M271.1,478.8 H284.1 C280.1,483.8 276.1,490.8 274.1,498.8 C272.6,508.8 272.1,518.8 272.1,527.2 H271.1 Z" fill="#d6d6d2"/>
<ellipse cx="321.1" cy="513.8" rx="6" ry="10" fill="#c8b8b4" opacity="0.7" filter="url(#soft2)"/>
<circle cx="277.95" cy="512.81" r="0.59" fill="#7070a8" opacity="0.45"/>
<circle cx="288.48" cy="491.18" r="0.63" fill="#8a88b8" opacity="0.45"/>
<circle cx="299.93" cy="501.38" r="0.69" fill="#a8886c" opacity="0.45"/>
<circle cx="320.94" cy="484.53" r="0.40" fill="#a8886c" opacity="0.45"/>
<circle cx="294.05" cy="491.40" r="0.66" fill="#8a88b8" opacity="0.45"/>
<circle cx="304.19" cy="486.59" r="0.60" fill="#a8886c" opacity="0.45"/>
<circle cx="281.67" cy="510.34" r="0.36" fill="#a8886c" opacity="0.45"/>
<circle cx="272.88" cy="492.06" r="0.68" fill="#a8886c" opacity="0.45"/>
<circle cx="296.98" cy="526.74" r="0.50" fill="#8a88b8" opacity="0.45"/>
<circle cx="277.15" cy="509.82" r="0.70" fill="#8a88b8" opacity="0.45"/>
<circle cx="308.86" cy="509.47" r="0.38" fill="#7070a8" opacity="0.45"/>
<circle cx="318.98" cy="502.35" r="0.60" fill="#a8886c" opacity="0.45"/>
<circle cx="300.11" cy="489.36" r="0.66" fill="#8a88b8" opacity="0.45"/>
<circle cx="287.42" cy="484.67" r="0.75" fill="#a8886c" opacity="0.45"/>
<circle cx="289.09" cy="480.16" r="0.63" fill="#7070a8" opacity="0.45"/>
<circle cx="315.09" cy="507.16" r="0.49" fill="#8a88b8" opacity="0.45"/>
<circle cx="281.89" cy="497.52" r="0.44" fill="#a8886c" opacity="0.45"/>
<circle cx="299.11" cy="507.62" r="0.34" fill="#a8886c" opacity="0.45"/>
<circle cx="296.36" cy="500.54" r="0.58" fill="#a8886c" opacity="0.45"/>
<circle cx="275.36" cy="485.74" r="0.62" fill="#8a88b8" opacity="0.45"/>
<circle cx="299.39" cy="518.75" r="0.48" fill="#a8886c" opacity="0.45"/>
<circle cx="272.43" cy="513.15" r="0.47" fill="#a8886c" opacity="0.45"/>
<circle cx="287.99" cy="493.43" r="0.38" fill="#8a88b8" opacity="0.45"/>
<circle cx="306.99" cy="517.41" r="0.34" fill="#7070a8" opacity="0.45"/>
<circle cx="273.33" cy="493.92" r="0.74" fill="#8a88b8" opacity="0.45"/>
<circle cx="303.58" cy="504.04" r="0.66" fill="#a8886c" opacity="0.45"/>
<circle cx="278.39" cy="525.09" r="0.65" fill="#7070a8" opacity="0.45"/>
<circle cx="285.85" cy="521.05" r="0.42" fill="#7070a8" opacity="0.45"/>
<circle cx="284.42" cy="511.72" r="0.45" fill="#8a88b8" opacity="0.45"/>
<circle cx="319.92" cy="496.65" r="0.55" fill="#8a88b8" opacity="0.45"/>
<circle cx="318.61" cy="516.90" r="0.37" fill="#8a88b8" opacity="0.45"/>
<circle cx="325.03" cy="496.54" r="0.47" fill="#a8886c" opacity="0.45"/>
<circle cx="306.09" cy="516.23" r="0.44" fill="#8a88b8" opacity="0.45"/>
<circle cx="273.12" cy="509.93" r="0.49" fill="#a8886c" opacity="0.45"/>
<circle cx="276.84" cy="517.87" r="0.36" fill="#7070a8" opacity="0.45"/>
<circle cx="315.47" cy="485.61" r="0.42" fill="#a8886c" opacity="0.45"/>
<circle cx="279.16" cy="522.21" r="0.32" fill="#7070a8" opacity="0.45"/>
<circle cx="287.56" cy="496.64" r="0.49" fill="#7070a8" opacity="0.45"/>
<circle cx="299.62" cy="483.16" r="0.66" fill="#7070a8" opacity="0.45"/>
<circle cx="280.49" cy="511.13" r="0.40" fill="#8a88b8" opacity="0.45"/>
<circle cx="326.23" cy="518.49" r="0.75" fill="#8a88b8" opacity="0.45"/>
<circle cx="313.20" cy="505.77" r="0.32" fill="#a8886c" opacity="0.45"/>
<circle cx="301.12" cy="525.23" r="0.45" fill="#7070a8" opacity="0.45"/>
<circle cx="326.48" cy="481.80" r="0.61" fill="#8a88b8" opacity="0.45"/>
<circle cx="305.87" cy="483.48" r="0.69" fill="#a8886c" opacity="0.45"/>
<circle cx="324.92" cy="484.38" r="0.32" fill="#8a88b8" opacity="0.45"/>
<circle cx="330.79" cy="482.10" r="0.66" fill="#a8886c" opacity="0.45"/>
<circle cx="273.98" cy="526.43" r="0.70" fill="#7070a8" opacity="0.45"/>
<circle cx="271.41" cy="500.56" r="0.65" fill="#a8886c" opacity="0.45"/>
<circle cx="317.14" cy="479.76" r="0.34" fill="#a8886c" opacity="0.45"/>
<circle cx="287.01" cy="511.77" r="0.59" fill="#7070a8" opacity="0.45"/>
<circle cx="306.25" cy="517.35" r="0.63" fill="#7070a8" opacity="0.45"/>
<circle cx="330.60" cy="522.41" r="0.68" fill="#a8886c" opacity="0.45"/>
<circle cx="295.62" cy="493.00" r="0.63" fill="#a8886c" opacity="0.45"/>
<circle cx="272.98" cy="485.42" r="0.73" fill="#8a88b8" opacity="0.45"/>
<circle cx="291.03" cy="489.27" r="0.56" fill="#a8886c" opacity="0.45"/>
<circle cx="272.74" cy="510.07" r="0.75" fill="#a8886c" opacity="0.45"/>
<circle cx="308.09" cy="517.25" r="0.49" fill="#8a88b8" opacity="0.45"/>
<circle cx="320.03" cy="526.05" r="0.74" fill="#7070a8" opacity="0.45"/>
<circle cx="295.24" cy="513.43" r="0.41" fill="#8a88b8" opacity="0.45"/>
<circle cx="333.54" cy="515.59" r="0.67" fill="#7070a8" opacity="0.45"/>
<circle cx="287.45" cy="520.40" r="0.41" fill="#7070a8" opacity="0.45"/>
<circle cx="300.16" cy="510.84" r="0.32" fill="#7070a8" opacity="0.45"/>
<circle cx="314.38" cy="512.01" r="0.59" fill="#a8886c" opacity="0.45"/>
<circle cx="300.56" cy="522.33" r="0.33" fill="#7070a8" opacity="0.45"/>
<circle cx="316.21" cy="487.69" r="0.47" fill="#8a88b8" opacity="0.45"/>
<circle cx="284.08" cy="483.99" r="0.46" fill="#7070a8" opacity="0.45"/>
<circle cx="319.47" cy="495.66" r="0.52" fill="#a8886c" opacity="0.45"/>
<circle cx="274.29" cy="508.31" r="0.51" fill="#a8886c" opacity="0.45"/>
<circle cx="301.58" cy="493.56" r="0.32" fill="#7070a8" opacity="0.45"/>
<circle cx="304.50" cy="511.83" r="0.52" fill="#8a88b8" opacity="0.45"/>
<circle cx="290.06" cy="511.27" r="0.63" fill="#7070a8" opacity="0.45"/>
<circle cx="322.23" cy="479.95" r="0.53" fill="#7070a8" opacity="0.45"/>
<circle cx="335.01" cy="521.20" r="0.40" fill="#a8886c" opacity="0.45"/>
<circle cx="325.51" cy="507.40" r="0.67" fill="#a8886c" opacity="0.45"/>
<circle cx="282.48" cy="490.73" r="0.69" fill="#8a88b8" opacity="0.45"/>
<circle cx="293.69" cy="518.39" r="0.75" fill="#a8886c" opacity="0.45"/>
<circle cx="278.18" cy="480.74" r="0.69" fill="#a8886c" opacity="0.45"/>
<circle cx="282.12" cy="488.42" r="0.66" fill="#7070a8" opacity="0.45"/>
<circle cx="303.93" cy="514.56" r="0.72" fill="#a8886c" opacity="0.45"/>
<circle cx="309.20" cy="484.23" r="0.65" fill="#a8886c" opacity="0.45"/>
<circle cx="334.48" cy="508.02" r="0.66" fill="#8a88b8" opacity="0.45"/>
<circle cx="323.82" cy="518.53" r="0.41" fill="#8a88b8" opacity="0.45"/>
<circle cx="305.93" cy="505.05" r="0.74" fill="#8a88b8" opacity="0.45"/>
<circle cx="295.26" cy="504.60" r="0.36" fill="#8a88b8" opacity="0.45"/>
<circle cx="301.67" cy="484.56" r="0.65" fill="#7070a8" opacity="0.45"/>
<circle cx="327.00" cy="506.96" r="0.40" fill="#7070a8" opacity="0.45"/>
<circle cx="279.66" cy="505.68" r="0.44" fill="#8a88b8" opacity="0.45"/>
<circle cx="275.24" cy="511.04" r="0.74" fill="#a8886c" opacity="0.45"/>
<circle cx="278.92" cy="503.26" r="0.68" fill="#7070a8" opacity="0.45"/>
<circle cx="300.25" cy="525.88" r="0.65" fill="#8a88b8" opacity="0.45"/>
<circle cx="293.82" cy="504.73" r="0.44" fill="#7070a8" opacity="0.45"/>
<circle cx="305.39" cy="488.62" r="0.54" fill="#a8886c" opacity="0.45"/>
<circle cx="303.90" cy="516.67" r="0.72" fill="#a8886c" opacity="0.45"/>
<circle cx="298.41" cy="487.43" r="0.73" fill="#a8886c" opacity="0.45"/>
<circle cx="311.29" cy="502.11" r="0.39" fill="#8a88b8" opacity="0.45"/>
<circle cx="328.09" cy="499.88" r="0.64" fill="#8a88b8" opacity="0.45"/>
<circle cx="305.82" cy="512.52" r="0.44" fill="#7070a8" opacity="0.45"/>
<circle cx="322.75" cy="489.28" r="0.61" fill="#8a88b8" opacity="0.45"/>
<circle cx="278.75" cy="490.55" r="0.59" fill="#7070a8" opacity="0.45"/>
<circle cx="280.30" cy="497.80" r="0.35" fill="#7070a8" opacity="0.45"/>
<circle cx="271.76" cy="514.62" r="0.60" fill="#a8886c" opacity="0.45"/>
<circle cx="273.31" cy="492.15" r="0.41" fill="#a8886c" opacity="0.45"/>
<circle cx="332.96" cy="489.92" r="0.66" fill="#7070a8" opacity="0.45"/>
<circle cx="271.29" cy="519.80" r="0.49" fill="#8a88b8" opacity="0.45"/>
<circle cx="288.63" cy="502.41" r="0.65" fill="#8a88b8" opacity="0.45"/>
<circle cx="274.27" cy="521.66" r="0.50" fill="#8a88b8" opacity="0.45"/>
<circle cx="317.94" cy="491.39" r="0.73" fill="#7070a8" opacity="0.45"/>
<circle cx="303.44" cy="522.86" r="0.44" fill="#7070a8" opacity="0.45"/>
<circle cx="302.74" cy="498.44" r="0.52" fill="#8a88b8" opacity="0.45"/>
<circle cx="291.93" cy="499.33" r="0.43" fill="#a8886c" opacity="0.45"/>
<circle cx="324.72" cy="482.16" r="0.60" fill="#a8886c" opacity="0.45"/>
<circle cx="275.17" cy="486.60" r="0.38" fill="#a8886c" opacity="0.45"/>
<circle cx="299.58" cy="524.16" r="0.47" fill="#a8886c" opacity="0.45"/>
<circle cx="271.32" cy="506.42" r="0.68" fill="#7070a8" opacity="0.45"/>
<circle cx="289.49" cy="503.46" r="0.56" fill="#8a88b8" opacity="0.45"/>
<circle cx="318.54" cy="502.09" r="0.73" fill="#a8886c" opacity="0.45"/>
<circle cx="316.88" cy="500.79" r="0.46" fill="#8a88b8" opacity="0.45"/>
<circle cx="301.46" cy="515.01" r="0.47" fill="#a8886c" opacity="0.45"/>
<circle cx="282.97" cy="484.94" r="0.74" fill="#7070a8" opacity="0.45"/>
<circle cx="302.77" cy="513.93" r="0.67" fill="#a8886c" opacity="0.45"/>
<circle cx="313.63" cy="490.07" r="0.72" fill="#7070a8" opacity="0.45"/>
<circle cx="279.97" cy="509.81" r="0.64" fill="#7070a8" opacity="0.45"/>
<circle cx="309.22" cy="520.83" r="0.38" fill="#7070a8" opacity="0.45"/>
<circle cx="284.58" cy="484.99" r="0.68" fill="#a8886c" opacity="0.45"/>
<circle cx="291.96" cy="503.39" r="0.39" fill="#7070a8" opacity="0.45"/>
<circle cx="277.94" cy="482.94" r="0.75" fill="#7070a8" opacity="0.45"/>
<circle cx="319.67" cy="505.95" r="0.37" fill="#7070a8" opacity="0.45"/>
<circle cx="292.61" cy="506.40" r="0.66" fill="#8a88b8" opacity="0.45"/>
<circle cx="297.69" cy="508.41" r="0.58" fill="#a8886c" opacity="0.45"/>
<circle cx="272.44" cy="520.06" r="0.31" fill="#7070a8" opacity="0.45"/>
<circle cx="316.79" cy="488.11" r="0.57" fill="#8a88b8" opacity="0.45"/>
<circle cx="279.15" cy="493.36" r="0.31" fill="#8a88b8" opacity="0.45"/>
<circle cx="317.70" cy="519.03" r="0.65" fill="#a8886c" opacity="0.45"/>
<circle cx="282.94" cy="492.52" r="0.42" fill="#a8886c" opacity="0.45"/>
<circle cx="297.70" cy="521.38" r="0.60" fill="#7070a8" opacity="0.45"/>
<circle cx="303.93" cy="516.75" r="0.52" fill="#a8886c" opacity="0.45"/>
<circle cx="334.28" cy="486.57" r="0.34" fill="#a8886c" opacity="0.45"/>
<circle cx="292.56" cy="487.54" r="0.66" fill="#8a88b8" opacity="0.45"/>
<circle cx="298.75" cy="510.19" r="0.70" fill="#a8886c" opacity="0.45"/>
<circle cx="298.35" cy="505.27" r="0.30" fill="#a8886c" opacity="0.45"/>
<circle cx="273.60" cy="504.54" r="0.65" fill="#7070a8" opacity="0.45"/>
<circle cx="272.94" cy="479.64" r="0.33" fill="#7070a8" opacity="0.45"/>
<circle cx="305.08" cy="517.37" r="0.37" fill="#a8886c" opacity="0.45"/>
<circle cx="309.88" cy="497.25" r="0.47" fill="#7070a8" opacity="0.45"/>
<circle cx="292.26" cy="488.07" r="0.36" fill="#8a88b8" opacity="0.45"/>
<circle cx="328.54" cy="498.15" r="0.39" fill="#7070a8" opacity="0.45"/>
<circle cx="327.01" cy="513.53" r="0.58" fill="#8a88b8" opacity="0.45"/>
<circle cx="290.92" cy="503.15" r="0.42" fill="#8a88b8" opacity="0.45"/>
<circle cx="306.91" cy="525.29" r="0.41" fill="#8a88b8" opacity="0.45"/>
<circle cx="327.72" cy="509.61" r="0.35" fill="#7070a8" opacity="0.45"/>
<circle cx="295.38" cy="494.93" r="0.73" fill="#7070a8" opacity="0.45"/>
<circle cx="289.95" cy="514.99" r="0.44" fill="#7070a8" opacity="0.45"/>
<circle cx="324.45" cy="494.36" r="0.62" fill="#7070a8" opacity="0.45"/>
<circle cx="289.10" cy="492.93" r="0.43" fill="#8a88b8" opacity="0.45"/>
<circle cx="330.05" cy="495.35" r="0.73" fill="#8a88b8" opacity="0.45"/>
<circle cx="290.78" cy="511.38" r="0.34" fill="#a8886c" opacity="0.45"/>
<circle cx="301.32" cy="515.60" r="0.30" fill="#8a88b8" opacity="0.45"/>
<circle cx="331.37" cy="497.24" r="0.69" fill="#8a88b8" opacity="0.45"/>
<circle cx="314.76" cy="486.33" r="0.42" fill="#8a88b8" opacity="0.45"/>
<circle cx="327.94" cy="521.04" r="0.72" fill="#a8886c" opacity="0.45"/>
<circle cx="309.74" cy="524.30" r="0.62" fill="#8a88b8" opacity="0.45"/>
<circle cx="296.80" cy="497.58" r="0.44" fill="#7070a8" opacity="0.45"/>
<circle cx="277.67" cy="505.27" r="0.52" fill="#7070a8" opacity="0.45"/>
<circle cx="286.05" cy="526.07" r="0.70" fill="#a8886c" opacity="0.45"/>
<circle cx="273.03" cy="506.25" r="0.66" fill="#8a88b8" opacity="0.45"/>
<circle cx="330.90" cy="490.99" r="0.66" fill="#a8886c" opacity="0.45"/>
<circle cx="310.15" cy="493.91" r="0.49" fill="#a8886c" opacity="0.45"/>
<circle cx="288.78" cy="491.52" r="0.67" fill="#a8886c" opacity="0.45"/>
<circle cx="282.64" cy="514.03" r="0.39" fill="#a8886c" opacity="0.45"/>
<rect x="271.1" y="478.8" width="64.1" height="48.4" filter="url(#nzL)" opacity="0.2"/>
<rect x="271.1" y="478.8" width="64.1" height="48.4" filter="url(#nzB)" opacity="0.22"/>
<path d="M271.1,478.8 H284.1 C280.1,483.8 276.1,490.8 274.1,498.8 C272.6,508.8 272.1,518.8 272.1,527.2 H271.1 Z" fill="#d6d6d2" opacity="0.85"/>
<rect x="328.20" y="524.20" width="5" height="1.6" fill="#fff" opacity="0.9"/>
</g>
<g clip-path="url(#c14)">
<rect x="339.2" y="478.8" width="64.1" height="48.4" fill="#b89478"/>
<path d="M363.2,478.8 C367.2,493.8 370.2,508.8 373.2,527.2" stroke="#9c98b4" stroke-width="4" fill="none" opacity="0.7"/>
<path d="M367.2,478.8 C372.2,493.8 375.2,508.8 377.2,527.2 H403.29999999999995 V478.8 Z" fill="#8a6a5c" opacity="0.5"/>
<path d="M375.2,478.8 H403.29999999999995 V496.8 C401.2,490.8 395.2,483.8 385.2,480.8 C381.2,479.8 377.2,479.8 375.2,478.8 Z" fill="#d6d6d2"/>
<path d="M379.2,501.8 l3,-3 l2,4 l-2,3z" fill="#f0ece8"/>
<path d="M373.2,520.8 l2,-2 l1,3z" fill="#f0ece8"/>
<circle cx="401.07" cy="479.36" r="0.67" fill="#5a4050" opacity="0.45"/>
<circle cx="397.72" cy="490.37" r="0.33" fill="#6a5a88" opacity="0.45"/>
<circle cx="348.64" cy="512.43" r="0.48" fill="#5a4050" opacity="0.45"/>
<circle cx="360.87" cy="513.08" r="0.44" fill="#c09070" opacity="0.45"/>
<circle cx="361.27" cy="524.06" r="0.40" fill="#c09070" opacity="0.45"/>
<circle cx="390.33" cy="489.61" r="0.76" fill="#6a5a88" opacity="0.45"/>
<circle cx="366.15" cy="506.73" r="0.72" fill="#c09070" opacity="0.45"/>
<circle cx="344.26" cy="506.13" r="0.48" fill="#6a5a88" opacity="0.45"/>
<circle cx="359.40" cy="512.39" r="0.53" fill="#5a4050" opacity="0.45"/>
<circle cx="370.63" cy="524.54" r="0.31" fill="#5a4050" opacity="0.45"/>
<circle cx="373.43" cy="508.52" r="0.69" fill="#6a5a88" opacity="0.45"/>
<circle cx="340.31" cy="504.45" r="0.38" fill="#5a4050" opacity="0.45"/>
<circle cx="396.37" cy="497.94" r="0.34" fill="#6a5a88" opacity="0.45"/>
<circle cx="393.07" cy="505.66" r="0.50" fill="#6a5a88" opacity="0.45"/>
<circle cx="354.09" cy="505.11" r="0.55" fill="#5a4050" opacity="0.45"/>
<circle cx="354.28" cy="493.86" r="0.71" fill="#c09070" opacity="0.45"/>
<circle cx="364.00" cy="501.86" r="0.74" fill="#5a4050" opacity="0.45"/>
<circle cx="387.74" cy="519.34" r="0.44" fill="#5a4050" opacity="0.45"/>
<circle cx="346.60" cy="502.64" r="0.49" fill="#c09070" opacity="0.45"/>
<circle cx="398.68" cy="514.67" r="0.44" fill="#5a4050" opacity="0.45"/>
<circle cx="368.09" cy="481.68" r="0.43" fill="#c09070" opacity="0.45"/>
<circle cx="375.42" cy="521.03" r="0.55" fill="#6a5a88" opacity="0.45"/>
<circle cx="343.16" cy="519.64" r="0.58" fill="#c09070" opacity="0.45"/>
<circle cx="354.06" cy="515.35" r="0.52" fill="#6a5a88" opacity="0.45"/>
<circle cx="355.59" cy="482.91" r="0.30" fill="#c09070" opacity="0.45"/>
<circle cx="387.51" cy="519.23" r="0.52" fill="#5a4050" opacity="0.45"/>
<circle cx="378.85" cy="512.93" r="0.60" fill="#c09070" opacity="0.45"/>
<circle cx="374.36" cy="480.30" r="0.52" fill="#c09070" opacity="0.45"/>
<circle cx="340.16" cy="511.19" r="0.47" fill="#c09070" opacity="0.45"/>
<circle cx="397.45" cy="478.94" r="0.43" fill="#c09070" opacity="0.45"/>
<circle cx="402.42" cy="494.82" r="0.76" fill="#6a5a88" opacity="0.45"/>
<circle cx="376.82" cy="502.61" r="0.30" fill="#c09070" opacity="0.45"/>
<circle cx="384.20" cy="495.26" r="0.33" fill="#5a4050" opacity="0.45"/>
<circle cx="380.31" cy="503.27" r="0.77" fill="#6a5a88" opacity="0.45"/>
<circle cx="376.11" cy="495.00" r="0.75" fill="#5a4050" opacity="0.45"/>
<circle cx="360.71" cy="494.05" r="0.53" fill="#6a5a88" opacity="0.45"/>
<circle cx="374.31" cy="502.24" r="0.75" fill="#c09070" opacity="0.45"/>
<circle cx="398.66" cy="506.92" r="0.35" fill="#5a4050" opacity="0.45"/>
<circle cx="384.60" cy="501.16" r="0.38" fill="#5a4050" opacity="0.45"/>
<circle cx="376.30" cy="505.42" r="0.68" fill="#c09070" opacity="0.45"/>
<circle cx="365.21" cy="526.24" r="0.62" fill="#6a5a88" opacity="0.45"/>
<circle cx="346.65" cy="504.46" r="0.53" fill="#5a4050" opacity="0.45"/>
<circle cx="392.44" cy="511.98" r="0.76" fill="#c09070" opacity="0.45"/>
<circle cx="394.67" cy="526.58" r="0.63" fill="#c09070" opacity="0.45"/>
<circle cx="341.03" cy="495.11" r="0.68" fill="#c09070" opacity="0.45"/>
<circle cx="403.22" cy="481.72" r="0.76" fill="#6a5a88" opacity="0.45"/>
<circle cx="376.60" cy="489.09" r="0.33" fill="#c09070" opacity="0.45"/>
<circle cx="352.35" cy="511.56" r="0.70" fill="#6a5a88" opacity="0.45"/>
<circle cx="367.67" cy="486.61" r="0.75" fill="#c09070" opacity="0.45"/>
<circle cx="349.27" cy="520.69" r="0.33" fill="#c09070" opacity="0.45"/>
<circle cx="353.69" cy="514.60" r="0.39" fill="#6a5a88" opacity="0.45"/>
<circle cx="348.60" cy="487.19" r="0.80" fill="#c09070" opacity="0.45"/>
<circle cx="369.18" cy="487.08" r="0.33" fill="#c09070" opacity="0.45"/>
<circle cx="398.48" cy="526.06" r="0.42" fill="#5a4050" opacity="0.45"/>
<circle cx="368.17" cy="498.39" r="0.63" fill="#5a4050" opacity="0.45"/>
<circle cx="382.08" cy="526.91" r="0.61" fill="#c09070" opacity="0.45"/>
<circle cx="367.72" cy="495.06" r="0.74" fill="#6a5a88" opacity="0.45"/>
<circle cx="389.76" cy="497.69" r="0.70" fill="#c09070" opacity="0.45"/>
<circle cx="383.85" cy="503.10" r="0.36" fill="#6a5a88" opacity="0.45"/>
<circle cx="400.32" cy="500.59" r="0.54" fill="#6a5a88" opacity="0.45"/>
<circle cx="375.81" cy="503.96" r="0.41" fill="#5a4050" opacity="0.45"/>
<circle cx="350.09" cy="505.49" r="0.50" fill="#5a4050" opacity="0.45"/>
<circle cx="383.78" cy="511.83" r="0.46" fill="#c09070" opacity="0.45"/>
<circle cx="355.49" cy="523.99" r="0.44" fill="#c09070" opacity="0.45"/>
<circle cx="346.92" cy="521.64" r="0.64" fill="#c09070" opacity="0.45"/>
<circle cx="349.68" cy="491.39" r="0.45" fill="#c09070" opacity="0.45"/>
<circle cx="381.51" cy="490.44" r="0.37" fill="#6a5a88" opacity="0.45"/>
<circle cx="402.99" cy="510.51" r="0.70" fill="#c09070" opacity="0.45"/>
<circle cx="402.04" cy="489.49" r="0.44" fill="#c09070" opacity="0.45"/>
<circle cx="384.12" cy="501.54" r="0.61" fill="#c09070" opacity="0.45"/>
<circle cx="386.81" cy="524.82" r="0.54" fill="#5a4050" opacity="0.45"/>
<circle cx="359.81" cy="497.24" r="0.79" fill="#c09070" opacity="0.45"/>
<circle cx="360.27" cy="494.98" r="0.69" fill="#c09070" opacity="0.45"/>
<circle cx="353.66" cy="511.37" r="0.41" fill="#6a5a88" opacity="0.45"/>
<circle cx="392.23" cy="487.46" r="0.56" fill="#c09070" opacity="0.45"/>
<circle cx="355.65" cy="490.36" r="0.43" fill="#c09070" opacity="0.45"/>
<circle cx="393.88" cy="519.37" r="0.72" fill="#c09070" opacity="0.45"/>
<circle cx="399.22" cy="486.59" r="0.56" fill="#6a5a88" opacity="0.45"/>
<circle cx="352.96" cy="523.83" r="0.73" fill="#6a5a88" opacity="0.45"/>
<circle cx="388.66" cy="516.97" r="0.66" fill="#6a5a88" opacity="0.45"/>
<circle cx="346.43" cy="507.74" r="0.43" fill="#5a4050" opacity="0.45"/>
<circle cx="353.45" cy="495.91" r="0.50" fill="#6a5a88" opacity="0.45"/>
<circle cx="358.19" cy="509.67" r="0.75" fill="#c09070" opacity="0.45"/>
<circle cx="362.34" cy="510.55" r="0.77" fill="#c09070" opacity="0.45"/>
<circle cx="387.31" cy="523.37" r="0.54" fill="#6a5a88" opacity="0.45"/>
<circle cx="393.09" cy="509.58" r="0.51" fill="#5a4050" opacity="0.45"/>
<circle cx="382.26" cy="486.92" r="0.37" fill="#5a4050" opacity="0.45"/>
<circle cx="379.25" cy="480.95" r="0.49" fill="#6a5a88" opacity="0.45"/>
<circle cx="373.54" cy="499.83" r="0.38" fill="#6a5a88" opacity="0.45"/>
<circle cx="361.24" cy="518.51" r="0.35" fill="#5a4050" opacity="0.45"/>
<circle cx="342.67" cy="504.10" r="0.43" fill="#6a5a88" opacity="0.45"/>
<circle cx="401.20" cy="481.13" r="0.55" fill="#5a4050" opacity="0.45"/>
<circle cx="339.68" cy="500.13" r="0.78" fill="#5a4050" opacity="0.45"/>
<circle cx="383.44" cy="511.77" r="0.55" fill="#c09070" opacity="0.45"/>
<circle cx="402.85" cy="517.19" r="0.41" fill="#6a5a88" opacity="0.45"/>
<circle cx="401.25" cy="523.52" r="0.72" fill="#6a5a88" opacity="0.45"/>
<circle cx="390.84" cy="481.11" r="0.68" fill="#6a5a88" opacity="0.45"/>
<circle cx="350.96" cy="523.84" r="0.73" fill="#c09070" opacity="0.45"/>
<circle cx="400.54" cy="494.08" r="0.68" fill="#6a5a88" opacity="0.45"/>
<circle cx="346.15" cy="491.95" r="0.38" fill="#5a4050" opacity="0.45"/>
<circle cx="354.83" cy="500.29" r="0.68" fill="#c09070" opacity="0.45"/>
<circle cx="357.24" cy="482.31" r="0.56" fill="#5a4050" opacity="0.45"/>
<circle cx="382.06" cy="514.61" r="0.67" fill="#6a5a88" opacity="0.45"/>
<circle cx="361.55" cy="487.44" r="0.40" fill="#5a4050" opacity="0.45"/>
<circle cx="345.76" cy="496.61" r="0.39" fill="#5a4050" opacity="0.45"/>
<circle cx="395.65" cy="493.08" r="0.77" fill="#6a5a88" opacity="0.45"/>
<circle cx="370.09" cy="512.47" r="0.37" fill="#6a5a88" opacity="0.45"/>
<circle cx="397.01" cy="515.39" r="0.32" fill="#c09070" opacity="0.45"/>
<circle cx="366.52" cy="502.09" r="0.60" fill="#6a5a88" opacity="0.45"/>
<circle cx="393.87" cy="496.52" r="0.58" fill="#6a5a88" opacity="0.45"/>
<circle cx="380.39" cy="481.50" r="0.54" fill="#c09070" opacity="0.45"/>
<circle cx="377.44" cy="486.84" r="0.42" fill="#6a5a88" opacity="0.45"/>
<circle cx="362.66" cy="524.98" r="0.79" fill="#c09070" opacity="0.45"/>
<circle cx="382.59" cy="519.35" r="0.48" fill="#5a4050" opacity="0.45"/>
<circle cx="348.44" cy="511.71" r="0.61" fill="#6a5a88" opacity="0.45"/>
<circle cx="347.07" cy="482.13" r="0.80" fill="#5a4050" opacity="0.45"/>
<circle cx="359.37" cy="499.74" r="0.41" fill="#6a5a88" opacity="0.45"/>
<circle cx="363.59" cy="488.48" r="0.57" fill="#c09070" opacity="0.45"/>
<circle cx="340.35" cy="517.36" r="0.62" fill="#5a4050" opacity="0.45"/>
<circle cx="348.33" cy="524.88" r="0.79" fill="#c09070" opacity="0.45"/>
<circle cx="401.70" cy="487.59" r="0.51" fill="#c09070" opacity="0.45"/>
<circle cx="384.79" cy="481.02" r="0.36" fill="#5a4050" opacity="0.45"/>
<circle cx="364.05" cy="522.82" r="0.69" fill="#5a4050" opacity="0.45"/>
<circle cx="347.41" cy="492.56" r="0.58" fill="#c09070" opacity="0.45"/>
<circle cx="362.91" cy="519.27" r="0.61" fill="#5a4050" opacity="0.45"/>
<circle cx="399.64" cy="516.69" r="0.46" fill="#c09070" opacity="0.45"/>
<circle cx="373.93" cy="502.90" r="0.51" fill="#6a5a88" opacity="0.45"/>
<circle cx="350.25" cy="500.27" r="0.45" fill="#5a4050" opacity="0.45"/>
<circle cx="362.85" cy="510.68" r="0.72" fill="#c09070" opacity="0.45"/>
<circle cx="363.24" cy="525.41" r="0.34" fill="#5a4050" opacity="0.45"/>
<circle cx="401.31" cy="482.07" r="0.68" fill="#5a4050" opacity="0.45"/>
<circle cx="381.36" cy="519.16" r="0.42" fill="#6a5a88" opacity="0.45"/>
<circle cx="390.72" cy="493.28" r="0.30" fill="#5a4050" opacity="0.45"/>
<circle cx="387.01" cy="523.96" r="0.37" fill="#6a5a88" opacity="0.45"/>
<circle cx="378.18" cy="515.58" r="0.74" fill="#c09070" opacity="0.45"/>
<circle cx="388.41" cy="519.94" r="0.34" fill="#c09070" opacity="0.45"/>
<circle cx="377.90" cy="522.15" r="0.38" fill="#6a5a88" opacity="0.45"/>
<circle cx="342.31" cy="519.02" r="0.41" fill="#6a5a88" opacity="0.45"/>
<circle cx="396.48" cy="479.92" r="0.35" fill="#c09070" opacity="0.45"/>
<circle cx="396.82" cy="489.05" r="0.40" fill="#c09070" opacity="0.45"/>
<circle cx="397.88" cy="503.74" r="0.37" fill="#5a4050" opacity="0.45"/>
<circle cx="386.55" cy="526.94" r="0.69" fill="#6a5a88" opacity="0.45"/>
<circle cx="388.91" cy="481.35" r="0.77" fill="#6a5a88" opacity="0.45"/>
<circle cx="356.12" cy="524.83" r="0.34" fill="#c09070" opacity="0.45"/>
<circle cx="373.71" cy="485.18" r="0.40" fill="#6a5a88" opacity="0.45"/>
<circle cx="345.86" cy="486.43" r="0.33" fill="#6a5a88" opacity="0.45"/>
<circle cx="376.07" cy="520.01" r="0.42" fill="#c09070" opacity="0.45"/>
<circle cx="388.26" cy="503.83" r="0.58" fill="#5a4050" opacity="0.45"/>
<circle cx="359.68" cy="487.03" r="0.74" fill="#5a4050" opacity="0.45"/>
<circle cx="381.15" cy="481.80" r="0.36" fill="#5a4050" opacity="0.45"/>
<circle cx="363.29" cy="525.21" r="0.63" fill="#6a5a88" opacity="0.45"/>
<circle cx="371.07" cy="513.41" r="0.53" fill="#6a5a88" opacity="0.45"/>
<circle cx="369.74" cy="489.92" r="0.49" fill="#c09070" opacity="0.45"/>
<circle cx="355.51" cy="484.85" r="0.44" fill="#6a5a88" opacity="0.45"/>
<circle cx="384.09" cy="490.27" r="0.55" fill="#c09070" opacity="0.45"/>
<circle cx="398.48" cy="495.79" r="0.51" fill="#6a5a88" opacity="0.45"/>
<circle cx="369.76" cy="500.95" r="0.77" fill="#c09070" opacity="0.45"/>
<circle cx="351.85" cy="489.08" r="0.47" fill="#c09070" opacity="0.45"/>
<circle cx="361.91" cy="492.84" r="0.47" fill="#c09070" opacity="0.45"/>
<circle cx="366.34" cy="500.98" r="0.60" fill="#5a4050" opacity="0.45"/>
<circle cx="385.44" cy="508.13" r="0.56" fill="#5a4050" opacity="0.45"/>
<circle cx="348.05" cy="498.20" r="0.69" fill="#6a5a88" opacity="0.45"/>
<circle cx="391.14" cy="521.87" r="0.52" fill="#5a4050" opacity="0.45"/>
<circle cx="382.81" cy="505.93" r="0.54" fill="#c09070" opacity="0.45"/>
<circle cx="392.22" cy="523.57" r="0.53" fill="#5a4050" opacity="0.45"/>
<circle cx="354.59" cy="519.12" r="0.69" fill="#6a5a88" opacity="0.45"/>
<circle cx="386.76" cy="489.02" r="0.46" fill="#c09070" opacity="0.45"/>
<circle cx="364.27" cy="487.24" r="0.77" fill="#5a4050" opacity="0.45"/>
<circle cx="369.58" cy="506.77" r="0.62" fill="#6a5a88" opacity="0.45"/>
<circle cx="396.79" cy="516.73" r="0.31" fill="#5a4050" opacity="0.45"/>
<circle cx="354.03" cy="491.67" r="0.79" fill="#6a5a88" opacity="0.45"/>
<circle cx="349.45" cy="519.98" r="0.43" fill="#6a5a88" opacity="0.45"/>
<circle cx="383.63" cy="504.60" r="0.77" fill="#5a4050" opacity="0.45"/>
<circle cx="365.87" cy="483.83" r="0.58" fill="#c09070" opacity="0.45"/>
<circle cx="359.53" cy="519.87" r="0.31" fill="#c09070" opacity="0.45"/>
<circle cx="401.15" cy="503.75" r="0.71" fill="#5a4050" opacity="0.45"/>
<circle cx="398.37" cy="499.73" r="0.55" fill="#5a4050" opacity="0.45"/>
<circle cx="370.58" cy="511.68" r="0.70" fill="#c09070" opacity="0.45"/>
<circle cx="391.08" cy="522.17" r="0.56" fill="#c09070" opacity="0.45"/>
<circle cx="344.20" cy="480.61" r="0.60" fill="#6a5a88" opacity="0.45"/>
<rect x="339.2" y="478.8" width="64.1" height="48.4" filter="url(#nzL)" opacity="0.2"/>
<rect x="339.2" y="478.8" width="64.1" height="48.4" filter="url(#nzB)" opacity="0.22"/>
<path d="M375.2,478.8 H403.29999999999995 V496.8 C401.2,490.8 395.2,483.8 385.2,480.8 C381.2,479.8 377.2,479.8 375.2,478.8 Z" fill="#d6d6d2" opacity="0.85"/>
<rect x="396.30" y="524.20" width="5" height="1.6" fill="#fff" opacity="0.9"/>
</g>
<text transform="translate(498.80 415.60) rotate(-31) scale(1 1.07)" font-size="9.3" text-anchor="start" fill="#111" stroke="#111" stroke-width="0.25">CON</text>
<text transform="translate(531.80 415.60) rotate(-31) scale(1 1.07)" font-size="9.3" text-anchor="start" fill="#111" stroke="#111" stroke-width="0.25">EMs</text>
<text transform="translate(565.30 415.60) rotate(-31) scale(1 1.07)" font-size="9.3" text-anchor="start" fill="#111" stroke="#111" stroke-width="0.25">IRON</text>
<text transform="translate(597.80 415.60) rotate(-31) scale(1 1.07)" font-size="9.3" text-anchor="start" fill="#111" stroke="#111" stroke-width="0.25">IRON+DFO</text>
<text transform="translate(632.00 415.60) rotate(-31) scale(1 1.07)" font-size="9.3" text-anchor="start" fill="#111" stroke="#111" stroke-width="0.25">IRON+VITE</text>
<rect x="483.8" y="417.8" width="164.9" height="23.8" fill="url(#blotg)"/>
<rect x="483.8" y="447.9" width="164.9" height="24.3" fill="url(#blotg)"/>
<path d="M490.30,428.22 C492.80,427.57 494.45,427.70 500.45,428.48 C506.45,427.70 508.10,427.57 510.60,428.22 C512.60,429.26 512.60,431.34 510.60,432.38 C508.10,433.03 506.45,432.90 500.45,432.12 C494.45,432.90 492.80,433.03 490.30,432.38 C488.30,431.34 488.30,429.26 490.30,428.22 Z" fill="#101010" opacity="1" filter="url(#blur1)"/>
<path d="M522.40,428.42 C524.90,427.83 526.85,427.95 532.85,428.66 C538.85,427.95 540.80,427.83 543.30,428.42 C545.30,429.36 545.30,431.24 543.30,432.18 C540.80,432.77 538.85,432.65 532.85,431.94 C526.85,432.65 524.90,432.77 522.40,432.18 C520.40,431.24 520.40,429.36 522.40,428.42 Z" fill="#101010" opacity="1" filter="url(#blur1)"/>
<path d="M554.30,429.14 C556.80,428.71 558.50,428.80 564.50,429.14 C570.50,428.80 572.20,428.71 574.70,429.14 C576.70,429.82 576.70,431.18 574.70,431.86 C572.20,432.29 570.50,432.20 564.50,431.86 C558.50,432.20 556.80,432.29 554.30,431.86 C552.30,431.18 552.30,429.82 554.30,429.14 Z" fill="#101010" opacity="1" filter="url(#blur1)"/>
<path d="M585.50,429.56 C588.00,429.24 585.00,429.30 591.00,429.62 C597.00,429.30 594.00,429.24 596.50,429.56 C598.50,430.08 598.50,431.12 596.50,431.64 C594.00,431.97 597.00,431.90 591.00,431.58 C585.00,431.90 588.00,431.97 585.50,431.64 C583.50,431.12 583.50,430.08 585.50,429.56 Z" fill="#101010" opacity="0.45" filter="url(#blur1)"/>
<path d="M592.00,428.22 C594.50,427.57 595.15,427.70 601.15,428.09 C607.15,427.70 607.80,427.57 610.30,428.22 C612.30,429.26 612.30,431.34 610.30,432.38 C607.80,433.03 607.15,432.90 601.15,432.51 C595.15,432.90 594.50,433.03 592.00,432.38 C590.00,431.34 590.00,429.26 592.00,428.22 Z" fill="#101010" opacity="1" filter="url(#blur1)"/>
<path d="M620.80,429.12 C623.30,428.72 625.85,428.80 631.85,429.12 C637.85,428.80 640.40,428.72 642.90,429.12 C644.90,429.76 644.90,431.04 642.90,431.68 C640.40,432.08 637.85,432.00 631.85,431.68 C625.85,432.00 623.30,432.08 620.80,431.68 C618.80,431.04 618.80,429.76 620.80,429.12 Z" fill="#101010" opacity="1" filter="url(#blur1)"/>
<path d="M489.80,458.14 C492.30,457.47 492.95,457.60 498.95,457.82 C504.95,457.60 505.60,457.47 508.10,458.14 C510.10,459.22 510.10,461.38 508.10,462.46 C505.60,463.13 504.95,463.00 498.95,462.78 C492.95,463.00 492.30,463.13 489.80,462.46 C487.80,461.38 487.80,459.22 489.80,458.14 Z" fill="#101010" opacity="1" filter="url(#blur1)"/>
<path d="M522.40,458.14 C524.90,457.47 525.45,457.60 531.45,457.82 C537.45,457.60 538.00,457.47 540.50,458.14 C542.50,459.22 542.50,461.38 540.50,462.46 C538.00,463.13 537.45,463.00 531.45,462.78 C525.45,463.00 524.90,463.13 522.40,462.46 C520.40,461.38 520.40,459.22 522.40,458.14 Z" fill="#101010" opacity="1" filter="url(#blur1)"/>
<path d="M555.50,458.14 C558.00,457.47 558.45,457.60 564.45,457.82 C570.45,457.60 570.90,457.47 573.40,458.14 C575.40,459.22 575.40,461.38 573.40,462.46 C570.90,463.13 570.45,463.00 564.45,462.78 C558.45,463.00 558.00,463.13 555.50,462.46 C553.50,461.38 553.50,459.22 555.50,458.14 Z" fill="#101010" opacity="1" filter="url(#blur1)"/>
<path d="M589.00,458.14 C591.50,457.47 592.40,457.60 598.40,457.82 C604.40,457.60 605.30,457.47 607.80,458.14 C609.80,459.22 609.80,461.38 607.80,462.46 C605.30,463.13 604.40,463.00 598.40,462.78 C592.40,463.00 591.50,463.13 589.00,462.46 C587.00,461.38 587.00,459.22 589.00,458.14 Z" fill="#101010" opacity="1" filter="url(#blur1)"/>
<path d="M622.90,458.14 C625.40,457.47 625.70,457.60 631.70,457.82 C637.70,457.60 638.00,457.47 640.50,458.14 C642.50,459.22 642.50,461.38 640.50,462.46 C638.00,463.13 637.70,463.00 631.70,462.78 C625.70,463.00 625.40,463.13 622.90,462.46 C620.90,461.38 620.90,459.22 622.90,458.14 Z" fill="#101010" opacity="1" filter="url(#blur1)"/>
<text transform="translate(477.00 434.80)" font-size="9" text-anchor="end" fill="#111" stroke="#111" stroke-width="0.35">Tp53</text>
<text transform="translate(477.00 459.20)" font-size="9" text-anchor="end" fill="#111" stroke="#111" stroke-width="0.35">Gapdh</text>
<text transform="translate(481.50 488.00)" font-size="9" text-anchor="end" fill="#111" stroke="#111" stroke-width="0.35">Tp53/Gapdh</text>
<rect x="484.2" y="477.6" width="164.3" height="15" fill="#fff" stroke="#555" stroke-width="0.7"/>
<path d="M517.4,477.6 V492.6" stroke="#555" stroke-width="0.7"/>
<path d="M551.4,477.6 V492.6" stroke="#555" stroke-width="0.7"/>
<path d="M584.7,477.6 V492.6" stroke="#555" stroke-width="0.7"/>
<path d="M617.3,477.6 V492.6" stroke="#555" stroke-width="0.7"/>
<text transform="translate(500.80 488.40)" font-size="8.6" text-anchor="middle" fill="#111" stroke="#111" stroke-width="0.2">0.97</text>
<text transform="translate(534.40 488.40)" font-size="8.6" text-anchor="middle" fill="#111" stroke="#111" stroke-width="0.2">0.84</text>
<text transform="translate(568.05 488.40)" font-size="8.6" text-anchor="middle" fill="#111" stroke="#111" stroke-width="0.2">0.54</text>
<text transform="translate(601.00 488.40)" font-size="8.6" text-anchor="middle" fill="#111" stroke="#111" stroke-width="0.2">0.68</text>
<text transform="translate(632.90 488.40)" font-size="8.6" text-anchor="middle" fill="#111" stroke="#111" stroke-width="0.2">0.45</text>
</svg>
</body></html>
